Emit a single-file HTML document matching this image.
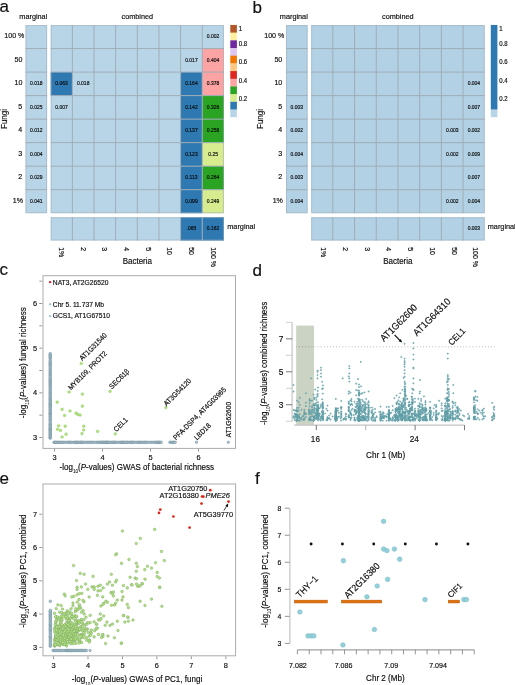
<!DOCTYPE html><html><head><meta charset="utf-8"><style>html,body{margin:0;padding:0;background:#fff;overflow:hidden}svg{display:block;will-change:transform}</style></head><body><svg width="515" height="685" viewBox="0 0 515 685" font-family='"Liberation Sans", sans-serif'>
<style>text{stroke:#000;stroke-width:0.15px;}</style>
<rect width="515" height="685" fill="#fff"/>
<text x="0.00" y="0.00" font-size="17" text-anchor="start" fill="#111" stroke-width="0.1" transform="translate(-0.60,11.90) scale(1,1.0)">a</text>
<text x="0.00" y="0.00" font-size="17" text-anchor="start" fill="#111" stroke-width="0.1" transform="translate(252.50,12.60) scale(1,1.0)">b</text>
<text x="0.00" y="0.00" font-size="17" text-anchor="start" fill="#111" stroke-width="0.1" transform="translate(-0.60,275.30) scale(1,1.0)">c</text>
<text x="0.00" y="0.00" font-size="17" text-anchor="start" fill="#111" stroke-width="0.1" transform="translate(252.50,276.00) scale(1,1.0)">d</text>
<text x="0.00" y="0.00" font-size="17" text-anchor="start" fill="#111" stroke-width="0.1" transform="translate(-0.60,484.00) scale(1,1.0)">e</text>
<text x="0.00" y="0.00" font-size="17" text-anchor="start" fill="#111" stroke-width="0.1" transform="translate(255.00,483.50) scale(1,1.0)">f</text>
<rect x="25.50" y="25.05" width="21.60" height="188.16" fill="#b8d5e8"/>
<rect x="50.70" y="25.05" width="173.20" height="188.16" fill="#b8d5e8"/>
<rect x="202.25" y="48.57" width="21.65" height="23.52" fill="#fca3a3"/>
<rect x="50.70" y="72.09" width="21.65" height="23.52" fill="#2e79b2"/>
<rect x="180.60" y="72.09" width="21.65" height="23.52" fill="#2e79b2"/>
<rect x="202.25" y="72.09" width="21.65" height="23.52" fill="#fca3a3"/>
<rect x="180.60" y="95.61" width="21.65" height="23.52" fill="#2e79b2"/>
<rect x="202.25" y="95.61" width="21.65" height="23.52" fill="#2aa422"/>
<rect x="180.60" y="119.13" width="21.65" height="23.52" fill="#2e79b2"/>
<rect x="202.25" y="119.13" width="21.65" height="23.52" fill="#2aa422"/>
<rect x="180.60" y="142.65" width="21.65" height="23.52" fill="#2e79b2"/>
<rect x="202.25" y="142.65" width="21.65" height="23.52" fill="#d6ec8f"/>
<rect x="180.60" y="166.17" width="21.65" height="23.52" fill="#2e79b2"/>
<rect x="202.25" y="166.17" width="21.65" height="23.52" fill="#2aa422"/>
<rect x="180.60" y="189.69" width="21.65" height="23.52" fill="#2e79b2"/>
<rect x="202.25" y="189.69" width="21.65" height="23.52" fill="#d6ec8f"/>
<rect x="50.70" y="217.20" width="173.20" height="23.30" fill="#b8d5e8"/>
<rect x="180.60" y="217.20" width="21.65" height="23.30" fill="#2e79b2"/>
<rect x="202.25" y="217.20" width="21.65" height="23.30" fill="#2e79b2"/>
<path d="M25.50,48.57H47.10M50.70,48.57H223.90M25.50,72.09H47.10M50.70,72.09H223.90M25.50,95.61H47.10M50.70,95.61H223.90M25.50,119.13H47.10M50.70,119.13H223.90M25.50,142.65H47.10M50.70,142.65H223.90M25.50,166.17H47.10M50.70,166.17H223.90M25.50,189.69H47.10M50.70,189.69H223.90M72.35,25.05V213.21M72.35,217.20V240.50M94.00,25.05V213.21M94.00,217.20V240.50M115.65,25.05V213.21M115.65,217.20V240.50M137.30,25.05V213.21M137.30,217.20V240.50M158.95,25.05V213.21M158.95,217.20V240.50M180.60,25.05V213.21M180.60,217.20V240.50M202.25,25.05V213.21M202.25,217.20V240.50" fill="none" stroke="#a0adb6" stroke-width="1.0"/>
<rect x="26.00" y="25.55" width="20.60" height="187.16" fill="none" stroke="#a0adb6" stroke-width="1" stroke-opacity="0.55"/>
<rect x="51.20" y="25.55" width="172.20" height="187.16" fill="none" stroke="#a0adb6" stroke-width="1" stroke-opacity="0.55"/>
<rect x="51.20" y="217.70" width="172.20" height="22.30" fill="none" stroke="#a0adb6" stroke-width="1" stroke-opacity="0.55"/>
<text x="0.00" y="0.00" font-size="5" text-anchor="middle" fill="#111" stroke-width="0.04" transform="translate(36.30,85.25) scale(1,1.08)">0.018</text>
<text x="0.00" y="0.00" font-size="5" text-anchor="middle" fill="#111" stroke-width="0.04" transform="translate(36.30,108.77) scale(1,1.08)">0.025</text>
<text x="0.00" y="0.00" font-size="5" text-anchor="middle" fill="#111" stroke-width="0.04" transform="translate(36.30,132.29) scale(1,1.08)">0.012</text>
<text x="0.00" y="0.00" font-size="5" text-anchor="middle" fill="#111" stroke-width="0.04" transform="translate(36.30,155.81) scale(1,1.08)">0.004</text>
<text x="0.00" y="0.00" font-size="5" text-anchor="middle" fill="#111" stroke-width="0.04" transform="translate(36.30,179.33) scale(1,1.08)">0.029</text>
<text x="0.00" y="0.00" font-size="5" text-anchor="middle" fill="#111" stroke-width="0.04" transform="translate(36.30,202.85) scale(1,1.08)">0.041</text>
<text x="0.00" y="0.00" font-size="5" text-anchor="middle" fill="#111" stroke-width="0.04" transform="translate(213.07,38.21) scale(1,1.08)">0.002</text>
<text x="0.00" y="0.00" font-size="5" text-anchor="middle" fill="#111" stroke-width="0.04" transform="translate(191.42,61.73) scale(1,1.08)">0.017</text>
<text x="0.00" y="0.00" font-size="5" text-anchor="middle" fill="#111" stroke-width="0.04" transform="translate(213.07,61.73) scale(1,1.08)">0.404</text>
<text x="0.00" y="0.00" font-size="5" text-anchor="middle" fill="#111" stroke-width="0.04" transform="translate(61.53,85.25) scale(1,1.08)">0.063</text>
<text x="0.00" y="0.00" font-size="5" text-anchor="middle" fill="#111" stroke-width="0.04" transform="translate(83.17,85.25) scale(1,1.08)">0.018</text>
<text x="0.00" y="0.00" font-size="5" text-anchor="middle" fill="#111" stroke-width="0.04" transform="translate(191.42,85.25) scale(1,1.08)">0.164</text>
<text x="0.00" y="0.00" font-size="5" text-anchor="middle" fill="#111" stroke-width="0.04" transform="translate(213.07,85.25) scale(1,1.08)">0.378</text>
<text x="0.00" y="0.00" font-size="5" text-anchor="middle" fill="#111" stroke-width="0.04" transform="translate(61.53,108.77) scale(1,1.08)">0.007</text>
<text x="0.00" y="0.00" font-size="5" text-anchor="middle" fill="#111" stroke-width="0.04" transform="translate(191.42,108.77) scale(1,1.08)">0.142</text>
<text x="0.00" y="0.00" font-size="5" text-anchor="middle" fill="#111" stroke-width="0.04" transform="translate(213.07,108.77) scale(1,1.08)">0.326</text>
<text x="0.00" y="0.00" font-size="5" text-anchor="middle" fill="#111" stroke-width="0.04" transform="translate(191.42,132.29) scale(1,1.08)">0.137</text>
<text x="0.00" y="0.00" font-size="5" text-anchor="middle" fill="#111" stroke-width="0.04" transform="translate(213.07,132.29) scale(1,1.08)">0.258</text>
<text x="0.00" y="0.00" font-size="5" text-anchor="middle" fill="#111" stroke-width="0.04" transform="translate(191.42,155.81) scale(1,1.08)">0.123</text>
<text x="0.00" y="0.00" font-size="5" text-anchor="middle" fill="#111" stroke-width="0.04" transform="translate(213.07,155.81) scale(1,1.08)">0.25</text>
<text x="0.00" y="0.00" font-size="5" text-anchor="middle" fill="#111" stroke-width="0.04" transform="translate(191.42,179.33) scale(1,1.08)">0.113</text>
<text x="0.00" y="0.00" font-size="5" text-anchor="middle" fill="#111" stroke-width="0.04" transform="translate(213.07,179.33) scale(1,1.08)">0.264</text>
<text x="0.00" y="0.00" font-size="5" text-anchor="middle" fill="#111" stroke-width="0.04" transform="translate(191.42,202.85) scale(1,1.08)">0.099</text>
<text x="0.00" y="0.00" font-size="5" text-anchor="middle" fill="#111" stroke-width="0.04" transform="translate(213.07,202.85) scale(1,1.08)">0.249</text>
<text x="0.00" y="0.00" font-size="5" text-anchor="middle" fill="#111" stroke-width="0.04" transform="translate(191.42,230.25) scale(1,1.08)">.065</text>
<text x="0.00" y="0.00" font-size="5" text-anchor="middle" fill="#111" stroke-width="0.04" transform="translate(213.07,230.25) scale(1,1.08)">0.162</text>
<text x="0.00" y="0.00" font-size="7.1" text-anchor="end" fill="#111" stroke-width="0.13" transform="translate(24.40,38.11) scale(1,1.08)">100 %</text>
<text x="0.00" y="0.00" font-size="7.1" text-anchor="end" fill="#111" stroke-width="0.13" transform="translate(22.40,61.63) scale(1,1.08)">50</text>
<text x="0.00" y="0.00" font-size="7.1" text-anchor="end" fill="#111" stroke-width="0.13" transform="translate(22.40,85.15) scale(1,1.08)">10</text>
<text x="0.00" y="0.00" font-size="7.1" text-anchor="end" fill="#111" stroke-width="0.13" transform="translate(22.20,108.67) scale(1,1.08)">5</text>
<text x="0.00" y="0.00" font-size="7.1" text-anchor="end" fill="#111" stroke-width="0.13" transform="translate(22.20,132.19) scale(1,1.08)">4</text>
<text x="0.00" y="0.00" font-size="7.1" text-anchor="end" fill="#111" stroke-width="0.13" transform="translate(22.20,155.71) scale(1,1.08)">3</text>
<text x="0.00" y="0.00" font-size="7.1" text-anchor="end" fill="#111" stroke-width="0.13" transform="translate(22.20,179.23) scale(1,1.08)">2</text>
<text x="0.00" y="0.00" font-size="7.1" text-anchor="end" fill="#111" stroke-width="0.13" transform="translate(23.00,202.75) scale(1,1.08)">1%</text>
<text x="0.00" y="0.00" font-size="7.0" text-anchor="start" fill="#111" stroke-width="0.13" transform="translate(59.03,247.20) rotate(90) scale(1,1.08)">1%</text>
<text x="0.00" y="0.00" font-size="7.0" text-anchor="start" fill="#111" stroke-width="0.13" transform="translate(80.67,247.20) rotate(90) scale(1,1.08)">2</text>
<text x="0.00" y="0.00" font-size="7.0" text-anchor="start" fill="#111" stroke-width="0.13" transform="translate(102.33,247.20) rotate(90) scale(1,1.08)">3</text>
<text x="0.00" y="0.00" font-size="7.0" text-anchor="start" fill="#111" stroke-width="0.13" transform="translate(123.97,247.20) rotate(90) scale(1,1.08)">4</text>
<text x="0.00" y="0.00" font-size="7.0" text-anchor="start" fill="#111" stroke-width="0.13" transform="translate(145.62,247.20) rotate(90) scale(1,1.08)">5</text>
<text x="0.00" y="0.00" font-size="7.0" text-anchor="start" fill="#111" stroke-width="0.13" transform="translate(167.27,247.20) rotate(90) scale(1,1.08)">10</text>
<text x="0.00" y="0.00" font-size="7.0" text-anchor="start" fill="#111" stroke-width="0.13" transform="translate(188.92,247.20) rotate(90) scale(1,1.08)">50</text>
<text x="0.00" y="0.00" font-size="7.0" text-anchor="start" fill="#111" stroke-width="0.13" transform="translate(210.57,247.20) rotate(90) scale(1,1.08)">100 %</text>
<text x="0.00" y="0.00" font-size="8.0" text-anchor="middle" fill="#111" stroke-width="0.2" transform="translate(137.30,264.00) scale(1,1.08)">Bacteria</text>
<text x="0.00" y="0.00" font-size="8.0" text-anchor="middle" fill="#111" stroke-width="0.2" transform="translate(7.00,119.00) rotate(-90) scale(1,1.08)">Fungi</text>
<text x="0.00" y="0.00" font-size="7.3" text-anchor="middle" fill="#111" stroke-width="0.13" transform="translate(33.30,19.40) scale(1,1.08)">marginal</text>
<text x="0.00" y="0.00" font-size="7.3" text-anchor="middle" fill="#111" stroke-width="0.13" transform="translate(137.30,19.40) scale(1,1.08)">combined</text>
<text x="0.00" y="0.00" font-size="7.3" text-anchor="start" fill="#111" stroke-width="0.13" transform="translate(227.30,228.80) scale(1,1.08)">marginal</text>
<rect x="230.30" y="24.95" width="6.6" height="7.99" fill="#b25828"/>
<rect x="230.30" y="32.64" width="6.6" height="7.99" fill="#fff0a0"/>
<rect x="230.30" y="40.33" width="6.6" height="7.99" fill="#7028a0"/>
<rect x="230.30" y="48.01" width="6.6" height="7.99" fill="#dec4f0"/>
<rect x="230.30" y="55.70" width="6.6" height="7.99" fill="#f07600"/>
<rect x="230.30" y="63.39" width="6.6" height="7.99" fill="#ffc882"/>
<rect x="230.30" y="71.08" width="6.6" height="7.99" fill="#dc261e"/>
<rect x="230.30" y="78.76" width="6.6" height="7.99" fill="#fca3a3"/>
<rect x="230.30" y="86.45" width="6.6" height="7.99" fill="#2aa422"/>
<rect x="230.30" y="94.14" width="6.6" height="7.99" fill="#d6ec8f"/>
<rect x="230.30" y="101.83" width="6.6" height="7.99" fill="#2e79b2"/>
<rect x="230.30" y="109.51" width="6.6" height="7.69" fill="#b8d5e8"/>
<text x="0.00" y="0.00" font-size="6.0" text-anchor="start" fill="#111" stroke-width="0.13" transform="translate(238.80,30.50) scale(1,1.08)">1</text>
<text x="0.00" y="0.00" font-size="6.0" text-anchor="start" fill="#111" stroke-width="0.13" transform="translate(238.80,45.90) scale(1,1.08)">0.8</text>
<text x="0.00" y="0.00" font-size="6.0" text-anchor="start" fill="#111" stroke-width="0.13" transform="translate(238.80,64.40) scale(1,1.08)">0.6</text>
<text x="0.00" y="0.00" font-size="6.0" text-anchor="start" fill="#111" stroke-width="0.13" transform="translate(238.80,82.80) scale(1,1.08)">0.4</text>
<text x="0.00" y="0.00" font-size="6.0" text-anchor="start" fill="#111" stroke-width="0.13" transform="translate(238.80,101.30) scale(1,1.08)">0.2</text>
<rect x="286.00" y="25.05" width="21.60" height="188.16" fill="#b2d1e5"/>
<rect x="311.15" y="25.05" width="173.60" height="188.16" fill="#b2d1e5"/>
<rect x="311.15" y="217.20" width="173.60" height="23.30" fill="#b2d1e5"/>
<path d="M286.00,48.57H307.60M311.15,48.57H484.75M286.00,72.09H307.60M311.15,72.09H484.75M286.00,95.61H307.60M311.15,95.61H484.75M286.00,119.13H307.60M311.15,119.13H484.75M286.00,142.65H307.60M311.15,142.65H484.75M286.00,166.17H307.60M311.15,166.17H484.75M286.00,189.69H307.60M311.15,189.69H484.75M332.85,25.05V213.21M332.85,217.20V240.50M354.55,25.05V213.21M354.55,217.20V240.50M376.25,25.05V213.21M376.25,217.20V240.50M397.95,25.05V213.21M397.95,217.20V240.50M419.65,25.05V213.21M419.65,217.20V240.50M441.35,25.05V213.21M441.35,217.20V240.50M463.05,25.05V213.21M463.05,217.20V240.50" fill="none" stroke="#a0adb6" stroke-width="1.0"/>
<rect x="286.50" y="25.55" width="20.60" height="187.16" fill="none" stroke="#a0adb6" stroke-width="1" stroke-opacity="0.55"/>
<rect x="311.65" y="25.55" width="172.60" height="187.16" fill="none" stroke="#a0adb6" stroke-width="1" stroke-opacity="0.55"/>
<rect x="311.65" y="217.70" width="172.60" height="22.30" fill="none" stroke="#a0adb6" stroke-width="1" stroke-opacity="0.55"/>
<text x="0.00" y="0.00" font-size="5" text-anchor="middle" fill="#111" stroke-width="0.04" transform="translate(296.80,108.77) scale(1,1.08)">0.003</text>
<text x="0.00" y="0.00" font-size="5" text-anchor="middle" fill="#111" stroke-width="0.04" transform="translate(296.80,132.29) scale(1,1.08)">0.002</text>
<text x="0.00" y="0.00" font-size="5" text-anchor="middle" fill="#111" stroke-width="0.04" transform="translate(296.80,155.81) scale(1,1.08)">0.004</text>
<text x="0.00" y="0.00" font-size="5" text-anchor="middle" fill="#111" stroke-width="0.04" transform="translate(296.80,179.33) scale(1,1.08)">0.003</text>
<text x="0.00" y="0.00" font-size="5" text-anchor="middle" fill="#111" stroke-width="0.04" transform="translate(296.80,202.85) scale(1,1.08)">0.004</text>
<text x="0.00" y="0.00" font-size="5" text-anchor="middle" fill="#111" stroke-width="0.04" transform="translate(473.90,85.25) scale(1,1.08)">0.004</text>
<text x="0.00" y="0.00" font-size="5" text-anchor="middle" fill="#111" stroke-width="0.04" transform="translate(473.90,108.77) scale(1,1.08)">0.007</text>
<text x="0.00" y="0.00" font-size="5" text-anchor="middle" fill="#111" stroke-width="0.04" transform="translate(452.20,132.29) scale(1,1.08)">0.003</text>
<text x="0.00" y="0.00" font-size="5" text-anchor="middle" fill="#111" stroke-width="0.04" transform="translate(473.90,132.29) scale(1,1.08)">0.002</text>
<text x="0.00" y="0.00" font-size="5" text-anchor="middle" fill="#111" stroke-width="0.04" transform="translate(452.20,155.81) scale(1,1.08)">0.002</text>
<text x="0.00" y="0.00" font-size="5" text-anchor="middle" fill="#111" stroke-width="0.04" transform="translate(473.90,155.81) scale(1,1.08)">0.009</text>
<text x="0.00" y="0.00" font-size="5" text-anchor="middle" fill="#111" stroke-width="0.04" transform="translate(473.90,179.33) scale(1,1.08)">0.007</text>
<text x="0.00" y="0.00" font-size="5" text-anchor="middle" fill="#111" stroke-width="0.04" transform="translate(452.20,202.85) scale(1,1.08)">0.002</text>
<text x="0.00" y="0.00" font-size="5" text-anchor="middle" fill="#111" stroke-width="0.04" transform="translate(473.90,202.85) scale(1,1.08)">0.004</text>
<text x="0.00" y="0.00" font-size="5" text-anchor="middle" fill="#111" stroke-width="0.04" transform="translate(473.90,230.25) scale(1,1.08)">0.003</text>
<text x="0.00" y="0.00" font-size="7.1" text-anchor="end" fill="#111" stroke-width="0.13" transform="translate(284.30,38.11) scale(1,1.08)">100 %</text>
<text x="0.00" y="0.00" font-size="7.1" text-anchor="end" fill="#111" stroke-width="0.13" transform="translate(282.30,61.63) scale(1,1.08)">50</text>
<text x="0.00" y="0.00" font-size="7.1" text-anchor="end" fill="#111" stroke-width="0.13" transform="translate(282.30,85.15) scale(1,1.08)">10</text>
<text x="0.00" y="0.00" font-size="7.1" text-anchor="end" fill="#111" stroke-width="0.13" transform="translate(282.10,108.67) scale(1,1.08)">5</text>
<text x="0.00" y="0.00" font-size="7.1" text-anchor="end" fill="#111" stroke-width="0.13" transform="translate(282.10,132.19) scale(1,1.08)">4</text>
<text x="0.00" y="0.00" font-size="7.1" text-anchor="end" fill="#111" stroke-width="0.13" transform="translate(282.10,155.71) scale(1,1.08)">3</text>
<text x="0.00" y="0.00" font-size="7.1" text-anchor="end" fill="#111" stroke-width="0.13" transform="translate(282.10,179.23) scale(1,1.08)">2</text>
<text x="0.00" y="0.00" font-size="7.1" text-anchor="end" fill="#111" stroke-width="0.13" transform="translate(282.90,202.75) scale(1,1.08)">1%</text>
<text x="0.00" y="0.00" font-size="7.0" text-anchor="start" fill="#111" stroke-width="0.13" transform="translate(321.30,247.20) rotate(90) scale(1,1.08)">1%</text>
<text x="0.00" y="0.00" font-size="7.0" text-anchor="start" fill="#111" stroke-width="0.13" transform="translate(343.00,247.20) rotate(90) scale(1,1.08)">2</text>
<text x="0.00" y="0.00" font-size="7.0" text-anchor="start" fill="#111" stroke-width="0.13" transform="translate(364.70,247.20) rotate(90) scale(1,1.08)">3</text>
<text x="0.00" y="0.00" font-size="7.0" text-anchor="start" fill="#111" stroke-width="0.13" transform="translate(386.40,247.20) rotate(90) scale(1,1.08)">4</text>
<text x="0.00" y="0.00" font-size="7.0" text-anchor="start" fill="#111" stroke-width="0.13" transform="translate(408.10,247.20) rotate(90) scale(1,1.08)">5</text>
<text x="0.00" y="0.00" font-size="7.0" text-anchor="start" fill="#111" stroke-width="0.13" transform="translate(429.80,247.20) rotate(90) scale(1,1.08)">10</text>
<text x="0.00" y="0.00" font-size="7.0" text-anchor="start" fill="#111" stroke-width="0.13" transform="translate(451.50,247.20) rotate(90) scale(1,1.08)">50</text>
<text x="0.00" y="0.00" font-size="7.0" text-anchor="start" fill="#111" stroke-width="0.13" transform="translate(473.20,247.20) rotate(90) scale(1,1.08)">100 %</text>
<text x="0.00" y="0.00" font-size="8.0" text-anchor="middle" fill="#111" stroke-width="0.2" transform="translate(397.80,264.00) scale(1,1.08)">Bacteria</text>
<text x="0.00" y="0.00" font-size="8.0" text-anchor="middle" fill="#111" stroke-width="0.2" transform="translate(263.10,119.00) rotate(-90) scale(1,1.08)">Fungi</text>
<text x="0.00" y="0.00" font-size="7.3" text-anchor="middle" fill="#111" stroke-width="0.13" transform="translate(293.80,19.40) scale(1,1.08)">marginal</text>
<text x="0.00" y="0.00" font-size="7.3" text-anchor="middle" fill="#111" stroke-width="0.13" transform="translate(397.80,19.40) scale(1,1.08)">combined</text>
<text x="0.00" y="0.00" font-size="7.3" text-anchor="start" fill="#111" stroke-width="0.13" transform="translate(487.80,228.80) scale(1,1.08)">marginal</text>
<rect x="490.80" y="24.95" width="6.6" height="84.86" fill="#2e79b2"/>
<rect x="490.80" y="109.51" width="6.6" height="7.69" fill="#b8d5e8"/>
<text x="0.00" y="0.00" font-size="6.0" text-anchor="start" fill="#111" stroke-width="0.13" transform="translate(499.30,30.50) scale(1,1.08)">1</text>
<text x="0.00" y="0.00" font-size="6.0" text-anchor="start" fill="#111" stroke-width="0.13" transform="translate(499.30,45.90) scale(1,1.08)">0.8</text>
<text x="0.00" y="0.00" font-size="6.0" text-anchor="start" fill="#111" stroke-width="0.13" transform="translate(499.30,64.40) scale(1,1.08)">0.6</text>
<text x="0.00" y="0.00" font-size="6.0" text-anchor="start" fill="#111" stroke-width="0.13" transform="translate(499.30,82.80) scale(1,1.08)">0.4</text>
<text x="0.00" y="0.00" font-size="6.0" text-anchor="start" fill="#111" stroke-width="0.13" transform="translate(499.30,101.30) scale(1,1.08)">0.2</text>
<rect x="43.0" y="275.7" width="192.50" height="172.70" fill="none" stroke="#ababab" stroke-width="1.0"/>
<line x1="39.30" y1="437.50" x2="42.30" y2="437.50" stroke="#6a6a6a" stroke-width="0.7"/>
<line x1="39.30" y1="415.17" x2="42.30" y2="415.17" stroke="#6a6a6a" stroke-width="0.7"/>
<line x1="39.30" y1="392.83" x2="42.30" y2="392.83" stroke="#6a6a6a" stroke-width="0.7"/>
<line x1="39.30" y1="370.50" x2="42.30" y2="370.50" stroke="#6a6a6a" stroke-width="0.7"/>
<line x1="39.30" y1="348.16" x2="42.30" y2="348.16" stroke="#6a6a6a" stroke-width="0.7"/>
<line x1="39.30" y1="325.82" x2="42.30" y2="325.82" stroke="#6a6a6a" stroke-width="0.7"/>
<line x1="39.30" y1="303.49" x2="42.30" y2="303.49" stroke="#6a6a6a" stroke-width="0.7"/>
<line x1="39.30" y1="281.15" x2="42.30" y2="281.15" stroke="#6a6a6a" stroke-width="0.7"/>
<text x="0.00" y="0.00" font-size="7.4" text-anchor="end" fill="#111" stroke-width="0.13" transform="translate(37.00,440.10) scale(1,1.08)">3</text>
<text x="0.00" y="0.00" font-size="7.4" text-anchor="end" fill="#111" stroke-width="0.13" transform="translate(37.00,395.43) scale(1,1.08)">4</text>
<text x="0.00" y="0.00" font-size="7.4" text-anchor="end" fill="#111" stroke-width="0.13" transform="translate(37.00,350.76) scale(1,1.08)">5</text>
<text x="0.00" y="0.00" font-size="7.4" text-anchor="end" fill="#111" stroke-width="0.13" transform="translate(37.00,306.09) scale(1,1.08)">6</text>
<line x1="54.50" y1="448.90" x2="54.50" y2="451.60" stroke="#6a6a6a" stroke-width="0.7"/>
<text x="0.00" y="0.00" font-size="7.4" text-anchor="middle" fill="#111" stroke-width="0.13" transform="translate(54.50,460.20) scale(1,1.08)">3</text>
<line x1="102.50" y1="448.90" x2="102.50" y2="451.60" stroke="#6a6a6a" stroke-width="0.7"/>
<text x="0.00" y="0.00" font-size="7.4" text-anchor="middle" fill="#111" stroke-width="0.13" transform="translate(102.50,460.20) scale(1,1.08)">4</text>
<line x1="150.50" y1="448.90" x2="150.50" y2="451.60" stroke="#6a6a6a" stroke-width="0.7"/>
<text x="0.00" y="0.00" font-size="7.4" text-anchor="middle" fill="#111" stroke-width="0.13" transform="translate(150.50,460.20) scale(1,1.08)">5</text>
<line x1="198.50" y1="448.90" x2="198.50" y2="451.60" stroke="#6a6a6a" stroke-width="0.7"/>
<text x="0.00" y="0.00" font-size="7.4" text-anchor="middle" fill="#111" stroke-width="0.13" transform="translate(198.50,460.20) scale(1,1.08)">6</text>
<text x="0.00" y="0.00" font-size="8.0" text-anchor="middle" fill="#111" stroke-width="0.2" transform="translate(136.80,469.80) scale(1,1.08)">-log<tspan font-size="4.64" dy="2.88" stroke-width="0.06">10</tspan><tspan dy="-2.88">(</tspan><tspan font-style="italic">P</tspan>-values) GWAS of bacterial richness</text>
<text x="0.00" y="0.00" font-size="8.0" text-anchor="middle" fill="#111" stroke-width="0.2" transform="translate(25.60,362.70) rotate(-90) scale(1,1.08)">-log<tspan font-size="4.64" dy="2.88" stroke-width="0.06">10</tspan><tspan dy="-2.88">(</tspan><tspan font-style="italic">P</tspan>-values) fungal richness</text>
<circle cx="50.20" cy="438.20" r="1.35" fill="#a8c5d2" stroke="#5a7686" stroke-width="0.35"/>
<circle cx="50.20" cy="437.28" r="1.35" fill="#a8c5d2" stroke="#5a7686" stroke-width="0.35"/>
<circle cx="50.20" cy="436.53" r="1.35" fill="#a8c5d2" stroke="#5a7686" stroke-width="0.35"/>
<circle cx="50.20" cy="435.27" r="1.35" fill="#a8c5d2" stroke="#5a7686" stroke-width="0.35"/>
<circle cx="50.20" cy="434.60" r="1.35" fill="#a8c5d2" stroke="#5a7686" stroke-width="0.35"/>
<circle cx="50.20" cy="433.47" r="1.35" fill="#a8c5d2" stroke="#5a7686" stroke-width="0.35"/>
<circle cx="50.20" cy="432.50" r="1.35" fill="#a8c5d2" stroke="#5a7686" stroke-width="0.35"/>
<circle cx="50.20" cy="431.84" r="1.35" fill="#a8c5d2" stroke="#5a7686" stroke-width="0.35"/>
<circle cx="50.20" cy="430.73" r="1.35" fill="#a8c5d2" stroke="#5a7686" stroke-width="0.35"/>
<circle cx="50.20" cy="430.10" r="1.35" fill="#a8c5d2" stroke="#5a7686" stroke-width="0.35"/>
<circle cx="50.20" cy="429.06" r="1.35" fill="#a8c5d2" stroke="#5a7686" stroke-width="0.35"/>
<circle cx="50.20" cy="428.39" r="1.35" fill="#a8c5d2" stroke="#5a7686" stroke-width="0.35"/>
<circle cx="50.20" cy="427.70" r="1.35" fill="#a8c5d2" stroke="#5a7686" stroke-width="0.35"/>
<circle cx="50.20" cy="426.68" r="1.35" fill="#a8c5d2" stroke="#5a7686" stroke-width="0.35"/>
<circle cx="50.20" cy="425.25" r="1.35" fill="#a8c5d2" stroke="#5a7686" stroke-width="0.35"/>
<circle cx="50.20" cy="424.53" r="1.35" fill="#a8c5d2" stroke="#5a7686" stroke-width="0.35"/>
<circle cx="50.20" cy="423.70" r="1.35" fill="#a8c5d2" stroke="#5a7686" stroke-width="0.35"/>
<circle cx="50.20" cy="422.48" r="1.35" fill="#a8c5d2" stroke="#5a7686" stroke-width="0.35"/>
<circle cx="50.20" cy="420.93" r="1.35" fill="#a8c5d2" stroke="#5a7686" stroke-width="0.35"/>
<circle cx="50.20" cy="419.75" r="1.35" fill="#a8c5d2" stroke="#5a7686" stroke-width="0.35"/>
<circle cx="50.20" cy="418.76" r="1.35" fill="#a8c5d2" stroke="#5a7686" stroke-width="0.35"/>
<circle cx="50.20" cy="417.18" r="1.35" fill="#a8c5d2" stroke="#5a7686" stroke-width="0.35"/>
<circle cx="50.20" cy="416.53" r="1.35" fill="#a8c5d2" stroke="#5a7686" stroke-width="0.35"/>
<circle cx="50.20" cy="415.07" r="1.35" fill="#a8c5d2" stroke="#5a7686" stroke-width="0.35"/>
<circle cx="50.20" cy="414.18" r="1.35" fill="#a8c5d2" stroke="#5a7686" stroke-width="0.35"/>
<circle cx="50.20" cy="413.44" r="1.35" fill="#a8c5d2" stroke="#5a7686" stroke-width="0.35"/>
<circle cx="50.20" cy="412.72" r="1.35" fill="#a8c5d2" stroke="#5a7686" stroke-width="0.35"/>
<circle cx="50.20" cy="411.81" r="1.35" fill="#a8c5d2" stroke="#5a7686" stroke-width="0.35"/>
<circle cx="50.20" cy="410.40" r="1.35" fill="#a8c5d2" stroke="#5a7686" stroke-width="0.35"/>
<circle cx="50.20" cy="409.62" r="1.35" fill="#a8c5d2" stroke="#5a7686" stroke-width="0.35"/>
<circle cx="50.20" cy="408.44" r="1.35" fill="#a8c5d2" stroke="#5a7686" stroke-width="0.35"/>
<circle cx="50.20" cy="407.20" r="1.35" fill="#a8c5d2" stroke="#5a7686" stroke-width="0.35"/>
<circle cx="50.20" cy="406.22" r="1.35" fill="#a8c5d2" stroke="#5a7686" stroke-width="0.35"/>
<circle cx="50.20" cy="405.08" r="1.35" fill="#a8c5d2" stroke="#5a7686" stroke-width="0.35"/>
<circle cx="50.20" cy="404.41" r="1.35" fill="#a8c5d2" stroke="#5a7686" stroke-width="0.35"/>
<circle cx="50.20" cy="403.75" r="1.35" fill="#a8c5d2" stroke="#5a7686" stroke-width="0.35"/>
<circle cx="50.20" cy="402.95" r="1.35" fill="#a8c5d2" stroke="#5a7686" stroke-width="0.35"/>
<circle cx="50.20" cy="401.67" r="1.35" fill="#a8c5d2" stroke="#5a7686" stroke-width="0.35"/>
<circle cx="50.20" cy="400.64" r="1.35" fill="#a8c5d2" stroke="#5a7686" stroke-width="0.35"/>
<circle cx="50.20" cy="399.73" r="1.35" fill="#a8c5d2" stroke="#5a7686" stroke-width="0.35"/>
<circle cx="50.20" cy="398.54" r="1.35" fill="#a8c5d2" stroke="#5a7686" stroke-width="0.35"/>
<circle cx="50.20" cy="397.49" r="1.35" fill="#a8c5d2" stroke="#5a7686" stroke-width="0.35"/>
<circle cx="50.20" cy="396.59" r="1.35" fill="#a8c5d2" stroke="#5a7686" stroke-width="0.35"/>
<circle cx="50.20" cy="395.19" r="1.35" fill="#a8c5d2" stroke="#5a7686" stroke-width="0.35"/>
<circle cx="50.20" cy="393.89" r="1.35" fill="#a8c5d2" stroke="#5a7686" stroke-width="0.35"/>
<circle cx="50.20" cy="393.05" r="1.35" fill="#a8c5d2" stroke="#5a7686" stroke-width="0.35"/>
<circle cx="50.20" cy="391.88" r="1.35" fill="#a8c5d2" stroke="#5a7686" stroke-width="0.35"/>
<circle cx="50.20" cy="390.75" r="1.35" fill="#a8c5d2" stroke="#5a7686" stroke-width="0.35"/>
<circle cx="50.20" cy="389.28" r="1.35" fill="#a8c5d2" stroke="#5a7686" stroke-width="0.35"/>
<circle cx="50.20" cy="387.95" r="1.35" fill="#a8c5d2" stroke="#5a7686" stroke-width="0.35"/>
<circle cx="50.20" cy="387.06" r="1.35" fill="#a8c5d2" stroke="#5a7686" stroke-width="0.35"/>
<circle cx="50.20" cy="385.48" r="1.35" fill="#a8c5d2" stroke="#5a7686" stroke-width="0.35"/>
<circle cx="50.20" cy="384.76" r="1.35" fill="#a8c5d2" stroke="#5a7686" stroke-width="0.35"/>
<circle cx="50.20" cy="383.74" r="1.35" fill="#a8c5d2" stroke="#5a7686" stroke-width="0.35"/>
<circle cx="50.20" cy="382.38" r="1.35" fill="#a8c5d2" stroke="#5a7686" stroke-width="0.35"/>
<circle cx="50.20" cy="381.63" r="1.35" fill="#a8c5d2" stroke="#5a7686" stroke-width="0.35"/>
<circle cx="50.20" cy="380.54" r="1.35" fill="#a8c5d2" stroke="#5a7686" stroke-width="0.35"/>
<circle cx="50.20" cy="379.90" r="1.35" fill="#a8c5d2" stroke="#5a7686" stroke-width="0.35"/>
<circle cx="50.20" cy="378.64" r="1.35" fill="#a8c5d2" stroke="#5a7686" stroke-width="0.35"/>
<circle cx="50.20" cy="377.27" r="1.35" fill="#a8c5d2" stroke="#5a7686" stroke-width="0.35"/>
<circle cx="50.20" cy="376.10" r="1.35" fill="#a8c5d2" stroke="#5a7686" stroke-width="0.35"/>
<circle cx="50.20" cy="374.62" r="1.35" fill="#a8c5d2" stroke="#5a7686" stroke-width="0.35"/>
<circle cx="50.20" cy="373.71" r="1.35" fill="#a8c5d2" stroke="#5a7686" stroke-width="0.35"/>
<circle cx="50.20" cy="372.41" r="1.35" fill="#a8c5d2" stroke="#5a7686" stroke-width="0.35"/>
<circle cx="50.20" cy="371.22" r="1.35" fill="#a8c5d2" stroke="#5a7686" stroke-width="0.35"/>
<circle cx="50.20" cy="370.04" r="1.35" fill="#a8c5d2" stroke="#5a7686" stroke-width="0.35"/>
<circle cx="50.20" cy="368.98" r="1.35" fill="#a8c5d2" stroke="#5a7686" stroke-width="0.35"/>
<circle cx="50.20" cy="367.54" r="1.35" fill="#a8c5d2" stroke="#5a7686" stroke-width="0.35"/>
<circle cx="50.20" cy="366.00" r="1.35" fill="#a8c5d2" stroke="#5a7686" stroke-width="0.35"/>
<circle cx="50.20" cy="364.93" r="1.35" fill="#a8c5d2" stroke="#5a7686" stroke-width="0.35"/>
<circle cx="50.20" cy="363.66" r="1.35" fill="#a8c5d2" stroke="#5a7686" stroke-width="0.35"/>
<circle cx="50.20" cy="363.00" r="1.35" fill="#a8c5d2" stroke="#5a7686" stroke-width="0.35"/>
<circle cx="50.20" cy="361.70" r="1.35" fill="#a8c5d2" stroke="#5a7686" stroke-width="0.35"/>
<circle cx="50.20" cy="360.45" r="1.35" fill="#a8c5d2" stroke="#5a7686" stroke-width="0.35"/>
<circle cx="50.20" cy="358.86" r="1.35" fill="#a8c5d2" stroke="#5a7686" stroke-width="0.35"/>
<circle cx="50.20" cy="357.44" r="1.35" fill="#a8c5d2" stroke="#5a7686" stroke-width="0.35"/>
<circle cx="50.20" cy="356.55" r="1.35" fill="#a8c5d2" stroke="#5a7686" stroke-width="0.35"/>
<circle cx="50.20" cy="355.57" r="1.35" fill="#a8c5d2" stroke="#5a7686" stroke-width="0.35"/>
<circle cx="50.20" cy="354.30" r="1.35" fill="#a8c5d2" stroke="#5a7686" stroke-width="0.35"/>
<circle cx="50.20" cy="353.68" r="1.35" fill="#a8c5d2" stroke="#5a7686" stroke-width="0.35"/>
<circle cx="54.00" cy="442.30" r="1.3" fill="#a8c5d2" stroke="#5a7686" stroke-width="0.35"/>
<circle cx="54.77" cy="442.30" r="1.3" fill="#a8c5d2" stroke="#5a7686" stroke-width="0.35"/>
<circle cx="55.49" cy="442.30" r="1.3" fill="#a8c5d2" stroke="#5a7686" stroke-width="0.35"/>
<circle cx="56.14" cy="442.30" r="1.3" fill="#a8c5d2" stroke="#5a7686" stroke-width="0.35"/>
<circle cx="57.51" cy="442.30" r="1.3" fill="#a8c5d2" stroke="#5a7686" stroke-width="0.35"/>
<circle cx="58.24" cy="442.30" r="1.3" fill="#a8c5d2" stroke="#5a7686" stroke-width="0.35"/>
<circle cx="59.09" cy="442.30" r="1.3" fill="#a8c5d2" stroke="#5a7686" stroke-width="0.35"/>
<circle cx="60.08" cy="442.30" r="1.3" fill="#a8c5d2" stroke="#5a7686" stroke-width="0.35"/>
<circle cx="61.55" cy="442.30" r="1.3" fill="#a8c5d2" stroke="#5a7686" stroke-width="0.35"/>
<circle cx="62.23" cy="442.30" r="1.3" fill="#a8c5d2" stroke="#5a7686" stroke-width="0.35"/>
<circle cx="63.28" cy="442.30" r="1.3" fill="#a8c5d2" stroke="#5a7686" stroke-width="0.35"/>
<circle cx="64.43" cy="442.30" r="1.3" fill="#a8c5d2" stroke="#5a7686" stroke-width="0.35"/>
<circle cx="65.91" cy="442.30" r="1.3" fill="#a8c5d2" stroke="#5a7686" stroke-width="0.35"/>
<circle cx="67.33" cy="442.30" r="1.3" fill="#a8c5d2" stroke="#5a7686" stroke-width="0.35"/>
<circle cx="68.80" cy="442.30" r="1.3" fill="#a8c5d2" stroke="#5a7686" stroke-width="0.35"/>
<circle cx="69.68" cy="442.30" r="1.3" fill="#a8c5d2" stroke="#5a7686" stroke-width="0.35"/>
<circle cx="70.69" cy="442.30" r="1.3" fill="#a8c5d2" stroke="#5a7686" stroke-width="0.35"/>
<circle cx="71.65" cy="442.30" r="1.3" fill="#a8c5d2" stroke="#5a7686" stroke-width="0.35"/>
<circle cx="73.13" cy="442.30" r="1.3" fill="#a8c5d2" stroke="#5a7686" stroke-width="0.35"/>
<circle cx="74.69" cy="442.30" r="1.3" fill="#a8c5d2" stroke="#5a7686" stroke-width="0.35"/>
<circle cx="75.44" cy="442.30" r="1.3" fill="#a8c5d2" stroke="#5a7686" stroke-width="0.35"/>
<circle cx="76.22" cy="442.30" r="1.3" fill="#a8c5d2" stroke="#5a7686" stroke-width="0.35"/>
<circle cx="77.05" cy="442.30" r="1.3" fill="#a8c5d2" stroke="#5a7686" stroke-width="0.35"/>
<circle cx="77.88" cy="442.30" r="1.3" fill="#a8c5d2" stroke="#5a7686" stroke-width="0.35"/>
<circle cx="78.97" cy="442.30" r="1.3" fill="#a8c5d2" stroke="#5a7686" stroke-width="0.35"/>
<circle cx="80.16" cy="442.30" r="1.3" fill="#a8c5d2" stroke="#5a7686" stroke-width="0.35"/>
<circle cx="81.02" cy="442.30" r="1.3" fill="#a8c5d2" stroke="#5a7686" stroke-width="0.35"/>
<circle cx="81.63" cy="442.30" r="1.3" fill="#a8c5d2" stroke="#5a7686" stroke-width="0.35"/>
<circle cx="82.64" cy="442.30" r="1.3" fill="#a8c5d2" stroke="#5a7686" stroke-width="0.35"/>
<circle cx="83.61" cy="442.30" r="1.3" fill="#a8c5d2" stroke="#5a7686" stroke-width="0.35"/>
<circle cx="84.78" cy="442.30" r="1.3" fill="#a8c5d2" stroke="#5a7686" stroke-width="0.35"/>
<circle cx="86.33" cy="442.30" r="1.3" fill="#a8c5d2" stroke="#5a7686" stroke-width="0.35"/>
<circle cx="87.62" cy="442.30" r="1.3" fill="#a8c5d2" stroke="#5a7686" stroke-width="0.35"/>
<circle cx="88.74" cy="442.30" r="1.3" fill="#a8c5d2" stroke="#5a7686" stroke-width="0.35"/>
<circle cx="89.96" cy="442.30" r="1.3" fill="#a8c5d2" stroke="#5a7686" stroke-width="0.35"/>
<circle cx="91.23" cy="442.30" r="1.3" fill="#a8c5d2" stroke="#5a7686" stroke-width="0.35"/>
<circle cx="91.89" cy="442.30" r="1.3" fill="#a8c5d2" stroke="#5a7686" stroke-width="0.35"/>
<circle cx="93.39" cy="442.30" r="1.3" fill="#a8c5d2" stroke="#5a7686" stroke-width="0.35"/>
<circle cx="94.77" cy="442.30" r="1.3" fill="#a8c5d2" stroke="#5a7686" stroke-width="0.35"/>
<circle cx="96.24" cy="442.30" r="1.3" fill="#a8c5d2" stroke="#5a7686" stroke-width="0.35"/>
<circle cx="97.64" cy="442.30" r="1.3" fill="#a8c5d2" stroke="#5a7686" stroke-width="0.35"/>
<circle cx="98.63" cy="442.30" r="1.3" fill="#a8c5d2" stroke="#5a7686" stroke-width="0.35"/>
<circle cx="99.63" cy="442.30" r="1.3" fill="#a8c5d2" stroke="#5a7686" stroke-width="0.35"/>
<circle cx="100.33" cy="442.30" r="1.3" fill="#a8c5d2" stroke="#5a7686" stroke-width="0.35"/>
<circle cx="101.57" cy="442.30" r="1.3" fill="#a8c5d2" stroke="#5a7686" stroke-width="0.35"/>
<circle cx="102.23" cy="442.30" r="1.3" fill="#a8c5d2" stroke="#5a7686" stroke-width="0.35"/>
<circle cx="102.90" cy="442.30" r="1.3" fill="#a8c5d2" stroke="#5a7686" stroke-width="0.35"/>
<circle cx="103.71" cy="442.30" r="1.3" fill="#a8c5d2" stroke="#5a7686" stroke-width="0.35"/>
<circle cx="104.47" cy="442.30" r="1.3" fill="#a8c5d2" stroke="#5a7686" stroke-width="0.35"/>
<circle cx="105.41" cy="442.30" r="1.3" fill="#a8c5d2" stroke="#5a7686" stroke-width="0.35"/>
<circle cx="106.06" cy="442.30" r="1.3" fill="#a8c5d2" stroke="#5a7686" stroke-width="0.35"/>
<circle cx="106.66" cy="442.30" r="1.3" fill="#a8c5d2" stroke="#5a7686" stroke-width="0.35"/>
<circle cx="107.41" cy="442.30" r="1.3" fill="#a8c5d2" stroke="#5a7686" stroke-width="0.35"/>
<circle cx="108.11" cy="442.30" r="1.3" fill="#a8c5d2" stroke="#5a7686" stroke-width="0.35"/>
<circle cx="109.08" cy="442.30" r="1.3" fill="#a8c5d2" stroke="#5a7686" stroke-width="0.35"/>
<circle cx="109.70" cy="442.30" r="1.3" fill="#a8c5d2" stroke="#5a7686" stroke-width="0.35"/>
<circle cx="111.18" cy="442.30" r="1.3" fill="#a8c5d2" stroke="#5a7686" stroke-width="0.35"/>
<circle cx="112.39" cy="442.30" r="1.3" fill="#a8c5d2" stroke="#5a7686" stroke-width="0.35"/>
<circle cx="113.14" cy="442.30" r="1.3" fill="#a8c5d2" stroke="#5a7686" stroke-width="0.35"/>
<circle cx="113.99" cy="442.30" r="1.3" fill="#a8c5d2" stroke="#5a7686" stroke-width="0.35"/>
<circle cx="114.94" cy="442.30" r="1.3" fill="#a8c5d2" stroke="#5a7686" stroke-width="0.35"/>
<circle cx="115.90" cy="442.30" r="1.3" fill="#a8c5d2" stroke="#5a7686" stroke-width="0.35"/>
<circle cx="116.63" cy="442.30" r="1.3" fill="#a8c5d2" stroke="#5a7686" stroke-width="0.35"/>
<circle cx="118.08" cy="442.30" r="1.3" fill="#a8c5d2" stroke="#5a7686" stroke-width="0.35"/>
<circle cx="119.67" cy="442.30" r="1.3" fill="#a8c5d2" stroke="#5a7686" stroke-width="0.35"/>
<circle cx="120.73" cy="442.30" r="1.3" fill="#a8c5d2" stroke="#5a7686" stroke-width="0.35"/>
<circle cx="121.82" cy="442.30" r="1.3" fill="#a8c5d2" stroke="#5a7686" stroke-width="0.35"/>
<circle cx="122.50" cy="442.30" r="1.3" fill="#a8c5d2" stroke="#5a7686" stroke-width="0.35"/>
<circle cx="123.21" cy="442.30" r="1.3" fill="#a8c5d2" stroke="#5a7686" stroke-width="0.35"/>
<circle cx="124.15" cy="442.30" r="1.3" fill="#a8c5d2" stroke="#5a7686" stroke-width="0.35"/>
<circle cx="125.01" cy="442.30" r="1.3" fill="#a8c5d2" stroke="#5a7686" stroke-width="0.35"/>
<circle cx="126.44" cy="442.30" r="1.3" fill="#a8c5d2" stroke="#5a7686" stroke-width="0.35"/>
<circle cx="127.20" cy="442.30" r="1.3" fill="#a8c5d2" stroke="#5a7686" stroke-width="0.35"/>
<circle cx="127.83" cy="442.30" r="1.3" fill="#a8c5d2" stroke="#5a7686" stroke-width="0.35"/>
<circle cx="129.38" cy="442.30" r="1.3" fill="#a8c5d2" stroke="#5a7686" stroke-width="0.35"/>
<circle cx="130.51" cy="442.30" r="1.3" fill="#a8c5d2" stroke="#5a7686" stroke-width="0.35"/>
<circle cx="131.25" cy="442.30" r="1.3" fill="#a8c5d2" stroke="#5a7686" stroke-width="0.35"/>
<circle cx="132.40" cy="442.30" r="1.3" fill="#a8c5d2" stroke="#5a7686" stroke-width="0.35"/>
<circle cx="133.02" cy="442.30" r="1.3" fill="#a8c5d2" stroke="#5a7686" stroke-width="0.35"/>
<circle cx="134.15" cy="442.30" r="1.3" fill="#a8c5d2" stroke="#5a7686" stroke-width="0.35"/>
<circle cx="135.73" cy="442.30" r="1.3" fill="#a8c5d2" stroke="#5a7686" stroke-width="0.35"/>
<circle cx="137.19" cy="442.30" r="1.3" fill="#a8c5d2" stroke="#5a7686" stroke-width="0.35"/>
<circle cx="138.49" cy="442.30" r="1.3" fill="#a8c5d2" stroke="#5a7686" stroke-width="0.35"/>
<circle cx="139.35" cy="442.30" r="1.3" fill="#a8c5d2" stroke="#5a7686" stroke-width="0.35"/>
<circle cx="140.32" cy="442.30" r="1.3" fill="#a8c5d2" stroke="#5a7686" stroke-width="0.35"/>
<circle cx="141.08" cy="442.30" r="1.3" fill="#a8c5d2" stroke="#5a7686" stroke-width="0.35"/>
<circle cx="142.46" cy="442.30" r="1.3" fill="#a8c5d2" stroke="#5a7686" stroke-width="0.35"/>
<circle cx="143.59" cy="442.30" r="1.3" fill="#a8c5d2" stroke="#5a7686" stroke-width="0.35"/>
<circle cx="144.97" cy="442.30" r="1.3" fill="#a8c5d2" stroke="#5a7686" stroke-width="0.35"/>
<circle cx="145.90" cy="442.30" r="1.3" fill="#a8c5d2" stroke="#5a7686" stroke-width="0.35"/>
<circle cx="146.72" cy="442.30" r="1.3" fill="#a8c5d2" stroke="#5a7686" stroke-width="0.35"/>
<circle cx="148.13" cy="442.30" r="1.3" fill="#a8c5d2" stroke="#5a7686" stroke-width="0.35"/>
<circle cx="149.72" cy="442.30" r="1.3" fill="#a8c5d2" stroke="#5a7686" stroke-width="0.35"/>
<circle cx="151.17" cy="442.30" r="1.3" fill="#a8c5d2" stroke="#5a7686" stroke-width="0.35"/>
<circle cx="152.58" cy="442.30" r="1.3" fill="#a8c5d2" stroke="#5a7686" stroke-width="0.35"/>
<circle cx="153.99" cy="442.30" r="1.3" fill="#a8c5d2" stroke="#5a7686" stroke-width="0.35"/>
<circle cx="155.33" cy="442.30" r="1.3" fill="#a8c5d2" stroke="#5a7686" stroke-width="0.35"/>
<circle cx="156.16" cy="442.30" r="1.3" fill="#a8c5d2" stroke="#5a7686" stroke-width="0.35"/>
<circle cx="157.28" cy="442.30" r="1.3" fill="#a8c5d2" stroke="#5a7686" stroke-width="0.35"/>
<circle cx="158.23" cy="442.30" r="1.3" fill="#a8c5d2" stroke="#5a7686" stroke-width="0.35"/>
<circle cx="158.86" cy="442.30" r="1.3" fill="#a8c5d2" stroke="#5a7686" stroke-width="0.35"/>
<circle cx="159.49" cy="442.30" r="1.3" fill="#a8c5d2" stroke="#5a7686" stroke-width="0.35"/>
<circle cx="160.37" cy="442.30" r="1.3" fill="#a8c5d2" stroke="#5a7686" stroke-width="0.35"/>
<circle cx="161.23" cy="442.30" r="1.3" fill="#a8c5d2" stroke="#5a7686" stroke-width="0.35"/>
<circle cx="169.90" cy="442.30" r="1.3" fill="#a8c5d2" stroke="#5a7686" stroke-width="0.35"/>
<circle cx="171.00" cy="442.30" r="1.3" fill="#a8c5d2" stroke="#5a7686" stroke-width="0.35"/>
<circle cx="172.10" cy="442.30" r="1.3" fill="#a8c5d2" stroke="#5a7686" stroke-width="0.35"/>
<circle cx="173.20" cy="442.30" r="1.3" fill="#a8c5d2" stroke="#5a7686" stroke-width="0.35"/>
<circle cx="174.20" cy="442.30" r="1.3" fill="#a8c5d2" stroke="#5a7686" stroke-width="0.35"/>
<circle cx="175.20" cy="442.30" r="1.3" fill="#a8c5d2" stroke="#5a7686" stroke-width="0.35"/>
<circle cx="196.50" cy="442.30" r="1.3" fill="#a8c5d2" stroke="#5a7686" stroke-width="0.35"/>
<circle cx="228.30" cy="442.30" r="1.3" fill="#a8c5d2" stroke="#5a7686" stroke-width="0.35"/>
<circle cx="50.10" cy="282.10" r="1.2" fill="#e02020"/>
<circle cx="50.10" cy="304.30" r="1.2" fill="#a9c9d6"/>
<circle cx="50.10" cy="316.10" r="1.2" fill="#a9c9d6"/>
<text x="0.00" y="0.00" font-size="6.7" text-anchor="start" fill="#111" stroke-width="0.13" transform="translate(52.80,284.50) scale(1,1.08)">NAT3, AT2G26520</text>
<text x="0.00" y="0.00" font-size="6.7" text-anchor="start" fill="#111" stroke-width="0.13" transform="translate(52.80,306.60) scale(1,1.08)">Chr 5. 11.737 Mb</text>
<text x="0.00" y="0.00" font-size="6.7" text-anchor="start" fill="#111" stroke-width="0.13" transform="translate(52.80,318.40) scale(1,1.08)">GCS1, AT1G67510</text>
<circle cx="81.30" cy="363.50" r="1.35" fill="#b2e580" stroke="#86c35c" stroke-width="0.4"/>
<circle cx="69.10" cy="392.00" r="1.35" fill="#b2e580" stroke="#86c35c" stroke-width="0.4"/>
<circle cx="110.00" cy="391.30" r="1.35" fill="#b2e580" stroke="#86c35c" stroke-width="0.4"/>
<circle cx="82.40" cy="394.10" r="1.35" fill="#b2e580" stroke="#86c35c" stroke-width="0.4"/>
<circle cx="57.20" cy="402.20" r="1.35" fill="#b2e580" stroke="#86c35c" stroke-width="0.4"/>
<circle cx="62.10" cy="409.40" r="1.35" fill="#b2e580" stroke="#86c35c" stroke-width="0.4"/>
<circle cx="70.00" cy="411.00" r="1.35" fill="#b2e580" stroke="#86c35c" stroke-width="0.4"/>
<circle cx="64.60" cy="415.50" r="1.35" fill="#b2e580" stroke="#86c35c" stroke-width="0.4"/>
<circle cx="76.10" cy="413.20" r="1.35" fill="#b2e580" stroke="#86c35c" stroke-width="0.4"/>
<circle cx="77.80" cy="414.40" r="1.35" fill="#b2e580" stroke="#86c35c" stroke-width="0.4"/>
<circle cx="80.10" cy="415.10" r="1.35" fill="#b2e580" stroke="#86c35c" stroke-width="0.4"/>
<circle cx="82.40" cy="406.20" r="1.35" fill="#b2e580" stroke="#86c35c" stroke-width="0.4"/>
<circle cx="58.60" cy="425.80" r="1.35" fill="#b2e580" stroke="#86c35c" stroke-width="0.4"/>
<circle cx="57.50" cy="429.30" r="1.35" fill="#b2e580" stroke="#86c35c" stroke-width="0.4"/>
<circle cx="60.50" cy="430.40" r="1.35" fill="#b2e580" stroke="#86c35c" stroke-width="0.4"/>
<circle cx="65.20" cy="426.20" r="1.35" fill="#b2e580" stroke="#86c35c" stroke-width="0.4"/>
<circle cx="62.10" cy="437.00" r="1.35" fill="#b2e580" stroke="#86c35c" stroke-width="0.4"/>
<circle cx="66.10" cy="434.20" r="1.35" fill="#b2e580" stroke="#86c35c" stroke-width="0.4"/>
<circle cx="83.80" cy="426.20" r="1.35" fill="#b2e580" stroke="#86c35c" stroke-width="0.4"/>
<circle cx="83.60" cy="430.00" r="1.35" fill="#b2e580" stroke="#86c35c" stroke-width="0.4"/>
<circle cx="82.00" cy="433.70" r="1.35" fill="#b2e580" stroke="#86c35c" stroke-width="0.4"/>
<circle cx="97.60" cy="431.40" r="1.35" fill="#b2e580" stroke="#86c35c" stroke-width="0.4"/>
<circle cx="115.30" cy="433.90" r="1.35" fill="#b2e580" stroke="#86c35c" stroke-width="0.4"/>
<circle cx="165.90" cy="407.60" r="1.35" fill="#b2e580" stroke="#86c35c" stroke-width="0.4"/>
<text x="0.00" y="0.00" font-size="6.7" text-anchor="start" fill="#111" stroke-width="0.13" transform="translate(82.30,361.10) rotate(-45) scale(1,1.08)">AT1G31540</text>
<text x="0.00" y="0.00" font-size="6.7" text-anchor="start" fill="#111" stroke-width="0.13" transform="translate(70.90,390.60) rotate(-45) scale(1,1.08)">MYB109, PROT2</text>
<text x="0.00" y="0.00" font-size="6.7" text-anchor="start" fill="#111" stroke-width="0.13" transform="translate(112.10,389.50) rotate(-45) scale(1,1.08)">SEC61&#946;</text>
<text x="0.00" y="0.00" font-size="6.7" text-anchor="start" fill="#111" stroke-width="0.13" transform="translate(116.50,432.20) rotate(-45) scale(1,1.08)">CEL1</text>
<text x="0.00" y="0.00" font-size="6.7" text-anchor="start" fill="#111" stroke-width="0.13" transform="translate(166.50,406.60) rotate(-45) scale(1,1.08)">AT3G54120</text>
<text x="0.00" y="0.00" font-size="6.7" text-anchor="start" fill="#111" stroke-width="0.13" transform="translate(176.10,440.60) rotate(-45) scale(1,1.08)">PFA-DSP4, AT4G03965</text>
<text x="0.00" y="0.00" font-size="6.7" text-anchor="start" fill="#111" stroke-width="0.13" transform="translate(196.90,440.60) rotate(-45) scale(1,1.08)">LBD18</text>
<text x="0.00" y="0.00" font-size="6.7" text-anchor="start" fill="#111" stroke-width="0.13" transform="translate(231.30,437.50) rotate(-90) scale(1,1.08)">AT1G62600</text>
<rect x="296.2" y="325.6" width="17.8" height="99.4" fill="#cbd3c4"/>
<line x1="296" y1="346.8" x2="495" y2="346.8" stroke="#777" stroke-width="0.7" stroke-dasharray="0.7,2.4"/>
<line x1="292.10" y1="322.30" x2="292.10" y2="421.20" stroke="#c4c4c4" stroke-width="1.2"/>
<line x1="286.00" y1="421.20" x2="292.10" y2="421.20" stroke="#c4c4c4" stroke-width="0.8"/>
<line x1="286.00" y1="404.73" x2="292.10" y2="404.73" stroke="#555" stroke-width="0.8"/>
<line x1="286.00" y1="388.26" x2="292.10" y2="388.26" stroke="#c4c4c4" stroke-width="0.8"/>
<line x1="286.00" y1="371.79" x2="292.10" y2="371.79" stroke="#555" stroke-width="0.8"/>
<line x1="286.00" y1="355.32" x2="292.10" y2="355.32" stroke="#c4c4c4" stroke-width="0.8"/>
<line x1="286.00" y1="338.85" x2="292.10" y2="338.85" stroke="#555" stroke-width="0.8"/>
<line x1="286.00" y1="322.38" x2="292.10" y2="322.38" stroke="#c4c4c4" stroke-width="0.8"/>
<text x="0.00" y="0.00" font-size="8.4" text-anchor="end" fill="#111" stroke-width="0.2" transform="translate(283.40,407.73) scale(1,1.08)">3</text>
<text x="0.00" y="0.00" font-size="8.4" text-anchor="end" fill="#111" stroke-width="0.2" transform="translate(283.40,374.79) scale(1,1.08)">5</text>
<text x="0.00" y="0.00" font-size="8.4" text-anchor="end" fill="#111" stroke-width="0.2" transform="translate(283.40,341.85) scale(1,1.08)">7</text>
<line x1="294.00" y1="425.10" x2="464.40" y2="425.10" stroke="#c4c4c4" stroke-width="1.2"/>
<line x1="316.30" y1="425.10" x2="316.30" y2="430.20" stroke="#555" stroke-width="0.8"/>
<line x1="365.70" y1="425.10" x2="365.70" y2="430.20" stroke="#a0a0a0" stroke-width="0.8"/>
<line x1="415.10" y1="425.10" x2="415.10" y2="430.20" stroke="#555" stroke-width="0.8"/>
<line x1="464.50" y1="425.10" x2="464.50" y2="430.20" stroke="#555" stroke-width="0.8"/>
<text x="0.00" y="0.00" font-size="8.2" text-anchor="middle" fill="#111" stroke-width="0.2" transform="translate(315.40,442.00) scale(1,1.08)">16</text>
<text x="0.00" y="0.00" font-size="8.2" text-anchor="middle" fill="#111" stroke-width="0.2" transform="translate(414.30,442.00) scale(1,1.08)">24</text>
<text x="0.00" y="0.00" font-size="8.2" text-anchor="middle" fill="#111" stroke-width="0.2" transform="translate(385.60,458.20) scale(1,1.08)">Chr 1 (Mb)</text>
<text x="0.00" y="0.00" font-size="7.95" text-anchor="middle" fill="#111" stroke-width="0.2" transform="translate(267.00,363.30) rotate(-90) scale(1,1.08)">-log<tspan font-size="4.61" dy="2.86" stroke-width="0.06">10</tspan><tspan dy="-2.86">(</tspan><tspan font-style="italic">P</tspan>-values) combined richness</text>
<circle cx="294.79" cy="416.30" r="0.62" fill="#9fcfd6" stroke="#4b8d97" stroke-width="0.55"/>
<circle cx="294.79" cy="410.38" r="0.62" fill="#9fcfd6" stroke="#4b8d97" stroke-width="0.55"/>
<circle cx="294.79" cy="414.13" r="0.62" fill="#9fcfd6" stroke="#4b8d97" stroke-width="0.55"/>
<circle cx="293.57" cy="416.34" r="0.62" fill="#9fcfd6" stroke="#4b8d97" stroke-width="0.55"/>
<circle cx="294.79" cy="419.90" r="0.62" fill="#9fcfd6" stroke="#4b8d97" stroke-width="0.55"/>
<circle cx="294.79" cy="418.25" r="0.62" fill="#9fcfd6" stroke="#4b8d97" stroke-width="0.55"/>
<circle cx="294.79" cy="413.37" r="0.62" fill="#9fcfd6" stroke="#4b8d97" stroke-width="0.55"/>
<circle cx="293.57" cy="410.00" r="0.62" fill="#9fcfd6" stroke="#4b8d97" stroke-width="0.55"/>
<circle cx="293.57" cy="417.58" r="0.62" fill="#9fcfd6" stroke="#4b8d97" stroke-width="0.55"/>
<circle cx="296.98" cy="420.35" r="0.62" fill="#9fcfd6" stroke="#4b8d97" stroke-width="0.55"/>
<circle cx="299.81" cy="404.87" r="0.62" fill="#9fcfd6" stroke="#4b8d97" stroke-width="0.55"/>
<circle cx="298.72" cy="420.44" r="0.62" fill="#9fcfd6" stroke="#4b8d97" stroke-width="0.55"/>
<circle cx="296.98" cy="419.99" r="0.62" fill="#9fcfd6" stroke="#4b8d97" stroke-width="0.55"/>
<circle cx="296.11" cy="414.02" r="0.62" fill="#9fcfd6" stroke="#4b8d97" stroke-width="0.55"/>
<circle cx="298.72" cy="407.75" r="0.62" fill="#9fcfd6" stroke="#4b8d97" stroke-width="0.55"/>
<circle cx="296.98" cy="411.39" r="0.62" fill="#9fcfd6" stroke="#4b8d97" stroke-width="0.55"/>
<circle cx="299.81" cy="420.71" r="0.62" fill="#9fcfd6" stroke="#4b8d97" stroke-width="0.55"/>
<circle cx="296.98" cy="420.64" r="0.62" fill="#9fcfd6" stroke="#4b8d97" stroke-width="0.55"/>
<circle cx="299.81" cy="397.85" r="0.62" fill="#9fcfd6" stroke="#4b8d97" stroke-width="0.55"/>
<circle cx="296.98" cy="416.48" r="0.62" fill="#9fcfd6" stroke="#4b8d97" stroke-width="0.55"/>
<circle cx="296.11" cy="410.90" r="0.62" fill="#9fcfd6" stroke="#4b8d97" stroke-width="0.55"/>
<circle cx="296.98" cy="410.33" r="0.62" fill="#9fcfd6" stroke="#4b8d97" stroke-width="0.55"/>
<circle cx="296.11" cy="410.18" r="0.62" fill="#9fcfd6" stroke="#4b8d97" stroke-width="0.55"/>
<circle cx="298.72" cy="402.15" r="0.62" fill="#9fcfd6" stroke="#4b8d97" stroke-width="0.55"/>
<circle cx="296.11" cy="420.78" r="0.62" fill="#9fcfd6" stroke="#4b8d97" stroke-width="0.55"/>
<circle cx="296.11" cy="417.01" r="0.62" fill="#9fcfd6" stroke="#4b8d97" stroke-width="0.55"/>
<circle cx="298.72" cy="416.17" r="0.62" fill="#9fcfd6" stroke="#4b8d97" stroke-width="0.55"/>
<circle cx="297.61" cy="411.26" r="0.62" fill="#9fcfd6" stroke="#4b8d97" stroke-width="0.55"/>
<circle cx="296.98" cy="420.37" r="0.62" fill="#9fcfd6" stroke="#4b8d97" stroke-width="0.55"/>
<circle cx="298.72" cy="416.47" r="0.62" fill="#9fcfd6" stroke="#4b8d97" stroke-width="0.55"/>
<circle cx="296.11" cy="415.79" r="0.62" fill="#9fcfd6" stroke="#4b8d97" stroke-width="0.55"/>
<circle cx="296.98" cy="418.11" r="0.62" fill="#9fcfd6" stroke="#4b8d97" stroke-width="0.55"/>
<circle cx="299.81" cy="418.53" r="0.62" fill="#9fcfd6" stroke="#4b8d97" stroke-width="0.55"/>
<circle cx="299.81" cy="414.15" r="0.62" fill="#9fcfd6" stroke="#4b8d97" stroke-width="0.55"/>
<circle cx="296.98" cy="407.95" r="0.62" fill="#9fcfd6" stroke="#4b8d97" stroke-width="0.55"/>
<circle cx="298.72" cy="410.76" r="0.62" fill="#9fcfd6" stroke="#4b8d97" stroke-width="0.55"/>
<circle cx="296.11" cy="415.09" r="0.62" fill="#9fcfd6" stroke="#4b8d97" stroke-width="0.55"/>
<circle cx="296.98" cy="420.48" r="0.62" fill="#9fcfd6" stroke="#4b8d97" stroke-width="0.55"/>
<circle cx="298.72" cy="417.54" r="0.62" fill="#9fcfd6" stroke="#4b8d97" stroke-width="0.55"/>
<circle cx="296.11" cy="414.71" r="0.62" fill="#9fcfd6" stroke="#4b8d97" stroke-width="0.55"/>
<circle cx="296.11" cy="415.46" r="0.62" fill="#9fcfd6" stroke="#4b8d97" stroke-width="0.55"/>
<circle cx="298.72" cy="417.77" r="0.62" fill="#9fcfd6" stroke="#4b8d97" stroke-width="0.55"/>
<circle cx="296.98" cy="400.64" r="0.62" fill="#9fcfd6" stroke="#4b8d97" stroke-width="0.55"/>
<circle cx="297.61" cy="414.75" r="0.62" fill="#9fcfd6" stroke="#4b8d97" stroke-width="0.55"/>
<circle cx="297.61" cy="417.32" r="0.62" fill="#9fcfd6" stroke="#4b8d97" stroke-width="0.55"/>
<circle cx="296.11" cy="416.92" r="0.62" fill="#9fcfd6" stroke="#4b8d97" stroke-width="0.55"/>
<circle cx="299.81" cy="418.25" r="0.62" fill="#9fcfd6" stroke="#4b8d97" stroke-width="0.55"/>
<circle cx="296.98" cy="415.10" r="0.62" fill="#9fcfd6" stroke="#4b8d97" stroke-width="0.55"/>
<circle cx="298.72" cy="415.72" r="0.62" fill="#9fcfd6" stroke="#4b8d97" stroke-width="0.55"/>
<circle cx="301.57" cy="419.14" r="0.62" fill="#9fcfd6" stroke="#4b8d97" stroke-width="0.55"/>
<circle cx="303.14" cy="420.06" r="0.62" fill="#9fcfd6" stroke="#4b8d97" stroke-width="0.55"/>
<circle cx="301.57" cy="409.71" r="0.62" fill="#9fcfd6" stroke="#4b8d97" stroke-width="0.55"/>
<circle cx="303.14" cy="415.96" r="0.62" fill="#9fcfd6" stroke="#4b8d97" stroke-width="0.55"/>
<circle cx="301.57" cy="417.47" r="0.62" fill="#9fcfd6" stroke="#4b8d97" stroke-width="0.55"/>
<circle cx="303.14" cy="416.19" r="0.62" fill="#9fcfd6" stroke="#4b8d97" stroke-width="0.55"/>
<circle cx="304.34" cy="418.35" r="0.62" fill="#9fcfd6" stroke="#4b8d97" stroke-width="0.55"/>
<circle cx="304.34" cy="419.78" r="0.62" fill="#9fcfd6" stroke="#4b8d97" stroke-width="0.55"/>
<circle cx="304.34" cy="411.86" r="0.62" fill="#9fcfd6" stroke="#4b8d97" stroke-width="0.55"/>
<circle cx="304.34" cy="413.48" r="0.62" fill="#9fcfd6" stroke="#4b8d97" stroke-width="0.55"/>
<circle cx="304.34" cy="412.87" r="0.62" fill="#9fcfd6" stroke="#4b8d97" stroke-width="0.55"/>
<circle cx="305.87" cy="402.71" r="0.62" fill="#9fcfd6" stroke="#4b8d97" stroke-width="0.55"/>
<circle cx="305.87" cy="406.03" r="0.62" fill="#9fcfd6" stroke="#4b8d97" stroke-width="0.55"/>
<circle cx="305.87" cy="416.91" r="0.62" fill="#9fcfd6" stroke="#4b8d97" stroke-width="0.55"/>
<circle cx="304.34" cy="418.54" r="0.62" fill="#9fcfd6" stroke="#4b8d97" stroke-width="0.55"/>
<circle cx="304.34" cy="409.90" r="0.62" fill="#9fcfd6" stroke="#4b8d97" stroke-width="0.55"/>
<circle cx="305.87" cy="413.93" r="0.62" fill="#9fcfd6" stroke="#4b8d97" stroke-width="0.55"/>
<circle cx="304.34" cy="414.58" r="0.62" fill="#9fcfd6" stroke="#4b8d97" stroke-width="0.55"/>
<circle cx="305.87" cy="413.63" r="0.62" fill="#9fcfd6" stroke="#4b8d97" stroke-width="0.55"/>
<circle cx="308.89" cy="419.97" r="0.62" fill="#9fcfd6" stroke="#4b8d97" stroke-width="0.55"/>
<circle cx="308.89" cy="409.73" r="0.62" fill="#9fcfd6" stroke="#4b8d97" stroke-width="0.55"/>
<circle cx="308.89" cy="414.37" r="0.62" fill="#9fcfd6" stroke="#4b8d97" stroke-width="0.55"/>
<circle cx="308.89" cy="412.13" r="0.62" fill="#9fcfd6" stroke="#4b8d97" stroke-width="0.55"/>
<circle cx="309.52" cy="399.09" r="0.62" fill="#9fcfd6" stroke="#4b8d97" stroke-width="0.55"/>
<circle cx="313.60" cy="394.74" r="0.62" fill="#9fcfd6" stroke="#4b8d97" stroke-width="0.55"/>
<circle cx="312.05" cy="407.49" r="0.62" fill="#9fcfd6" stroke="#4b8d97" stroke-width="0.55"/>
<circle cx="312.05" cy="409.57" r="0.62" fill="#9fcfd6" stroke="#4b8d97" stroke-width="0.55"/>
<circle cx="310.58" cy="418.50" r="0.62" fill="#9fcfd6" stroke="#4b8d97" stroke-width="0.55"/>
<circle cx="313.60" cy="417.05" r="0.62" fill="#9fcfd6" stroke="#4b8d97" stroke-width="0.55"/>
<circle cx="309.52" cy="410.97" r="0.62" fill="#9fcfd6" stroke="#4b8d97" stroke-width="0.55"/>
<circle cx="309.52" cy="413.56" r="0.62" fill="#9fcfd6" stroke="#4b8d97" stroke-width="0.55"/>
<circle cx="312.05" cy="406.03" r="0.62" fill="#9fcfd6" stroke="#4b8d97" stroke-width="0.55"/>
<circle cx="313.60" cy="420.61" r="0.62" fill="#9fcfd6" stroke="#4b8d97" stroke-width="0.55"/>
<circle cx="309.52" cy="411.80" r="0.62" fill="#9fcfd6" stroke="#4b8d97" stroke-width="0.55"/>
<circle cx="312.05" cy="420.22" r="0.62" fill="#9fcfd6" stroke="#4b8d97" stroke-width="0.55"/>
<circle cx="309.52" cy="409.57" r="0.62" fill="#9fcfd6" stroke="#4b8d97" stroke-width="0.55"/>
<circle cx="312.05" cy="400.43" r="0.62" fill="#9fcfd6" stroke="#4b8d97" stroke-width="0.55"/>
<circle cx="310.58" cy="413.44" r="0.62" fill="#9fcfd6" stroke="#4b8d97" stroke-width="0.55"/>
<circle cx="312.05" cy="414.86" r="0.62" fill="#9fcfd6" stroke="#4b8d97" stroke-width="0.55"/>
<circle cx="309.52" cy="403.21" r="0.62" fill="#9fcfd6" stroke="#4b8d97" stroke-width="0.55"/>
<circle cx="313.60" cy="412.68" r="0.62" fill="#9fcfd6" stroke="#4b8d97" stroke-width="0.55"/>
<circle cx="313.60" cy="410.24" r="0.62" fill="#9fcfd6" stroke="#4b8d97" stroke-width="0.55"/>
<circle cx="310.58" cy="411.43" r="0.62" fill="#9fcfd6" stroke="#4b8d97" stroke-width="0.55"/>
<circle cx="309.52" cy="400.40" r="0.62" fill="#9fcfd6" stroke="#4b8d97" stroke-width="0.55"/>
<circle cx="313.60" cy="420.42" r="0.62" fill="#9fcfd6" stroke="#4b8d97" stroke-width="0.55"/>
<circle cx="312.05" cy="412.64" r="0.62" fill="#9fcfd6" stroke="#4b8d97" stroke-width="0.55"/>
<circle cx="309.52" cy="418.20" r="0.62" fill="#9fcfd6" stroke="#4b8d97" stroke-width="0.55"/>
<circle cx="310.58" cy="419.70" r="0.62" fill="#9fcfd6" stroke="#4b8d97" stroke-width="0.55"/>
<circle cx="310.58" cy="413.50" r="0.62" fill="#9fcfd6" stroke="#4b8d97" stroke-width="0.55"/>
<circle cx="312.05" cy="411.52" r="0.62" fill="#9fcfd6" stroke="#4b8d97" stroke-width="0.55"/>
<circle cx="313.60" cy="420.51" r="0.62" fill="#9fcfd6" stroke="#4b8d97" stroke-width="0.55"/>
<circle cx="313.60" cy="416.82" r="0.62" fill="#9fcfd6" stroke="#4b8d97" stroke-width="0.55"/>
<circle cx="309.52" cy="419.63" r="0.62" fill="#9fcfd6" stroke="#4b8d97" stroke-width="0.55"/>
<circle cx="313.60" cy="404.56" r="0.62" fill="#9fcfd6" stroke="#4b8d97" stroke-width="0.55"/>
<circle cx="312.05" cy="416.52" r="0.62" fill="#9fcfd6" stroke="#4b8d97" stroke-width="0.55"/>
<circle cx="310.58" cy="420.33" r="0.62" fill="#9fcfd6" stroke="#4b8d97" stroke-width="0.55"/>
<circle cx="309.52" cy="418.83" r="0.62" fill="#9fcfd6" stroke="#4b8d97" stroke-width="0.55"/>
<circle cx="310.58" cy="400.89" r="0.62" fill="#9fcfd6" stroke="#4b8d97" stroke-width="0.55"/>
<circle cx="309.52" cy="417.74" r="0.62" fill="#9fcfd6" stroke="#4b8d97" stroke-width="0.55"/>
<circle cx="309.52" cy="406.39" r="0.62" fill="#9fcfd6" stroke="#4b8d97" stroke-width="0.55"/>
<circle cx="310.58" cy="416.47" r="0.62" fill="#9fcfd6" stroke="#4b8d97" stroke-width="0.55"/>
<circle cx="312.05" cy="409.91" r="0.62" fill="#9fcfd6" stroke="#4b8d97" stroke-width="0.55"/>
<circle cx="313.60" cy="404.74" r="0.62" fill="#9fcfd6" stroke="#4b8d97" stroke-width="0.55"/>
<circle cx="316.35" cy="402.76" r="0.62" fill="#9fcfd6" stroke="#4b8d97" stroke-width="0.55"/>
<circle cx="315.23" cy="405.01" r="0.62" fill="#9fcfd6" stroke="#4b8d97" stroke-width="0.55"/>
<circle cx="317.76" cy="415.78" r="0.62" fill="#9fcfd6" stroke="#4b8d97" stroke-width="0.55"/>
<circle cx="317.76" cy="417.47" r="0.62" fill="#9fcfd6" stroke="#4b8d97" stroke-width="0.55"/>
<circle cx="317.15" cy="410.08" r="0.62" fill="#9fcfd6" stroke="#4b8d97" stroke-width="0.55"/>
<circle cx="317.15" cy="409.39" r="0.62" fill="#9fcfd6" stroke="#4b8d97" stroke-width="0.55"/>
<circle cx="317.76" cy="407.58" r="0.62" fill="#9fcfd6" stroke="#4b8d97" stroke-width="0.55"/>
<circle cx="317.76" cy="407.88" r="0.62" fill="#9fcfd6" stroke="#4b8d97" stroke-width="0.55"/>
<circle cx="317.76" cy="405.85" r="0.62" fill="#9fcfd6" stroke="#4b8d97" stroke-width="0.55"/>
<circle cx="317.15" cy="415.38" r="0.62" fill="#9fcfd6" stroke="#4b8d97" stroke-width="0.55"/>
<circle cx="314.41" cy="416.23" r="0.62" fill="#9fcfd6" stroke="#4b8d97" stroke-width="0.55"/>
<circle cx="317.15" cy="394.82" r="0.62" fill="#9fcfd6" stroke="#4b8d97" stroke-width="0.55"/>
<circle cx="317.15" cy="413.84" r="0.62" fill="#9fcfd6" stroke="#4b8d97" stroke-width="0.55"/>
<circle cx="317.76" cy="390.94" r="0.62" fill="#9fcfd6" stroke="#4b8d97" stroke-width="0.55"/>
<circle cx="317.76" cy="396.21" r="0.62" fill="#9fcfd6" stroke="#4b8d97" stroke-width="0.55"/>
<circle cx="315.23" cy="415.04" r="0.62" fill="#9fcfd6" stroke="#4b8d97" stroke-width="0.55"/>
<circle cx="317.76" cy="412.69" r="0.62" fill="#9fcfd6" stroke="#4b8d97" stroke-width="0.55"/>
<circle cx="314.41" cy="410.43" r="0.62" fill="#9fcfd6" stroke="#4b8d97" stroke-width="0.55"/>
<circle cx="316.35" cy="397.58" r="0.62" fill="#9fcfd6" stroke="#4b8d97" stroke-width="0.55"/>
<circle cx="316.35" cy="413.25" r="0.62" fill="#9fcfd6" stroke="#4b8d97" stroke-width="0.55"/>
<circle cx="314.41" cy="418.98" r="0.62" fill="#9fcfd6" stroke="#4b8d97" stroke-width="0.55"/>
<circle cx="317.76" cy="416.01" r="0.62" fill="#9fcfd6" stroke="#4b8d97" stroke-width="0.55"/>
<circle cx="314.41" cy="408.02" r="0.62" fill="#9fcfd6" stroke="#4b8d97" stroke-width="0.55"/>
<circle cx="314.41" cy="399.15" r="0.62" fill="#9fcfd6" stroke="#4b8d97" stroke-width="0.55"/>
<circle cx="314.41" cy="398.02" r="0.62" fill="#9fcfd6" stroke="#4b8d97" stroke-width="0.55"/>
<circle cx="317.76" cy="418.49" r="0.62" fill="#9fcfd6" stroke="#4b8d97" stroke-width="0.55"/>
<circle cx="317.15" cy="405.14" r="0.62" fill="#9fcfd6" stroke="#4b8d97" stroke-width="0.55"/>
<circle cx="317.76" cy="415.29" r="0.62" fill="#9fcfd6" stroke="#4b8d97" stroke-width="0.55"/>
<circle cx="314.41" cy="417.74" r="0.62" fill="#9fcfd6" stroke="#4b8d97" stroke-width="0.55"/>
<circle cx="315.23" cy="403.63" r="0.62" fill="#9fcfd6" stroke="#4b8d97" stroke-width="0.55"/>
<circle cx="317.15" cy="409.67" r="0.62" fill="#9fcfd6" stroke="#4b8d97" stroke-width="0.55"/>
<circle cx="317.76" cy="407.52" r="0.62" fill="#9fcfd6" stroke="#4b8d97" stroke-width="0.55"/>
<circle cx="316.35" cy="415.56" r="0.62" fill="#9fcfd6" stroke="#4b8d97" stroke-width="0.55"/>
<circle cx="317.76" cy="407.87" r="0.62" fill="#9fcfd6" stroke="#4b8d97" stroke-width="0.55"/>
<circle cx="317.76" cy="413.62" r="0.62" fill="#9fcfd6" stroke="#4b8d97" stroke-width="0.55"/>
<circle cx="317.76" cy="393.88" r="0.62" fill="#9fcfd6" stroke="#4b8d97" stroke-width="0.55"/>
<circle cx="316.35" cy="412.26" r="0.62" fill="#9fcfd6" stroke="#4b8d97" stroke-width="0.55"/>
<circle cx="316.35" cy="416.62" r="0.62" fill="#9fcfd6" stroke="#4b8d97" stroke-width="0.55"/>
<circle cx="316.35" cy="418.19" r="0.62" fill="#9fcfd6" stroke="#4b8d97" stroke-width="0.55"/>
<circle cx="317.76" cy="418.78" r="0.62" fill="#9fcfd6" stroke="#4b8d97" stroke-width="0.55"/>
<circle cx="316.35" cy="399.98" r="0.62" fill="#9fcfd6" stroke="#4b8d97" stroke-width="0.55"/>
<circle cx="316.35" cy="405.81" r="0.62" fill="#9fcfd6" stroke="#4b8d97" stroke-width="0.55"/>
<circle cx="316.35" cy="418.95" r="0.62" fill="#9fcfd6" stroke="#4b8d97" stroke-width="0.55"/>
<circle cx="316.35" cy="415.94" r="0.62" fill="#9fcfd6" stroke="#4b8d97" stroke-width="0.55"/>
<circle cx="315.23" cy="389.57" r="0.62" fill="#9fcfd6" stroke="#4b8d97" stroke-width="0.55"/>
<circle cx="314.41" cy="412.17" r="0.62" fill="#9fcfd6" stroke="#4b8d97" stroke-width="0.55"/>
<circle cx="316.35" cy="410.20" r="0.62" fill="#9fcfd6" stroke="#4b8d97" stroke-width="0.55"/>
<circle cx="317.76" cy="409.93" r="0.62" fill="#9fcfd6" stroke="#4b8d97" stroke-width="0.55"/>
<circle cx="317.76" cy="408.49" r="0.62" fill="#9fcfd6" stroke="#4b8d97" stroke-width="0.55"/>
<circle cx="314.41" cy="419.03" r="0.62" fill="#9fcfd6" stroke="#4b8d97" stroke-width="0.55"/>
<circle cx="317.15" cy="414.14" r="0.62" fill="#9fcfd6" stroke="#4b8d97" stroke-width="0.55"/>
<circle cx="317.76" cy="417.46" r="0.62" fill="#9fcfd6" stroke="#4b8d97" stroke-width="0.55"/>
<circle cx="314.41" cy="417.33" r="0.62" fill="#9fcfd6" stroke="#4b8d97" stroke-width="0.55"/>
<circle cx="317.15" cy="411.21" r="0.62" fill="#9fcfd6" stroke="#4b8d97" stroke-width="0.55"/>
<circle cx="315.23" cy="408.62" r="0.62" fill="#9fcfd6" stroke="#4b8d97" stroke-width="0.55"/>
<circle cx="314.41" cy="405.15" r="0.62" fill="#9fcfd6" stroke="#4b8d97" stroke-width="0.55"/>
<circle cx="317.15" cy="408.59" r="0.62" fill="#9fcfd6" stroke="#4b8d97" stroke-width="0.55"/>
<circle cx="314.41" cy="408.93" r="0.62" fill="#9fcfd6" stroke="#4b8d97" stroke-width="0.55"/>
<circle cx="314.41" cy="405.80" r="0.62" fill="#9fcfd6" stroke="#4b8d97" stroke-width="0.55"/>
<circle cx="315.23" cy="417.96" r="0.62" fill="#9fcfd6" stroke="#4b8d97" stroke-width="0.55"/>
<circle cx="315.23" cy="412.56" r="0.62" fill="#9fcfd6" stroke="#4b8d97" stroke-width="0.55"/>
<circle cx="314.41" cy="419.32" r="0.62" fill="#9fcfd6" stroke="#4b8d97" stroke-width="0.55"/>
<circle cx="317.15" cy="409.52" r="0.62" fill="#9fcfd6" stroke="#4b8d97" stroke-width="0.55"/>
<circle cx="317.76" cy="407.42" r="0.62" fill="#9fcfd6" stroke="#4b8d97" stroke-width="0.55"/>
<circle cx="317.15" cy="414.39" r="0.62" fill="#9fcfd6" stroke="#4b8d97" stroke-width="0.55"/>
<circle cx="317.76" cy="412.70" r="0.62" fill="#9fcfd6" stroke="#4b8d97" stroke-width="0.55"/>
<circle cx="317.76" cy="410.65" r="0.62" fill="#9fcfd6" stroke="#4b8d97" stroke-width="0.55"/>
<circle cx="315.23" cy="413.70" r="0.62" fill="#9fcfd6" stroke="#4b8d97" stroke-width="0.55"/>
<circle cx="317.76" cy="410.67" r="0.62" fill="#9fcfd6" stroke="#4b8d97" stroke-width="0.55"/>
<circle cx="317.76" cy="370.59" r="0.62" fill="#9fcfd6" stroke="#4b8d97" stroke-width="0.55"/>
<circle cx="314.41" cy="419.33" r="0.62" fill="#9fcfd6" stroke="#4b8d97" stroke-width="0.55"/>
<circle cx="314.41" cy="397.85" r="0.62" fill="#9fcfd6" stroke="#4b8d97" stroke-width="0.55"/>
<circle cx="322.84" cy="410.26" r="0.62" fill="#9fcfd6" stroke="#4b8d97" stroke-width="0.55"/>
<circle cx="322.84" cy="411.47" r="0.62" fill="#9fcfd6" stroke="#4b8d97" stroke-width="0.55"/>
<circle cx="322.11" cy="417.83" r="0.62" fill="#9fcfd6" stroke="#4b8d97" stroke-width="0.55"/>
<circle cx="318.06" cy="413.76" r="0.62" fill="#9fcfd6" stroke="#4b8d97" stroke-width="0.55"/>
<circle cx="318.06" cy="406.16" r="0.62" fill="#9fcfd6" stroke="#4b8d97" stroke-width="0.55"/>
<circle cx="322.11" cy="417.35" r="0.62" fill="#9fcfd6" stroke="#4b8d97" stroke-width="0.55"/>
<circle cx="322.11" cy="416.25" r="0.62" fill="#9fcfd6" stroke="#4b8d97" stroke-width="0.55"/>
<circle cx="319.57" cy="414.80" r="0.62" fill="#9fcfd6" stroke="#4b8d97" stroke-width="0.55"/>
<circle cx="322.84" cy="393.61" r="0.62" fill="#9fcfd6" stroke="#4b8d97" stroke-width="0.55"/>
<circle cx="318.06" cy="419.21" r="0.62" fill="#9fcfd6" stroke="#4b8d97" stroke-width="0.55"/>
<circle cx="318.06" cy="408.19" r="0.62" fill="#9fcfd6" stroke="#4b8d97" stroke-width="0.55"/>
<circle cx="322.84" cy="416.88" r="0.62" fill="#9fcfd6" stroke="#4b8d97" stroke-width="0.55"/>
<circle cx="320.64" cy="406.81" r="0.62" fill="#9fcfd6" stroke="#4b8d97" stroke-width="0.55"/>
<circle cx="322.11" cy="417.91" r="0.62" fill="#9fcfd6" stroke="#4b8d97" stroke-width="0.55"/>
<circle cx="322.84" cy="402.38" r="0.62" fill="#9fcfd6" stroke="#4b8d97" stroke-width="0.55"/>
<circle cx="322.84" cy="419.33" r="0.62" fill="#9fcfd6" stroke="#4b8d97" stroke-width="0.55"/>
<circle cx="318.06" cy="402.10" r="0.62" fill="#9fcfd6" stroke="#4b8d97" stroke-width="0.55"/>
<circle cx="322.11" cy="415.28" r="0.62" fill="#9fcfd6" stroke="#4b8d97" stroke-width="0.55"/>
<circle cx="319.57" cy="413.59" r="0.62" fill="#9fcfd6" stroke="#4b8d97" stroke-width="0.55"/>
<circle cx="318.06" cy="408.55" r="0.62" fill="#9fcfd6" stroke="#4b8d97" stroke-width="0.55"/>
<circle cx="322.84" cy="414.92" r="0.62" fill="#9fcfd6" stroke="#4b8d97" stroke-width="0.55"/>
<circle cx="322.84" cy="403.20" r="0.62" fill="#9fcfd6" stroke="#4b8d97" stroke-width="0.55"/>
<circle cx="322.84" cy="407.54" r="0.62" fill="#9fcfd6" stroke="#4b8d97" stroke-width="0.55"/>
<circle cx="322.11" cy="411.75" r="0.62" fill="#9fcfd6" stroke="#4b8d97" stroke-width="0.55"/>
<circle cx="322.84" cy="417.75" r="0.62" fill="#9fcfd6" stroke="#4b8d97" stroke-width="0.55"/>
<circle cx="322.84" cy="412.18" r="0.62" fill="#9fcfd6" stroke="#4b8d97" stroke-width="0.55"/>
<circle cx="322.84" cy="417.04" r="0.62" fill="#9fcfd6" stroke="#4b8d97" stroke-width="0.55"/>
<circle cx="322.11" cy="399.29" r="0.62" fill="#9fcfd6" stroke="#4b8d97" stroke-width="0.55"/>
<circle cx="322.84" cy="407.47" r="0.62" fill="#9fcfd6" stroke="#4b8d97" stroke-width="0.55"/>
<circle cx="322.84" cy="408.26" r="0.62" fill="#9fcfd6" stroke="#4b8d97" stroke-width="0.55"/>
<circle cx="322.84" cy="405.00" r="0.62" fill="#9fcfd6" stroke="#4b8d97" stroke-width="0.55"/>
<circle cx="318.06" cy="410.20" r="0.62" fill="#9fcfd6" stroke="#4b8d97" stroke-width="0.55"/>
<circle cx="320.64" cy="419.16" r="0.62" fill="#9fcfd6" stroke="#4b8d97" stroke-width="0.55"/>
<circle cx="320.64" cy="420.53" r="0.62" fill="#9fcfd6" stroke="#4b8d97" stroke-width="0.55"/>
<circle cx="322.84" cy="414.70" r="0.62" fill="#9fcfd6" stroke="#4b8d97" stroke-width="0.55"/>
<circle cx="322.84" cy="414.77" r="0.62" fill="#9fcfd6" stroke="#4b8d97" stroke-width="0.55"/>
<circle cx="322.84" cy="411.68" r="0.62" fill="#9fcfd6" stroke="#4b8d97" stroke-width="0.55"/>
<circle cx="322.11" cy="405.94" r="0.62" fill="#9fcfd6" stroke="#4b8d97" stroke-width="0.55"/>
<circle cx="322.11" cy="381.73" r="0.62" fill="#9fcfd6" stroke="#4b8d97" stroke-width="0.55"/>
<circle cx="322.84" cy="388.32" r="0.62" fill="#9fcfd6" stroke="#4b8d97" stroke-width="0.55"/>
<circle cx="322.84" cy="418.41" r="0.62" fill="#9fcfd6" stroke="#4b8d97" stroke-width="0.55"/>
<circle cx="318.06" cy="387.54" r="0.62" fill="#9fcfd6" stroke="#4b8d97" stroke-width="0.55"/>
<circle cx="322.84" cy="420.22" r="0.62" fill="#9fcfd6" stroke="#4b8d97" stroke-width="0.55"/>
<circle cx="322.11" cy="411.70" r="0.62" fill="#9fcfd6" stroke="#4b8d97" stroke-width="0.55"/>
<circle cx="318.06" cy="416.98" r="0.62" fill="#9fcfd6" stroke="#4b8d97" stroke-width="0.55"/>
<circle cx="318.06" cy="409.95" r="0.62" fill="#9fcfd6" stroke="#4b8d97" stroke-width="0.55"/>
<circle cx="319.57" cy="408.35" r="0.62" fill="#9fcfd6" stroke="#4b8d97" stroke-width="0.55"/>
<circle cx="322.11" cy="412.44" r="0.62" fill="#9fcfd6" stroke="#4b8d97" stroke-width="0.55"/>
<circle cx="322.84" cy="385.42" r="0.62" fill="#9fcfd6" stroke="#4b8d97" stroke-width="0.55"/>
<circle cx="322.84" cy="404.74" r="0.62" fill="#9fcfd6" stroke="#4b8d97" stroke-width="0.55"/>
<circle cx="322.84" cy="406.57" r="0.62" fill="#9fcfd6" stroke="#4b8d97" stroke-width="0.55"/>
<circle cx="322.84" cy="413.45" r="0.62" fill="#9fcfd6" stroke="#4b8d97" stroke-width="0.55"/>
<circle cx="318.06" cy="414.49" r="0.62" fill="#9fcfd6" stroke="#4b8d97" stroke-width="0.55"/>
<circle cx="322.11" cy="417.88" r="0.62" fill="#9fcfd6" stroke="#4b8d97" stroke-width="0.55"/>
<circle cx="318.06" cy="404.46" r="0.62" fill="#9fcfd6" stroke="#4b8d97" stroke-width="0.55"/>
<circle cx="318.06" cy="420.41" r="0.62" fill="#9fcfd6" stroke="#4b8d97" stroke-width="0.55"/>
<circle cx="322.84" cy="408.04" r="0.62" fill="#9fcfd6" stroke="#4b8d97" stroke-width="0.55"/>
<circle cx="322.84" cy="413.89" r="0.62" fill="#9fcfd6" stroke="#4b8d97" stroke-width="0.55"/>
<circle cx="320.64" cy="416.99" r="0.62" fill="#9fcfd6" stroke="#4b8d97" stroke-width="0.55"/>
<circle cx="322.11" cy="403.89" r="0.62" fill="#9fcfd6" stroke="#4b8d97" stroke-width="0.55"/>
<circle cx="319.57" cy="418.79" r="0.62" fill="#9fcfd6" stroke="#4b8d97" stroke-width="0.55"/>
<circle cx="318.06" cy="411.08" r="0.62" fill="#9fcfd6" stroke="#4b8d97" stroke-width="0.55"/>
<circle cx="319.57" cy="414.15" r="0.62" fill="#9fcfd6" stroke="#4b8d97" stroke-width="0.55"/>
<circle cx="322.84" cy="419.02" r="0.62" fill="#9fcfd6" stroke="#4b8d97" stroke-width="0.55"/>
<circle cx="320.64" cy="405.01" r="0.62" fill="#9fcfd6" stroke="#4b8d97" stroke-width="0.55"/>
<circle cx="318.06" cy="408.96" r="0.62" fill="#9fcfd6" stroke="#4b8d97" stroke-width="0.55"/>
<circle cx="322.84" cy="416.49" r="0.62" fill="#9fcfd6" stroke="#4b8d97" stroke-width="0.55"/>
<circle cx="322.84" cy="419.28" r="0.62" fill="#9fcfd6" stroke="#4b8d97" stroke-width="0.55"/>
<circle cx="322.11" cy="389.07" r="0.62" fill="#9fcfd6" stroke="#4b8d97" stroke-width="0.55"/>
<circle cx="319.57" cy="416.37" r="0.62" fill="#9fcfd6" stroke="#4b8d97" stroke-width="0.55"/>
<circle cx="335.83" cy="420.35" r="0.62" fill="#9fcfd6" stroke="#4b8d97" stroke-width="0.55"/>
<circle cx="329.13" cy="415.61" r="0.62" fill="#9fcfd6" stroke="#4b8d97" stroke-width="0.55"/>
<circle cx="335.83" cy="418.72" r="0.62" fill="#9fcfd6" stroke="#4b8d97" stroke-width="0.55"/>
<circle cx="335.83" cy="411.07" r="0.62" fill="#9fcfd6" stroke="#4b8d97" stroke-width="0.55"/>
<circle cx="335.83" cy="417.20" r="0.62" fill="#9fcfd6" stroke="#4b8d97" stroke-width="0.55"/>
<circle cx="335.83" cy="412.39" r="0.62" fill="#9fcfd6" stroke="#4b8d97" stroke-width="0.55"/>
<circle cx="335.83" cy="420.77" r="0.62" fill="#9fcfd6" stroke="#4b8d97" stroke-width="0.55"/>
<circle cx="335.01" cy="416.22" r="0.62" fill="#9fcfd6" stroke="#4b8d97" stroke-width="0.55"/>
<circle cx="335.83" cy="408.17" r="0.62" fill="#9fcfd6" stroke="#4b8d97" stroke-width="0.55"/>
<circle cx="324.95" cy="413.44" r="0.62" fill="#9fcfd6" stroke="#4b8d97" stroke-width="0.55"/>
<circle cx="326.34" cy="419.88" r="0.62" fill="#9fcfd6" stroke="#4b8d97" stroke-width="0.55"/>
<circle cx="335.83" cy="413.40" r="0.62" fill="#9fcfd6" stroke="#4b8d97" stroke-width="0.55"/>
<circle cx="329.13" cy="418.19" r="0.62" fill="#9fcfd6" stroke="#4b8d97" stroke-width="0.55"/>
<circle cx="327.46" cy="420.15" r="0.62" fill="#9fcfd6" stroke="#4b8d97" stroke-width="0.55"/>
<circle cx="335.83" cy="411.26" r="0.62" fill="#9fcfd6" stroke="#4b8d97" stroke-width="0.55"/>
<circle cx="335.83" cy="417.71" r="0.62" fill="#9fcfd6" stroke="#4b8d97" stroke-width="0.55"/>
<circle cx="335.83" cy="419.26" r="0.62" fill="#9fcfd6" stroke="#4b8d97" stroke-width="0.55"/>
<circle cx="335.83" cy="414.50" r="0.62" fill="#9fcfd6" stroke="#4b8d97" stroke-width="0.55"/>
<circle cx="335.83" cy="417.64" r="0.62" fill="#9fcfd6" stroke="#4b8d97" stroke-width="0.55"/>
<circle cx="335.83" cy="419.24" r="0.62" fill="#9fcfd6" stroke="#4b8d97" stroke-width="0.55"/>
<circle cx="335.83" cy="420.29" r="0.62" fill="#9fcfd6" stroke="#4b8d97" stroke-width="0.55"/>
<circle cx="335.83" cy="415.94" r="0.62" fill="#9fcfd6" stroke="#4b8d97" stroke-width="0.55"/>
<circle cx="335.01" cy="418.34" r="0.62" fill="#9fcfd6" stroke="#4b8d97" stroke-width="0.55"/>
<circle cx="335.83" cy="414.48" r="0.62" fill="#9fcfd6" stroke="#4b8d97" stroke-width="0.55"/>
<circle cx="335.83" cy="416.75" r="0.62" fill="#9fcfd6" stroke="#4b8d97" stroke-width="0.55"/>
<circle cx="335.83" cy="412.83" r="0.62" fill="#9fcfd6" stroke="#4b8d97" stroke-width="0.55"/>
<circle cx="335.83" cy="414.69" r="0.62" fill="#9fcfd6" stroke="#4b8d97" stroke-width="0.55"/>
<circle cx="327.46" cy="417.85" r="0.62" fill="#9fcfd6" stroke="#4b8d97" stroke-width="0.55"/>
<circle cx="335.83" cy="418.24" r="0.62" fill="#9fcfd6" stroke="#4b8d97" stroke-width="0.55"/>
<circle cx="335.83" cy="419.46" r="0.62" fill="#9fcfd6" stroke="#4b8d97" stroke-width="0.55"/>
<circle cx="335.83" cy="418.48" r="0.62" fill="#9fcfd6" stroke="#4b8d97" stroke-width="0.55"/>
<circle cx="335.83" cy="415.32" r="0.62" fill="#9fcfd6" stroke="#4b8d97" stroke-width="0.55"/>
<circle cx="327.46" cy="418.46" r="0.62" fill="#9fcfd6" stroke="#4b8d97" stroke-width="0.55"/>
<circle cx="327.46" cy="410.60" r="0.62" fill="#9fcfd6" stroke="#4b8d97" stroke-width="0.55"/>
<circle cx="335.83" cy="419.15" r="0.62" fill="#9fcfd6" stroke="#4b8d97" stroke-width="0.55"/>
<circle cx="335.83" cy="409.98" r="0.62" fill="#9fcfd6" stroke="#4b8d97" stroke-width="0.55"/>
<circle cx="330.63" cy="413.65" r="0.62" fill="#9fcfd6" stroke="#4b8d97" stroke-width="0.55"/>
<circle cx="335.83" cy="411.89" r="0.62" fill="#9fcfd6" stroke="#4b8d97" stroke-width="0.55"/>
<circle cx="329.13" cy="418.52" r="0.62" fill="#9fcfd6" stroke="#4b8d97" stroke-width="0.55"/>
<circle cx="335.83" cy="411.87" r="0.62" fill="#9fcfd6" stroke="#4b8d97" stroke-width="0.55"/>
<circle cx="335.83" cy="414.29" r="0.62" fill="#9fcfd6" stroke="#4b8d97" stroke-width="0.55"/>
<circle cx="335.83" cy="416.89" r="0.62" fill="#9fcfd6" stroke="#4b8d97" stroke-width="0.55"/>
<circle cx="335.83" cy="417.89" r="0.62" fill="#9fcfd6" stroke="#4b8d97" stroke-width="0.55"/>
<circle cx="335.83" cy="414.28" r="0.62" fill="#9fcfd6" stroke="#4b8d97" stroke-width="0.55"/>
<circle cx="335.83" cy="420.80" r="0.62" fill="#9fcfd6" stroke="#4b8d97" stroke-width="0.55"/>
<circle cx="335.83" cy="414.08" r="0.62" fill="#9fcfd6" stroke="#4b8d97" stroke-width="0.55"/>
<circle cx="335.83" cy="415.25" r="0.62" fill="#9fcfd6" stroke="#4b8d97" stroke-width="0.55"/>
<circle cx="332.62" cy="416.54" r="0.62" fill="#9fcfd6" stroke="#4b8d97" stroke-width="0.55"/>
<circle cx="335.83" cy="418.27" r="0.62" fill="#9fcfd6" stroke="#4b8d97" stroke-width="0.55"/>
<circle cx="335.83" cy="412.32" r="0.62" fill="#9fcfd6" stroke="#4b8d97" stroke-width="0.55"/>
<circle cx="335.83" cy="415.49" r="0.62" fill="#9fcfd6" stroke="#4b8d97" stroke-width="0.55"/>
<circle cx="335.83" cy="410.05" r="0.62" fill="#9fcfd6" stroke="#4b8d97" stroke-width="0.55"/>
<circle cx="335.83" cy="412.33" r="0.62" fill="#9fcfd6" stroke="#4b8d97" stroke-width="0.55"/>
<circle cx="335.83" cy="419.67" r="0.62" fill="#9fcfd6" stroke="#4b8d97" stroke-width="0.55"/>
<circle cx="335.83" cy="410.70" r="0.62" fill="#9fcfd6" stroke="#4b8d97" stroke-width="0.55"/>
<circle cx="335.83" cy="418.69" r="0.62" fill="#9fcfd6" stroke="#4b8d97" stroke-width="0.55"/>
<circle cx="326.34" cy="408.79" r="0.62" fill="#9fcfd6" stroke="#4b8d97" stroke-width="0.55"/>
<circle cx="327.46" cy="417.21" r="0.62" fill="#9fcfd6" stroke="#4b8d97" stroke-width="0.55"/>
<circle cx="327.46" cy="419.62" r="0.62" fill="#9fcfd6" stroke="#4b8d97" stroke-width="0.55"/>
<circle cx="327.46" cy="405.58" r="0.62" fill="#9fcfd6" stroke="#4b8d97" stroke-width="0.55"/>
<circle cx="335.83" cy="413.54" r="0.62" fill="#9fcfd6" stroke="#4b8d97" stroke-width="0.55"/>
<circle cx="335.83" cy="411.55" r="0.62" fill="#9fcfd6" stroke="#4b8d97" stroke-width="0.55"/>
<circle cx="335.01" cy="418.62" r="0.62" fill="#9fcfd6" stroke="#4b8d97" stroke-width="0.55"/>
<circle cx="335.83" cy="408.88" r="0.62" fill="#9fcfd6" stroke="#4b8d97" stroke-width="0.55"/>
<circle cx="335.83" cy="415.75" r="0.62" fill="#9fcfd6" stroke="#4b8d97" stroke-width="0.55"/>
<circle cx="335.83" cy="416.86" r="0.62" fill="#9fcfd6" stroke="#4b8d97" stroke-width="0.55"/>
<circle cx="335.83" cy="411.98" r="0.62" fill="#9fcfd6" stroke="#4b8d97" stroke-width="0.55"/>
<circle cx="335.83" cy="420.52" r="0.62" fill="#9fcfd6" stroke="#4b8d97" stroke-width="0.55"/>
<circle cx="335.83" cy="414.53" r="0.62" fill="#9fcfd6" stroke="#4b8d97" stroke-width="0.55"/>
<circle cx="335.83" cy="417.12" r="0.62" fill="#9fcfd6" stroke="#4b8d97" stroke-width="0.55"/>
<circle cx="335.83" cy="413.02" r="0.62" fill="#9fcfd6" stroke="#4b8d97" stroke-width="0.55"/>
<circle cx="335.83" cy="410.55" r="0.62" fill="#9fcfd6" stroke="#4b8d97" stroke-width="0.55"/>
<circle cx="335.83" cy="410.98" r="0.62" fill="#9fcfd6" stroke="#4b8d97" stroke-width="0.55"/>
<circle cx="335.83" cy="418.19" r="0.62" fill="#9fcfd6" stroke="#4b8d97" stroke-width="0.55"/>
<circle cx="335.83" cy="418.45" r="0.62" fill="#9fcfd6" stroke="#4b8d97" stroke-width="0.55"/>
<circle cx="335.83" cy="413.77" r="0.62" fill="#9fcfd6" stroke="#4b8d97" stroke-width="0.55"/>
<circle cx="330.63" cy="419.66" r="0.62" fill="#9fcfd6" stroke="#4b8d97" stroke-width="0.55"/>
<circle cx="335.83" cy="398.91" r="0.62" fill="#9fcfd6" stroke="#4b8d97" stroke-width="0.55"/>
<circle cx="336.10" cy="411.70" r="0.62" fill="#9fcfd6" stroke="#4b8d97" stroke-width="0.55"/>
<circle cx="340.58" cy="418.44" r="0.62" fill="#9fcfd6" stroke="#4b8d97" stroke-width="0.55"/>
<circle cx="336.10" cy="417.32" r="0.62" fill="#9fcfd6" stroke="#4b8d97" stroke-width="0.55"/>
<circle cx="336.93" cy="417.98" r="0.62" fill="#9fcfd6" stroke="#4b8d97" stroke-width="0.55"/>
<circle cx="336.93" cy="418.90" r="0.62" fill="#9fcfd6" stroke="#4b8d97" stroke-width="0.55"/>
<circle cx="336.93" cy="411.44" r="0.62" fill="#9fcfd6" stroke="#4b8d97" stroke-width="0.55"/>
<circle cx="336.93" cy="420.02" r="0.62" fill="#9fcfd6" stroke="#4b8d97" stroke-width="0.55"/>
<circle cx="338.91" cy="416.55" r="0.62" fill="#9fcfd6" stroke="#4b8d97" stroke-width="0.55"/>
<circle cx="337.99" cy="408.27" r="0.62" fill="#9fcfd6" stroke="#4b8d97" stroke-width="0.55"/>
<circle cx="337.99" cy="416.93" r="0.62" fill="#9fcfd6" stroke="#4b8d97" stroke-width="0.55"/>
<circle cx="336.93" cy="408.80" r="0.62" fill="#9fcfd6" stroke="#4b8d97" stroke-width="0.55"/>
<circle cx="337.99" cy="410.55" r="0.62" fill="#9fcfd6" stroke="#4b8d97" stroke-width="0.55"/>
<circle cx="338.91" cy="412.94" r="0.62" fill="#9fcfd6" stroke="#4b8d97" stroke-width="0.55"/>
<circle cx="336.93" cy="418.68" r="0.62" fill="#9fcfd6" stroke="#4b8d97" stroke-width="0.55"/>
<circle cx="336.10" cy="408.68" r="0.62" fill="#9fcfd6" stroke="#4b8d97" stroke-width="0.55"/>
<circle cx="341.23" cy="414.61" r="0.62" fill="#9fcfd6" stroke="#4b8d97" stroke-width="0.55"/>
<circle cx="341.23" cy="407.60" r="0.62" fill="#9fcfd6" stroke="#4b8d97" stroke-width="0.55"/>
<circle cx="341.23" cy="407.01" r="0.62" fill="#9fcfd6" stroke="#4b8d97" stroke-width="0.55"/>
<circle cx="341.23" cy="417.42" r="0.62" fill="#9fcfd6" stroke="#4b8d97" stroke-width="0.55"/>
<circle cx="341.23" cy="415.63" r="0.62" fill="#9fcfd6" stroke="#4b8d97" stroke-width="0.55"/>
<circle cx="341.23" cy="412.05" r="0.62" fill="#9fcfd6" stroke="#4b8d97" stroke-width="0.55"/>
<circle cx="341.23" cy="411.39" r="0.62" fill="#9fcfd6" stroke="#4b8d97" stroke-width="0.55"/>
<circle cx="343.58" cy="419.49" r="0.62" fill="#9fcfd6" stroke="#4b8d97" stroke-width="0.55"/>
<circle cx="341.23" cy="407.65" r="0.62" fill="#9fcfd6" stroke="#4b8d97" stroke-width="0.55"/>
<circle cx="341.23" cy="400.92" r="0.62" fill="#9fcfd6" stroke="#4b8d97" stroke-width="0.55"/>
<circle cx="341.23" cy="420.70" r="0.62" fill="#9fcfd6" stroke="#4b8d97" stroke-width="0.55"/>
<circle cx="341.23" cy="413.46" r="0.62" fill="#9fcfd6" stroke="#4b8d97" stroke-width="0.55"/>
<circle cx="341.23" cy="416.65" r="0.62" fill="#9fcfd6" stroke="#4b8d97" stroke-width="0.55"/>
<circle cx="341.23" cy="408.88" r="0.62" fill="#9fcfd6" stroke="#4b8d97" stroke-width="0.55"/>
<circle cx="343.58" cy="419.36" r="0.62" fill="#9fcfd6" stroke="#4b8d97" stroke-width="0.55"/>
<circle cx="345.90" cy="418.94" r="0.62" fill="#9fcfd6" stroke="#4b8d97" stroke-width="0.55"/>
<circle cx="345.90" cy="413.65" r="0.62" fill="#9fcfd6" stroke="#4b8d97" stroke-width="0.55"/>
<circle cx="344.35" cy="418.33" r="0.62" fill="#9fcfd6" stroke="#4b8d97" stroke-width="0.55"/>
<circle cx="345.90" cy="416.38" r="0.62" fill="#9fcfd6" stroke="#4b8d97" stroke-width="0.55"/>
<circle cx="344.35" cy="418.57" r="0.62" fill="#9fcfd6" stroke="#4b8d97" stroke-width="0.55"/>
<circle cx="345.90" cy="414.58" r="0.62" fill="#9fcfd6" stroke="#4b8d97" stroke-width="0.55"/>
<circle cx="345.90" cy="419.78" r="0.62" fill="#9fcfd6" stroke="#4b8d97" stroke-width="0.55"/>
<circle cx="345.90" cy="418.27" r="0.62" fill="#9fcfd6" stroke="#4b8d97" stroke-width="0.55"/>
<circle cx="348.78" cy="417.37" r="0.62" fill="#9fcfd6" stroke="#4b8d97" stroke-width="0.55"/>
<circle cx="348.78" cy="407.24" r="0.62" fill="#9fcfd6" stroke="#4b8d97" stroke-width="0.55"/>
<circle cx="348.78" cy="376.37" r="0.62" fill="#9fcfd6" stroke="#4b8d97" stroke-width="0.55"/>
<circle cx="348.78" cy="416.99" r="0.62" fill="#9fcfd6" stroke="#4b8d97" stroke-width="0.55"/>
<circle cx="348.78" cy="416.21" r="0.62" fill="#9fcfd6" stroke="#4b8d97" stroke-width="0.55"/>
<circle cx="348.78" cy="402.91" r="0.62" fill="#9fcfd6" stroke="#4b8d97" stroke-width="0.55"/>
<circle cx="348.78" cy="410.92" r="0.62" fill="#9fcfd6" stroke="#4b8d97" stroke-width="0.55"/>
<circle cx="350.44" cy="404.61" r="0.62" fill="#9fcfd6" stroke="#4b8d97" stroke-width="0.55"/>
<circle cx="348.78" cy="411.29" r="0.62" fill="#9fcfd6" stroke="#4b8d97" stroke-width="0.55"/>
<circle cx="348.78" cy="391.41" r="0.62" fill="#9fcfd6" stroke="#4b8d97" stroke-width="0.55"/>
<circle cx="350.44" cy="392.58" r="0.62" fill="#9fcfd6" stroke="#4b8d97" stroke-width="0.55"/>
<circle cx="348.78" cy="409.09" r="0.62" fill="#9fcfd6" stroke="#4b8d97" stroke-width="0.55"/>
<circle cx="350.44" cy="412.06" r="0.62" fill="#9fcfd6" stroke="#4b8d97" stroke-width="0.55"/>
<circle cx="348.78" cy="415.10" r="0.62" fill="#9fcfd6" stroke="#4b8d97" stroke-width="0.55"/>
<circle cx="350.44" cy="417.75" r="0.62" fill="#9fcfd6" stroke="#4b8d97" stroke-width="0.55"/>
<circle cx="348.78" cy="409.25" r="0.62" fill="#9fcfd6" stroke="#4b8d97" stroke-width="0.55"/>
<circle cx="350.44" cy="413.94" r="0.62" fill="#9fcfd6" stroke="#4b8d97" stroke-width="0.55"/>
<circle cx="348.78" cy="416.30" r="0.62" fill="#9fcfd6" stroke="#4b8d97" stroke-width="0.55"/>
<circle cx="348.78" cy="406.99" r="0.62" fill="#9fcfd6" stroke="#4b8d97" stroke-width="0.55"/>
<circle cx="348.78" cy="407.14" r="0.62" fill="#9fcfd6" stroke="#4b8d97" stroke-width="0.55"/>
<circle cx="350.44" cy="400.36" r="0.62" fill="#9fcfd6" stroke="#4b8d97" stroke-width="0.55"/>
<circle cx="348.78" cy="410.75" r="0.62" fill="#9fcfd6" stroke="#4b8d97" stroke-width="0.55"/>
<circle cx="350.44" cy="412.72" r="0.62" fill="#9fcfd6" stroke="#4b8d97" stroke-width="0.55"/>
<circle cx="348.78" cy="403.85" r="0.62" fill="#9fcfd6" stroke="#4b8d97" stroke-width="0.55"/>
<circle cx="348.78" cy="401.63" r="0.62" fill="#9fcfd6" stroke="#4b8d97" stroke-width="0.55"/>
<circle cx="350.44" cy="419.00" r="0.62" fill="#9fcfd6" stroke="#4b8d97" stroke-width="0.55"/>
<circle cx="350.44" cy="413.95" r="0.62" fill="#9fcfd6" stroke="#4b8d97" stroke-width="0.55"/>
<circle cx="348.78" cy="393.67" r="0.62" fill="#9fcfd6" stroke="#4b8d97" stroke-width="0.55"/>
<circle cx="353.77" cy="414.96" r="0.62" fill="#9fcfd6" stroke="#4b8d97" stroke-width="0.55"/>
<circle cx="350.51" cy="413.00" r="0.62" fill="#9fcfd6" stroke="#4b8d97" stroke-width="0.55"/>
<circle cx="354.48" cy="410.84" r="0.62" fill="#9fcfd6" stroke="#4b8d97" stroke-width="0.55"/>
<circle cx="354.48" cy="420.03" r="0.62" fill="#9fcfd6" stroke="#4b8d97" stroke-width="0.55"/>
<circle cx="355.50" cy="414.32" r="0.62" fill="#9fcfd6" stroke="#4b8d97" stroke-width="0.55"/>
<circle cx="354.48" cy="401.84" r="0.62" fill="#9fcfd6" stroke="#4b8d97" stroke-width="0.55"/>
<circle cx="351.48" cy="415.45" r="0.62" fill="#9fcfd6" stroke="#4b8d97" stroke-width="0.55"/>
<circle cx="354.48" cy="417.74" r="0.62" fill="#9fcfd6" stroke="#4b8d97" stroke-width="0.55"/>
<circle cx="354.48" cy="411.69" r="0.62" fill="#9fcfd6" stroke="#4b8d97" stroke-width="0.55"/>
<circle cx="351.48" cy="403.97" r="0.62" fill="#9fcfd6" stroke="#4b8d97" stroke-width="0.55"/>
<circle cx="352.45" cy="404.84" r="0.62" fill="#9fcfd6" stroke="#4b8d97" stroke-width="0.55"/>
<circle cx="350.51" cy="405.04" r="0.62" fill="#9fcfd6" stroke="#4b8d97" stroke-width="0.55"/>
<circle cx="355.50" cy="410.55" r="0.62" fill="#9fcfd6" stroke="#4b8d97" stroke-width="0.55"/>
<circle cx="354.48" cy="417.98" r="0.62" fill="#9fcfd6" stroke="#4b8d97" stroke-width="0.55"/>
<circle cx="351.48" cy="398.96" r="0.62" fill="#9fcfd6" stroke="#4b8d97" stroke-width="0.55"/>
<circle cx="355.50" cy="406.84" r="0.62" fill="#9fcfd6" stroke="#4b8d97" stroke-width="0.55"/>
<circle cx="354.48" cy="409.68" r="0.62" fill="#9fcfd6" stroke="#4b8d97" stroke-width="0.55"/>
<circle cx="351.48" cy="410.01" r="0.62" fill="#9fcfd6" stroke="#4b8d97" stroke-width="0.55"/>
<circle cx="355.50" cy="420.24" r="0.62" fill="#9fcfd6" stroke="#4b8d97" stroke-width="0.55"/>
<circle cx="355.50" cy="409.98" r="0.62" fill="#9fcfd6" stroke="#4b8d97" stroke-width="0.55"/>
<circle cx="351.48" cy="417.69" r="0.62" fill="#9fcfd6" stroke="#4b8d97" stroke-width="0.55"/>
<circle cx="350.51" cy="419.88" r="0.62" fill="#9fcfd6" stroke="#4b8d97" stroke-width="0.55"/>
<circle cx="351.48" cy="401.14" r="0.62" fill="#9fcfd6" stroke="#4b8d97" stroke-width="0.55"/>
<circle cx="354.48" cy="419.26" r="0.62" fill="#9fcfd6" stroke="#4b8d97" stroke-width="0.55"/>
<circle cx="351.48" cy="414.38" r="0.62" fill="#9fcfd6" stroke="#4b8d97" stroke-width="0.55"/>
<circle cx="352.45" cy="408.84" r="0.62" fill="#9fcfd6" stroke="#4b8d97" stroke-width="0.55"/>
<circle cx="354.48" cy="420.37" r="0.62" fill="#9fcfd6" stroke="#4b8d97" stroke-width="0.55"/>
<circle cx="363.10" cy="418.42" r="0.62" fill="#9fcfd6" stroke="#4b8d97" stroke-width="0.55"/>
<circle cx="359.02" cy="393.54" r="0.62" fill="#9fcfd6" stroke="#4b8d97" stroke-width="0.55"/>
<circle cx="364.32" cy="419.95" r="0.62" fill="#9fcfd6" stroke="#4b8d97" stroke-width="0.55"/>
<circle cx="359.02" cy="403.93" r="0.62" fill="#9fcfd6" stroke="#4b8d97" stroke-width="0.55"/>
<circle cx="365.29" cy="413.41" r="0.62" fill="#9fcfd6" stroke="#4b8d97" stroke-width="0.55"/>
<circle cx="360.24" cy="405.81" r="0.62" fill="#9fcfd6" stroke="#4b8d97" stroke-width="0.55"/>
<circle cx="365.29" cy="418.49" r="0.62" fill="#9fcfd6" stroke="#4b8d97" stroke-width="0.55"/>
<circle cx="359.02" cy="399.17" r="0.62" fill="#9fcfd6" stroke="#4b8d97" stroke-width="0.55"/>
<circle cx="365.29" cy="413.11" r="0.62" fill="#9fcfd6" stroke="#4b8d97" stroke-width="0.55"/>
<circle cx="363.10" cy="401.30" r="0.62" fill="#9fcfd6" stroke="#4b8d97" stroke-width="0.55"/>
<circle cx="359.02" cy="407.11" r="0.62" fill="#9fcfd6" stroke="#4b8d97" stroke-width="0.55"/>
<circle cx="361.03" cy="414.18" r="0.62" fill="#9fcfd6" stroke="#4b8d97" stroke-width="0.55"/>
<circle cx="359.02" cy="417.73" r="0.62" fill="#9fcfd6" stroke="#4b8d97" stroke-width="0.55"/>
<circle cx="359.02" cy="417.14" r="0.62" fill="#9fcfd6" stroke="#4b8d97" stroke-width="0.55"/>
<circle cx="362.21" cy="418.04" r="0.62" fill="#9fcfd6" stroke="#4b8d97" stroke-width="0.55"/>
<circle cx="360.24" cy="420.04" r="0.62" fill="#9fcfd6" stroke="#4b8d97" stroke-width="0.55"/>
<circle cx="359.02" cy="408.64" r="0.62" fill="#9fcfd6" stroke="#4b8d97" stroke-width="0.55"/>
<circle cx="359.02" cy="392.20" r="0.62" fill="#9fcfd6" stroke="#4b8d97" stroke-width="0.55"/>
<circle cx="365.29" cy="407.72" r="0.62" fill="#9fcfd6" stroke="#4b8d97" stroke-width="0.55"/>
<circle cx="362.21" cy="410.85" r="0.62" fill="#9fcfd6" stroke="#4b8d97" stroke-width="0.55"/>
<circle cx="364.32" cy="409.72" r="0.62" fill="#9fcfd6" stroke="#4b8d97" stroke-width="0.55"/>
<circle cx="359.02" cy="420.48" r="0.62" fill="#9fcfd6" stroke="#4b8d97" stroke-width="0.55"/>
<circle cx="365.29" cy="402.34" r="0.62" fill="#9fcfd6" stroke="#4b8d97" stroke-width="0.55"/>
<circle cx="357.23" cy="418.93" r="0.62" fill="#9fcfd6" stroke="#4b8d97" stroke-width="0.55"/>
<circle cx="360.24" cy="413.76" r="0.62" fill="#9fcfd6" stroke="#4b8d97" stroke-width="0.55"/>
<circle cx="365.29" cy="410.16" r="0.62" fill="#9fcfd6" stroke="#4b8d97" stroke-width="0.55"/>
<circle cx="359.02" cy="420.83" r="0.62" fill="#9fcfd6" stroke="#4b8d97" stroke-width="0.55"/>
<circle cx="359.02" cy="392.77" r="0.62" fill="#9fcfd6" stroke="#4b8d97" stroke-width="0.55"/>
<circle cx="364.32" cy="409.20" r="0.62" fill="#9fcfd6" stroke="#4b8d97" stroke-width="0.55"/>
<circle cx="359.02" cy="409.07" r="0.62" fill="#9fcfd6" stroke="#4b8d97" stroke-width="0.55"/>
<circle cx="357.23" cy="405.95" r="0.62" fill="#9fcfd6" stroke="#4b8d97" stroke-width="0.55"/>
<circle cx="356.12" cy="410.99" r="0.62" fill="#9fcfd6" stroke="#4b8d97" stroke-width="0.55"/>
<circle cx="359.02" cy="413.55" r="0.62" fill="#9fcfd6" stroke="#4b8d97" stroke-width="0.55"/>
<circle cx="365.29" cy="404.83" r="0.62" fill="#9fcfd6" stroke="#4b8d97" stroke-width="0.55"/>
<circle cx="359.02" cy="418.56" r="0.62" fill="#9fcfd6" stroke="#4b8d97" stroke-width="0.55"/>
<circle cx="359.02" cy="393.87" r="0.62" fill="#9fcfd6" stroke="#4b8d97" stroke-width="0.55"/>
<circle cx="359.02" cy="406.61" r="0.62" fill="#9fcfd6" stroke="#4b8d97" stroke-width="0.55"/>
<circle cx="364.32" cy="411.01" r="0.62" fill="#9fcfd6" stroke="#4b8d97" stroke-width="0.55"/>
<circle cx="357.99" cy="408.01" r="0.62" fill="#9fcfd6" stroke="#4b8d97" stroke-width="0.55"/>
<circle cx="364.32" cy="411.25" r="0.62" fill="#9fcfd6" stroke="#4b8d97" stroke-width="0.55"/>
<circle cx="361.03" cy="420.59" r="0.62" fill="#9fcfd6" stroke="#4b8d97" stroke-width="0.55"/>
<circle cx="359.02" cy="417.52" r="0.62" fill="#9fcfd6" stroke="#4b8d97" stroke-width="0.55"/>
<circle cx="357.23" cy="417.73" r="0.62" fill="#9fcfd6" stroke="#4b8d97" stroke-width="0.55"/>
<circle cx="363.10" cy="409.01" r="0.62" fill="#9fcfd6" stroke="#4b8d97" stroke-width="0.55"/>
<circle cx="364.32" cy="392.48" r="0.62" fill="#9fcfd6" stroke="#4b8d97" stroke-width="0.55"/>
<circle cx="362.21" cy="406.24" r="0.62" fill="#9fcfd6" stroke="#4b8d97" stroke-width="0.55"/>
<circle cx="365.29" cy="404.30" r="0.62" fill="#9fcfd6" stroke="#4b8d97" stroke-width="0.55"/>
<circle cx="359.02" cy="411.91" r="0.62" fill="#9fcfd6" stroke="#4b8d97" stroke-width="0.55"/>
<circle cx="359.02" cy="416.02" r="0.62" fill="#9fcfd6" stroke="#4b8d97" stroke-width="0.55"/>
<circle cx="362.21" cy="417.88" r="0.62" fill="#9fcfd6" stroke="#4b8d97" stroke-width="0.55"/>
<circle cx="359.02" cy="412.32" r="0.62" fill="#9fcfd6" stroke="#4b8d97" stroke-width="0.55"/>
<circle cx="362.21" cy="417.39" r="0.62" fill="#9fcfd6" stroke="#4b8d97" stroke-width="0.55"/>
<circle cx="362.21" cy="407.48" r="0.62" fill="#9fcfd6" stroke="#4b8d97" stroke-width="0.55"/>
<circle cx="364.32" cy="412.14" r="0.62" fill="#9fcfd6" stroke="#4b8d97" stroke-width="0.55"/>
<circle cx="359.02" cy="415.34" r="0.62" fill="#9fcfd6" stroke="#4b8d97" stroke-width="0.55"/>
<circle cx="365.29" cy="415.13" r="0.62" fill="#9fcfd6" stroke="#4b8d97" stroke-width="0.55"/>
<circle cx="361.03" cy="410.87" r="0.62" fill="#9fcfd6" stroke="#4b8d97" stroke-width="0.55"/>
<circle cx="357.23" cy="405.52" r="0.62" fill="#9fcfd6" stroke="#4b8d97" stroke-width="0.55"/>
<circle cx="360.24" cy="419.23" r="0.62" fill="#9fcfd6" stroke="#4b8d97" stroke-width="0.55"/>
<circle cx="360.24" cy="402.26" r="0.62" fill="#9fcfd6" stroke="#4b8d97" stroke-width="0.55"/>
<circle cx="359.02" cy="415.42" r="0.62" fill="#9fcfd6" stroke="#4b8d97" stroke-width="0.55"/>
<circle cx="359.02" cy="418.86" r="0.62" fill="#9fcfd6" stroke="#4b8d97" stroke-width="0.55"/>
<circle cx="359.02" cy="415.09" r="0.62" fill="#9fcfd6" stroke="#4b8d97" stroke-width="0.55"/>
<circle cx="363.10" cy="420.57" r="0.62" fill="#9fcfd6" stroke="#4b8d97" stroke-width="0.55"/>
<circle cx="360.24" cy="409.28" r="0.62" fill="#9fcfd6" stroke="#4b8d97" stroke-width="0.55"/>
<circle cx="359.02" cy="386.95" r="0.62" fill="#9fcfd6" stroke="#4b8d97" stroke-width="0.55"/>
<circle cx="356.12" cy="395.25" r="0.62" fill="#9fcfd6" stroke="#4b8d97" stroke-width="0.55"/>
<circle cx="359.02" cy="420.82" r="0.62" fill="#9fcfd6" stroke="#4b8d97" stroke-width="0.55"/>
<circle cx="365.29" cy="406.75" r="0.62" fill="#9fcfd6" stroke="#4b8d97" stroke-width="0.55"/>
<circle cx="359.02" cy="413.09" r="0.62" fill="#9fcfd6" stroke="#4b8d97" stroke-width="0.55"/>
<circle cx="361.03" cy="404.35" r="0.62" fill="#9fcfd6" stroke="#4b8d97" stroke-width="0.55"/>
<circle cx="359.02" cy="407.22" r="0.62" fill="#9fcfd6" stroke="#4b8d97" stroke-width="0.55"/>
<circle cx="360.24" cy="399.87" r="0.62" fill="#9fcfd6" stroke="#4b8d97" stroke-width="0.55"/>
<circle cx="359.02" cy="408.60" r="0.62" fill="#9fcfd6" stroke="#4b8d97" stroke-width="0.55"/>
<circle cx="360.24" cy="402.91" r="0.62" fill="#9fcfd6" stroke="#4b8d97" stroke-width="0.55"/>
<circle cx="365.29" cy="409.41" r="0.62" fill="#9fcfd6" stroke="#4b8d97" stroke-width="0.55"/>
<circle cx="357.99" cy="398.74" r="0.62" fill="#9fcfd6" stroke="#4b8d97" stroke-width="0.55"/>
<circle cx="361.03" cy="419.45" r="0.62" fill="#9fcfd6" stroke="#4b8d97" stroke-width="0.55"/>
<circle cx="363.10" cy="405.50" r="0.62" fill="#9fcfd6" stroke="#4b8d97" stroke-width="0.55"/>
<circle cx="363.10" cy="418.18" r="0.62" fill="#9fcfd6" stroke="#4b8d97" stroke-width="0.55"/>
<circle cx="359.02" cy="410.71" r="0.62" fill="#9fcfd6" stroke="#4b8d97" stroke-width="0.55"/>
<circle cx="359.02" cy="406.11" r="0.62" fill="#9fcfd6" stroke="#4b8d97" stroke-width="0.55"/>
<circle cx="356.12" cy="412.75" r="0.62" fill="#9fcfd6" stroke="#4b8d97" stroke-width="0.55"/>
<circle cx="361.03" cy="416.76" r="0.62" fill="#9fcfd6" stroke="#4b8d97" stroke-width="0.55"/>
<circle cx="364.32" cy="402.64" r="0.62" fill="#9fcfd6" stroke="#4b8d97" stroke-width="0.55"/>
<circle cx="357.99" cy="419.30" r="0.62" fill="#9fcfd6" stroke="#4b8d97" stroke-width="0.55"/>
<circle cx="359.02" cy="418.66" r="0.62" fill="#9fcfd6" stroke="#4b8d97" stroke-width="0.55"/>
<circle cx="359.02" cy="410.42" r="0.62" fill="#9fcfd6" stroke="#4b8d97" stroke-width="0.55"/>
<circle cx="363.10" cy="416.86" r="0.62" fill="#9fcfd6" stroke="#4b8d97" stroke-width="0.55"/>
<circle cx="357.23" cy="405.35" r="0.62" fill="#9fcfd6" stroke="#4b8d97" stroke-width="0.55"/>
<circle cx="360.24" cy="410.65" r="0.62" fill="#9fcfd6" stroke="#4b8d97" stroke-width="0.55"/>
<circle cx="363.10" cy="420.26" r="0.62" fill="#9fcfd6" stroke="#4b8d97" stroke-width="0.55"/>
<circle cx="359.02" cy="412.84" r="0.62" fill="#9fcfd6" stroke="#4b8d97" stroke-width="0.55"/>
<circle cx="356.12" cy="413.02" r="0.62" fill="#9fcfd6" stroke="#4b8d97" stroke-width="0.55"/>
<circle cx="360.24" cy="402.52" r="0.62" fill="#9fcfd6" stroke="#4b8d97" stroke-width="0.55"/>
<circle cx="359.02" cy="415.64" r="0.62" fill="#9fcfd6" stroke="#4b8d97" stroke-width="0.55"/>
<circle cx="364.32" cy="417.61" r="0.62" fill="#9fcfd6" stroke="#4b8d97" stroke-width="0.55"/>
<circle cx="357.99" cy="420.61" r="0.62" fill="#9fcfd6" stroke="#4b8d97" stroke-width="0.55"/>
<circle cx="362.21" cy="412.42" r="0.62" fill="#9fcfd6" stroke="#4b8d97" stroke-width="0.55"/>
<circle cx="364.32" cy="419.71" r="0.62" fill="#9fcfd6" stroke="#4b8d97" stroke-width="0.55"/>
<circle cx="359.02" cy="415.92" r="0.62" fill="#9fcfd6" stroke="#4b8d97" stroke-width="0.55"/>
<circle cx="359.02" cy="412.89" r="0.62" fill="#9fcfd6" stroke="#4b8d97" stroke-width="0.55"/>
<circle cx="356.12" cy="383.67" r="0.62" fill="#9fcfd6" stroke="#4b8d97" stroke-width="0.55"/>
<circle cx="359.02" cy="417.91" r="0.62" fill="#9fcfd6" stroke="#4b8d97" stroke-width="0.55"/>
<circle cx="357.99" cy="379.04" r="0.62" fill="#9fcfd6" stroke="#4b8d97" stroke-width="0.55"/>
<circle cx="359.02" cy="420.74" r="0.62" fill="#9fcfd6" stroke="#4b8d97" stroke-width="0.55"/>
<circle cx="359.02" cy="416.82" r="0.62" fill="#9fcfd6" stroke="#4b8d97" stroke-width="0.55"/>
<circle cx="364.32" cy="411.85" r="0.62" fill="#9fcfd6" stroke="#4b8d97" stroke-width="0.55"/>
<circle cx="359.02" cy="409.75" r="0.62" fill="#9fcfd6" stroke="#4b8d97" stroke-width="0.55"/>
<circle cx="359.02" cy="417.52" r="0.62" fill="#9fcfd6" stroke="#4b8d97" stroke-width="0.55"/>
<circle cx="365.29" cy="419.12" r="0.62" fill="#9fcfd6" stroke="#4b8d97" stroke-width="0.55"/>
<circle cx="363.10" cy="419.84" r="0.62" fill="#9fcfd6" stroke="#4b8d97" stroke-width="0.55"/>
<circle cx="359.02" cy="410.57" r="0.62" fill="#9fcfd6" stroke="#4b8d97" stroke-width="0.55"/>
<circle cx="360.24" cy="420.04" r="0.62" fill="#9fcfd6" stroke="#4b8d97" stroke-width="0.55"/>
<circle cx="365.29" cy="404.95" r="0.62" fill="#9fcfd6" stroke="#4b8d97" stroke-width="0.55"/>
<circle cx="359.02" cy="399.86" r="0.62" fill="#9fcfd6" stroke="#4b8d97" stroke-width="0.55"/>
<circle cx="361.03" cy="386.36" r="0.62" fill="#9fcfd6" stroke="#4b8d97" stroke-width="0.55"/>
<circle cx="356.12" cy="403.85" r="0.62" fill="#9fcfd6" stroke="#4b8d97" stroke-width="0.55"/>
<circle cx="357.23" cy="408.99" r="0.62" fill="#9fcfd6" stroke="#4b8d97" stroke-width="0.55"/>
<circle cx="359.02" cy="411.11" r="0.62" fill="#9fcfd6" stroke="#4b8d97" stroke-width="0.55"/>
<circle cx="361.03" cy="393.94" r="0.62" fill="#9fcfd6" stroke="#4b8d97" stroke-width="0.55"/>
<circle cx="364.32" cy="406.95" r="0.62" fill="#9fcfd6" stroke="#4b8d97" stroke-width="0.55"/>
<circle cx="364.32" cy="417.54" r="0.62" fill="#9fcfd6" stroke="#4b8d97" stroke-width="0.55"/>
<circle cx="359.02" cy="418.92" r="0.62" fill="#9fcfd6" stroke="#4b8d97" stroke-width="0.55"/>
<circle cx="359.02" cy="411.08" r="0.62" fill="#9fcfd6" stroke="#4b8d97" stroke-width="0.55"/>
<circle cx="359.02" cy="412.71" r="0.62" fill="#9fcfd6" stroke="#4b8d97" stroke-width="0.55"/>
<circle cx="359.02" cy="418.24" r="0.62" fill="#9fcfd6" stroke="#4b8d97" stroke-width="0.55"/>
<circle cx="359.02" cy="408.81" r="0.62" fill="#9fcfd6" stroke="#4b8d97" stroke-width="0.55"/>
<circle cx="359.02" cy="418.39" r="0.62" fill="#9fcfd6" stroke="#4b8d97" stroke-width="0.55"/>
<circle cx="365.29" cy="408.58" r="0.62" fill="#9fcfd6" stroke="#4b8d97" stroke-width="0.55"/>
<circle cx="359.02" cy="395.09" r="0.62" fill="#9fcfd6" stroke="#4b8d97" stroke-width="0.55"/>
<circle cx="359.02" cy="401.16" r="0.62" fill="#9fcfd6" stroke="#4b8d97" stroke-width="0.55"/>
<circle cx="359.02" cy="411.17" r="0.62" fill="#9fcfd6" stroke="#4b8d97" stroke-width="0.55"/>
<circle cx="359.02" cy="411.85" r="0.62" fill="#9fcfd6" stroke="#4b8d97" stroke-width="0.55"/>
<circle cx="359.02" cy="419.81" r="0.62" fill="#9fcfd6" stroke="#4b8d97" stroke-width="0.55"/>
<circle cx="359.02" cy="400.73" r="0.62" fill="#9fcfd6" stroke="#4b8d97" stroke-width="0.55"/>
<circle cx="359.02" cy="410.38" r="0.62" fill="#9fcfd6" stroke="#4b8d97" stroke-width="0.55"/>
<circle cx="359.02" cy="401.69" r="0.62" fill="#9fcfd6" stroke="#4b8d97" stroke-width="0.55"/>
<circle cx="359.02" cy="393.21" r="0.62" fill="#9fcfd6" stroke="#4b8d97" stroke-width="0.55"/>
<circle cx="363.10" cy="415.68" r="0.62" fill="#9fcfd6" stroke="#4b8d97" stroke-width="0.55"/>
<circle cx="356.12" cy="390.07" r="0.62" fill="#9fcfd6" stroke="#4b8d97" stroke-width="0.55"/>
<circle cx="359.02" cy="416.41" r="0.62" fill="#9fcfd6" stroke="#4b8d97" stroke-width="0.55"/>
<circle cx="364.32" cy="416.91" r="0.62" fill="#9fcfd6" stroke="#4b8d97" stroke-width="0.55"/>
<circle cx="359.02" cy="418.62" r="0.62" fill="#9fcfd6" stroke="#4b8d97" stroke-width="0.55"/>
<circle cx="357.23" cy="403.67" r="0.62" fill="#9fcfd6" stroke="#4b8d97" stroke-width="0.55"/>
<circle cx="359.02" cy="420.57" r="0.62" fill="#9fcfd6" stroke="#4b8d97" stroke-width="0.55"/>
<circle cx="357.99" cy="416.74" r="0.62" fill="#9fcfd6" stroke="#4b8d97" stroke-width="0.55"/>
<circle cx="361.03" cy="408.72" r="0.62" fill="#9fcfd6" stroke="#4b8d97" stroke-width="0.55"/>
<circle cx="359.02" cy="418.41" r="0.62" fill="#9fcfd6" stroke="#4b8d97" stroke-width="0.55"/>
<circle cx="360.24" cy="406.14" r="0.62" fill="#9fcfd6" stroke="#4b8d97" stroke-width="0.55"/>
<circle cx="359.02" cy="403.94" r="0.62" fill="#9fcfd6" stroke="#4b8d97" stroke-width="0.55"/>
<circle cx="363.10" cy="416.81" r="0.62" fill="#9fcfd6" stroke="#4b8d97" stroke-width="0.55"/>
<circle cx="359.02" cy="413.88" r="0.62" fill="#9fcfd6" stroke="#4b8d97" stroke-width="0.55"/>
<circle cx="359.02" cy="417.48" r="0.62" fill="#9fcfd6" stroke="#4b8d97" stroke-width="0.55"/>
<circle cx="359.02" cy="406.66" r="0.62" fill="#9fcfd6" stroke="#4b8d97" stroke-width="0.55"/>
<circle cx="364.32" cy="419.08" r="0.62" fill="#9fcfd6" stroke="#4b8d97" stroke-width="0.55"/>
<circle cx="359.02" cy="409.10" r="0.62" fill="#9fcfd6" stroke="#4b8d97" stroke-width="0.55"/>
<circle cx="359.02" cy="417.78" r="0.62" fill="#9fcfd6" stroke="#4b8d97" stroke-width="0.55"/>
<circle cx="361.03" cy="420.06" r="0.62" fill="#9fcfd6" stroke="#4b8d97" stroke-width="0.55"/>
<circle cx="360.24" cy="406.78" r="0.62" fill="#9fcfd6" stroke="#4b8d97" stroke-width="0.55"/>
<circle cx="359.02" cy="384.45" r="0.62" fill="#9fcfd6" stroke="#4b8d97" stroke-width="0.55"/>
<circle cx="362.21" cy="412.13" r="0.62" fill="#9fcfd6" stroke="#4b8d97" stroke-width="0.55"/>
<circle cx="362.21" cy="416.00" r="0.62" fill="#9fcfd6" stroke="#4b8d97" stroke-width="0.55"/>
<circle cx="362.21" cy="393.15" r="0.62" fill="#9fcfd6" stroke="#4b8d97" stroke-width="0.55"/>
<circle cx="359.02" cy="412.84" r="0.62" fill="#9fcfd6" stroke="#4b8d97" stroke-width="0.55"/>
<circle cx="361.03" cy="408.08" r="0.62" fill="#9fcfd6" stroke="#4b8d97" stroke-width="0.55"/>
<circle cx="359.02" cy="412.77" r="0.62" fill="#9fcfd6" stroke="#4b8d97" stroke-width="0.55"/>
<circle cx="357.23" cy="411.37" r="0.62" fill="#9fcfd6" stroke="#4b8d97" stroke-width="0.55"/>
<circle cx="359.02" cy="412.32" r="0.62" fill="#9fcfd6" stroke="#4b8d97" stroke-width="0.55"/>
<circle cx="359.02" cy="412.97" r="0.62" fill="#9fcfd6" stroke="#4b8d97" stroke-width="0.55"/>
<circle cx="359.02" cy="408.66" r="0.62" fill="#9fcfd6" stroke="#4b8d97" stroke-width="0.55"/>
<circle cx="357.99" cy="415.48" r="0.62" fill="#9fcfd6" stroke="#4b8d97" stroke-width="0.55"/>
<circle cx="357.23" cy="411.73" r="0.62" fill="#9fcfd6" stroke="#4b8d97" stroke-width="0.55"/>
<circle cx="359.02" cy="413.63" r="0.62" fill="#9fcfd6" stroke="#4b8d97" stroke-width="0.55"/>
<circle cx="360.24" cy="417.03" r="0.62" fill="#9fcfd6" stroke="#4b8d97" stroke-width="0.55"/>
<circle cx="362.21" cy="399.86" r="0.62" fill="#9fcfd6" stroke="#4b8d97" stroke-width="0.55"/>
<circle cx="356.12" cy="413.58" r="0.62" fill="#9fcfd6" stroke="#4b8d97" stroke-width="0.55"/>
<circle cx="359.02" cy="417.47" r="0.62" fill="#9fcfd6" stroke="#4b8d97" stroke-width="0.55"/>
<circle cx="359.02" cy="416.98" r="0.62" fill="#9fcfd6" stroke="#4b8d97" stroke-width="0.55"/>
<circle cx="357.23" cy="401.85" r="0.62" fill="#9fcfd6" stroke="#4b8d97" stroke-width="0.55"/>
<circle cx="359.02" cy="420.34" r="0.62" fill="#9fcfd6" stroke="#4b8d97" stroke-width="0.55"/>
<circle cx="359.02" cy="420.80" r="0.62" fill="#9fcfd6" stroke="#4b8d97" stroke-width="0.55"/>
<circle cx="359.02" cy="417.74" r="0.62" fill="#9fcfd6" stroke="#4b8d97" stroke-width="0.55"/>
<circle cx="364.32" cy="410.64" r="0.62" fill="#9fcfd6" stroke="#4b8d97" stroke-width="0.55"/>
<circle cx="362.21" cy="416.39" r="0.62" fill="#9fcfd6" stroke="#4b8d97" stroke-width="0.55"/>
<circle cx="359.02" cy="401.43" r="0.62" fill="#9fcfd6" stroke="#4b8d97" stroke-width="0.55"/>
<circle cx="365.29" cy="417.07" r="0.62" fill="#9fcfd6" stroke="#4b8d97" stroke-width="0.55"/>
<circle cx="359.02" cy="390.48" r="0.62" fill="#9fcfd6" stroke="#4b8d97" stroke-width="0.55"/>
<circle cx="363.10" cy="405.11" r="0.62" fill="#9fcfd6" stroke="#4b8d97" stroke-width="0.55"/>
<circle cx="361.03" cy="410.18" r="0.62" fill="#9fcfd6" stroke="#4b8d97" stroke-width="0.55"/>
<circle cx="359.02" cy="410.72" r="0.62" fill="#9fcfd6" stroke="#4b8d97" stroke-width="0.55"/>
<circle cx="359.02" cy="406.73" r="0.62" fill="#9fcfd6" stroke="#4b8d97" stroke-width="0.55"/>
<circle cx="359.02" cy="394.99" r="0.62" fill="#9fcfd6" stroke="#4b8d97" stroke-width="0.55"/>
<circle cx="365.29" cy="413.35" r="0.62" fill="#9fcfd6" stroke="#4b8d97" stroke-width="0.55"/>
<circle cx="359.02" cy="419.03" r="0.62" fill="#9fcfd6" stroke="#4b8d97" stroke-width="0.55"/>
<circle cx="359.02" cy="395.71" r="0.62" fill="#9fcfd6" stroke="#4b8d97" stroke-width="0.55"/>
<circle cx="357.99" cy="390.61" r="0.62" fill="#9fcfd6" stroke="#4b8d97" stroke-width="0.55"/>
<circle cx="359.02" cy="417.96" r="0.62" fill="#9fcfd6" stroke="#4b8d97" stroke-width="0.55"/>
<circle cx="359.02" cy="399.43" r="0.62" fill="#9fcfd6" stroke="#4b8d97" stroke-width="0.55"/>
<circle cx="356.12" cy="407.07" r="0.62" fill="#9fcfd6" stroke="#4b8d97" stroke-width="0.55"/>
<circle cx="368.60" cy="417.95" r="0.62" fill="#9fcfd6" stroke="#4b8d97" stroke-width="0.55"/>
<circle cx="368.60" cy="414.26" r="0.62" fill="#9fcfd6" stroke="#4b8d97" stroke-width="0.55"/>
<circle cx="368.60" cy="405.15" r="0.62" fill="#9fcfd6" stroke="#4b8d97" stroke-width="0.55"/>
<circle cx="368.60" cy="401.34" r="0.62" fill="#9fcfd6" stroke="#4b8d97" stroke-width="0.55"/>
<circle cx="367.29" cy="416.36" r="0.62" fill="#9fcfd6" stroke="#4b8d97" stroke-width="0.55"/>
<circle cx="368.60" cy="407.05" r="0.62" fill="#9fcfd6" stroke="#4b8d97" stroke-width="0.55"/>
<circle cx="368.60" cy="420.06" r="0.62" fill="#9fcfd6" stroke="#4b8d97" stroke-width="0.55"/>
<circle cx="367.29" cy="420.78" r="0.62" fill="#9fcfd6" stroke="#4b8d97" stroke-width="0.55"/>
<circle cx="367.29" cy="407.59" r="0.62" fill="#9fcfd6" stroke="#4b8d97" stroke-width="0.55"/>
<circle cx="367.29" cy="417.82" r="0.62" fill="#9fcfd6" stroke="#4b8d97" stroke-width="0.55"/>
<circle cx="368.60" cy="414.88" r="0.62" fill="#9fcfd6" stroke="#4b8d97" stroke-width="0.55"/>
<circle cx="367.29" cy="417.13" r="0.62" fill="#9fcfd6" stroke="#4b8d97" stroke-width="0.55"/>
<circle cx="366.14" cy="419.30" r="0.62" fill="#9fcfd6" stroke="#4b8d97" stroke-width="0.55"/>
<circle cx="368.60" cy="411.93" r="0.62" fill="#9fcfd6" stroke="#4b8d97" stroke-width="0.55"/>
<circle cx="368.60" cy="413.21" r="0.62" fill="#9fcfd6" stroke="#4b8d97" stroke-width="0.55"/>
<circle cx="368.60" cy="409.61" r="0.62" fill="#9fcfd6" stroke="#4b8d97" stroke-width="0.55"/>
<circle cx="368.60" cy="402.48" r="0.62" fill="#9fcfd6" stroke="#4b8d97" stroke-width="0.55"/>
<circle cx="366.14" cy="420.56" r="0.62" fill="#9fcfd6" stroke="#4b8d97" stroke-width="0.55"/>
<circle cx="368.60" cy="408.08" r="0.62" fill="#9fcfd6" stroke="#4b8d97" stroke-width="0.55"/>
<circle cx="368.60" cy="419.13" r="0.62" fill="#9fcfd6" stroke="#4b8d97" stroke-width="0.55"/>
<circle cx="368.60" cy="412.87" r="0.62" fill="#9fcfd6" stroke="#4b8d97" stroke-width="0.55"/>
<circle cx="368.60" cy="411.75" r="0.62" fill="#9fcfd6" stroke="#4b8d97" stroke-width="0.55"/>
<circle cx="368.60" cy="405.19" r="0.62" fill="#9fcfd6" stroke="#4b8d97" stroke-width="0.55"/>
<circle cx="368.60" cy="410.64" r="0.62" fill="#9fcfd6" stroke="#4b8d97" stroke-width="0.55"/>
<circle cx="368.60" cy="416.25" r="0.62" fill="#9fcfd6" stroke="#4b8d97" stroke-width="0.55"/>
<circle cx="368.60" cy="411.46" r="0.62" fill="#9fcfd6" stroke="#4b8d97" stroke-width="0.55"/>
<circle cx="367.29" cy="404.00" r="0.62" fill="#9fcfd6" stroke="#4b8d97" stroke-width="0.55"/>
<circle cx="368.60" cy="417.09" r="0.62" fill="#9fcfd6" stroke="#4b8d97" stroke-width="0.55"/>
<circle cx="367.29" cy="414.06" r="0.62" fill="#9fcfd6" stroke="#4b8d97" stroke-width="0.55"/>
<circle cx="366.14" cy="398.91" r="0.62" fill="#9fcfd6" stroke="#4b8d97" stroke-width="0.55"/>
<circle cx="369.80" cy="407.78" r="0.62" fill="#9fcfd6" stroke="#4b8d97" stroke-width="0.55"/>
<circle cx="367.29" cy="416.59" r="0.62" fill="#9fcfd6" stroke="#4b8d97" stroke-width="0.55"/>
<circle cx="368.60" cy="410.52" r="0.62" fill="#9fcfd6" stroke="#4b8d97" stroke-width="0.55"/>
<circle cx="368.60" cy="391.44" r="0.62" fill="#9fcfd6" stroke="#4b8d97" stroke-width="0.55"/>
<circle cx="366.14" cy="407.78" r="0.62" fill="#9fcfd6" stroke="#4b8d97" stroke-width="0.55"/>
<circle cx="372.80" cy="416.20" r="0.62" fill="#9fcfd6" stroke="#4b8d97" stroke-width="0.55"/>
<circle cx="375.12" cy="408.89" r="0.62" fill="#9fcfd6" stroke="#4b8d97" stroke-width="0.55"/>
<circle cx="372.16" cy="413.15" r="0.62" fill="#9fcfd6" stroke="#4b8d97" stroke-width="0.55"/>
<circle cx="373.72" cy="414.62" r="0.62" fill="#9fcfd6" stroke="#4b8d97" stroke-width="0.55"/>
<circle cx="375.12" cy="412.40" r="0.62" fill="#9fcfd6" stroke="#4b8d97" stroke-width="0.55"/>
<circle cx="373.72" cy="413.81" r="0.62" fill="#9fcfd6" stroke="#4b8d97" stroke-width="0.55"/>
<circle cx="375.12" cy="418.19" r="0.62" fill="#9fcfd6" stroke="#4b8d97" stroke-width="0.55"/>
<circle cx="371.43" cy="417.33" r="0.62" fill="#9fcfd6" stroke="#4b8d97" stroke-width="0.55"/>
<circle cx="375.12" cy="420.80" r="0.62" fill="#9fcfd6" stroke="#4b8d97" stroke-width="0.55"/>
<circle cx="371.43" cy="412.58" r="0.62" fill="#9fcfd6" stroke="#4b8d97" stroke-width="0.55"/>
<circle cx="372.16" cy="411.68" r="0.62" fill="#9fcfd6" stroke="#4b8d97" stroke-width="0.55"/>
<circle cx="371.43" cy="419.75" r="0.62" fill="#9fcfd6" stroke="#4b8d97" stroke-width="0.55"/>
<circle cx="373.72" cy="420.10" r="0.62" fill="#9fcfd6" stroke="#4b8d97" stroke-width="0.55"/>
<circle cx="372.80" cy="415.78" r="0.62" fill="#9fcfd6" stroke="#4b8d97" stroke-width="0.55"/>
<circle cx="372.80" cy="420.73" r="0.62" fill="#9fcfd6" stroke="#4b8d97" stroke-width="0.55"/>
<circle cx="371.43" cy="418.55" r="0.62" fill="#9fcfd6" stroke="#4b8d97" stroke-width="0.55"/>
<circle cx="375.12" cy="419.82" r="0.62" fill="#9fcfd6" stroke="#4b8d97" stroke-width="0.55"/>
<circle cx="372.16" cy="418.17" r="0.62" fill="#9fcfd6" stroke="#4b8d97" stroke-width="0.55"/>
<circle cx="372.80" cy="416.06" r="0.62" fill="#9fcfd6" stroke="#4b8d97" stroke-width="0.55"/>
<circle cx="375.12" cy="420.78" r="0.62" fill="#9fcfd6" stroke="#4b8d97" stroke-width="0.55"/>
<circle cx="372.80" cy="409.70" r="0.62" fill="#9fcfd6" stroke="#4b8d97" stroke-width="0.55"/>
<circle cx="372.80" cy="414.23" r="0.62" fill="#9fcfd6" stroke="#4b8d97" stroke-width="0.55"/>
<circle cx="371.43" cy="410.92" r="0.62" fill="#9fcfd6" stroke="#4b8d97" stroke-width="0.55"/>
<circle cx="373.72" cy="417.60" r="0.62" fill="#9fcfd6" stroke="#4b8d97" stroke-width="0.55"/>
<circle cx="372.16" cy="407.59" r="0.62" fill="#9fcfd6" stroke="#4b8d97" stroke-width="0.55"/>
<circle cx="384.22" cy="416.40" r="0.62" fill="#9fcfd6" stroke="#4b8d97" stroke-width="0.55"/>
<circle cx="384.22" cy="418.13" r="0.62" fill="#9fcfd6" stroke="#4b8d97" stroke-width="0.55"/>
<circle cx="386.64" cy="420.63" r="0.62" fill="#9fcfd6" stroke="#4b8d97" stroke-width="0.55"/>
<circle cx="380.60" cy="419.61" r="0.62" fill="#9fcfd6" stroke="#4b8d97" stroke-width="0.55"/>
<circle cx="386.64" cy="416.51" r="0.62" fill="#9fcfd6" stroke="#4b8d97" stroke-width="0.55"/>
<circle cx="376.60" cy="417.07" r="0.62" fill="#9fcfd6" stroke="#4b8d97" stroke-width="0.55"/>
<circle cx="380.60" cy="418.88" r="0.62" fill="#9fcfd6" stroke="#4b8d97" stroke-width="0.55"/>
<circle cx="380.60" cy="414.86" r="0.62" fill="#9fcfd6" stroke="#4b8d97" stroke-width="0.55"/>
<circle cx="380.60" cy="411.79" r="0.62" fill="#9fcfd6" stroke="#4b8d97" stroke-width="0.55"/>
<circle cx="382.81" cy="417.93" r="0.62" fill="#9fcfd6" stroke="#4b8d97" stroke-width="0.55"/>
<circle cx="386.64" cy="417.04" r="0.62" fill="#9fcfd6" stroke="#4b8d97" stroke-width="0.55"/>
<circle cx="380.60" cy="416.40" r="0.62" fill="#9fcfd6" stroke="#4b8d97" stroke-width="0.55"/>
<circle cx="383.54" cy="417.86" r="0.62" fill="#9fcfd6" stroke="#4b8d97" stroke-width="0.55"/>
<circle cx="380.60" cy="420.55" r="0.62" fill="#9fcfd6" stroke="#4b8d97" stroke-width="0.55"/>
<circle cx="383.54" cy="413.37" r="0.62" fill="#9fcfd6" stroke="#4b8d97" stroke-width="0.55"/>
<circle cx="380.60" cy="418.26" r="0.62" fill="#9fcfd6" stroke="#4b8d97" stroke-width="0.55"/>
<circle cx="380.60" cy="418.82" r="0.62" fill="#9fcfd6" stroke="#4b8d97" stroke-width="0.55"/>
<circle cx="380.60" cy="413.83" r="0.62" fill="#9fcfd6" stroke="#4b8d97" stroke-width="0.55"/>
<circle cx="380.60" cy="420.45" r="0.62" fill="#9fcfd6" stroke="#4b8d97" stroke-width="0.55"/>
<circle cx="380.60" cy="406.54" r="0.62" fill="#9fcfd6" stroke="#4b8d97" stroke-width="0.55"/>
<circle cx="380.60" cy="417.46" r="0.62" fill="#9fcfd6" stroke="#4b8d97" stroke-width="0.55"/>
<circle cx="385.21" cy="416.56" r="0.62" fill="#9fcfd6" stroke="#4b8d97" stroke-width="0.55"/>
<circle cx="379.20" cy="411.85" r="0.62" fill="#9fcfd6" stroke="#4b8d97" stroke-width="0.55"/>
<circle cx="386.64" cy="407.01" r="0.62" fill="#9fcfd6" stroke="#4b8d97" stroke-width="0.55"/>
<circle cx="380.60" cy="414.36" r="0.62" fill="#9fcfd6" stroke="#4b8d97" stroke-width="0.55"/>
<circle cx="380.60" cy="419.85" r="0.62" fill="#9fcfd6" stroke="#4b8d97" stroke-width="0.55"/>
<circle cx="380.60" cy="417.28" r="0.62" fill="#9fcfd6" stroke="#4b8d97" stroke-width="0.55"/>
<circle cx="383.54" cy="415.89" r="0.62" fill="#9fcfd6" stroke="#4b8d97" stroke-width="0.55"/>
<circle cx="380.60" cy="419.17" r="0.62" fill="#9fcfd6" stroke="#4b8d97" stroke-width="0.55"/>
<circle cx="380.60" cy="417.50" r="0.62" fill="#9fcfd6" stroke="#4b8d97" stroke-width="0.55"/>
<circle cx="382.81" cy="420.65" r="0.62" fill="#9fcfd6" stroke="#4b8d97" stroke-width="0.55"/>
<circle cx="380.60" cy="418.32" r="0.62" fill="#9fcfd6" stroke="#4b8d97" stroke-width="0.55"/>
<circle cx="382.81" cy="417.63" r="0.62" fill="#9fcfd6" stroke="#4b8d97" stroke-width="0.55"/>
<circle cx="385.21" cy="415.66" r="0.62" fill="#9fcfd6" stroke="#4b8d97" stroke-width="0.55"/>
<circle cx="382.02" cy="414.27" r="0.62" fill="#9fcfd6" stroke="#4b8d97" stroke-width="0.55"/>
<circle cx="382.81" cy="412.29" r="0.62" fill="#9fcfd6" stroke="#4b8d97" stroke-width="0.55"/>
<circle cx="383.54" cy="413.39" r="0.62" fill="#9fcfd6" stroke="#4b8d97" stroke-width="0.55"/>
<circle cx="381.39" cy="417.72" r="0.62" fill="#9fcfd6" stroke="#4b8d97" stroke-width="0.55"/>
<circle cx="380.60" cy="415.50" r="0.62" fill="#9fcfd6" stroke="#4b8d97" stroke-width="0.55"/>
<circle cx="380.60" cy="414.59" r="0.62" fill="#9fcfd6" stroke="#4b8d97" stroke-width="0.55"/>
<circle cx="382.02" cy="416.27" r="0.62" fill="#9fcfd6" stroke="#4b8d97" stroke-width="0.55"/>
<circle cx="376.60" cy="416.34" r="0.62" fill="#9fcfd6" stroke="#4b8d97" stroke-width="0.55"/>
<circle cx="382.81" cy="416.21" r="0.62" fill="#9fcfd6" stroke="#4b8d97" stroke-width="0.55"/>
<circle cx="382.81" cy="417.75" r="0.62" fill="#9fcfd6" stroke="#4b8d97" stroke-width="0.55"/>
<circle cx="395.47" cy="419.16" r="0.62" fill="#9fcfd6" stroke="#4b8d97" stroke-width="0.55"/>
<circle cx="394.43" cy="398.13" r="0.62" fill="#9fcfd6" stroke="#4b8d97" stroke-width="0.55"/>
<circle cx="388.97" cy="419.21" r="0.62" fill="#9fcfd6" stroke="#4b8d97" stroke-width="0.55"/>
<circle cx="395.47" cy="419.57" r="0.62" fill="#9fcfd6" stroke="#4b8d97" stroke-width="0.55"/>
<circle cx="394.43" cy="415.58" r="0.62" fill="#9fcfd6" stroke="#4b8d97" stroke-width="0.55"/>
<circle cx="388.97" cy="406.89" r="0.62" fill="#9fcfd6" stroke="#4b8d97" stroke-width="0.55"/>
<circle cx="388.97" cy="417.62" r="0.62" fill="#9fcfd6" stroke="#4b8d97" stroke-width="0.55"/>
<circle cx="388.97" cy="419.14" r="0.62" fill="#9fcfd6" stroke="#4b8d97" stroke-width="0.55"/>
<circle cx="388.97" cy="418.67" r="0.62" fill="#9fcfd6" stroke="#4b8d97" stroke-width="0.55"/>
<circle cx="394.43" cy="415.55" r="0.62" fill="#9fcfd6" stroke="#4b8d97" stroke-width="0.55"/>
<circle cx="394.43" cy="420.56" r="0.62" fill="#9fcfd6" stroke="#4b8d97" stroke-width="0.55"/>
<circle cx="395.47" cy="419.69" r="0.62" fill="#9fcfd6" stroke="#4b8d97" stroke-width="0.55"/>
<circle cx="395.47" cy="411.90" r="0.62" fill="#9fcfd6" stroke="#4b8d97" stroke-width="0.55"/>
<circle cx="394.43" cy="416.91" r="0.62" fill="#9fcfd6" stroke="#4b8d97" stroke-width="0.55"/>
<circle cx="388.97" cy="415.29" r="0.62" fill="#9fcfd6" stroke="#4b8d97" stroke-width="0.55"/>
<circle cx="388.97" cy="412.76" r="0.62" fill="#9fcfd6" stroke="#4b8d97" stroke-width="0.55"/>
<circle cx="395.47" cy="409.06" r="0.62" fill="#9fcfd6" stroke="#4b8d97" stroke-width="0.55"/>
<circle cx="388.97" cy="417.91" r="0.62" fill="#9fcfd6" stroke="#4b8d97" stroke-width="0.55"/>
<circle cx="395.47" cy="414.41" r="0.62" fill="#9fcfd6" stroke="#4b8d97" stroke-width="0.55"/>
<circle cx="390.39" cy="418.61" r="0.62" fill="#9fcfd6" stroke="#4b8d97" stroke-width="0.55"/>
<circle cx="395.47" cy="419.27" r="0.62" fill="#9fcfd6" stroke="#4b8d97" stroke-width="0.55"/>
<circle cx="388.97" cy="410.79" r="0.62" fill="#9fcfd6" stroke="#4b8d97" stroke-width="0.55"/>
<circle cx="392.74" cy="410.24" r="0.62" fill="#9fcfd6" stroke="#4b8d97" stroke-width="0.55"/>
<circle cx="388.97" cy="417.14" r="0.62" fill="#9fcfd6" stroke="#4b8d97" stroke-width="0.55"/>
<circle cx="387.28" cy="414.24" r="0.62" fill="#9fcfd6" stroke="#4b8d97" stroke-width="0.55"/>
<circle cx="388.97" cy="416.84" r="0.62" fill="#9fcfd6" stroke="#4b8d97" stroke-width="0.55"/>
<circle cx="388.97" cy="411.61" r="0.62" fill="#9fcfd6" stroke="#4b8d97" stroke-width="0.55"/>
<circle cx="390.39" cy="419.33" r="0.62" fill="#9fcfd6" stroke="#4b8d97" stroke-width="0.55"/>
<circle cx="388.97" cy="416.62" r="0.62" fill="#9fcfd6" stroke="#4b8d97" stroke-width="0.55"/>
<circle cx="392.74" cy="417.19" r="0.62" fill="#9fcfd6" stroke="#4b8d97" stroke-width="0.55"/>
<circle cx="388.97" cy="420.08" r="0.62" fill="#9fcfd6" stroke="#4b8d97" stroke-width="0.55"/>
<circle cx="395.47" cy="415.68" r="0.62" fill="#9fcfd6" stroke="#4b8d97" stroke-width="0.55"/>
<circle cx="388.97" cy="416.57" r="0.62" fill="#9fcfd6" stroke="#4b8d97" stroke-width="0.55"/>
<circle cx="395.47" cy="416.68" r="0.62" fill="#9fcfd6" stroke="#4b8d97" stroke-width="0.55"/>
<circle cx="388.97" cy="409.95" r="0.62" fill="#9fcfd6" stroke="#4b8d97" stroke-width="0.55"/>
<circle cx="388.97" cy="417.49" r="0.62" fill="#9fcfd6" stroke="#4b8d97" stroke-width="0.55"/>
<circle cx="390.39" cy="418.67" r="0.62" fill="#9fcfd6" stroke="#4b8d97" stroke-width="0.55"/>
<circle cx="388.97" cy="417.74" r="0.62" fill="#9fcfd6" stroke="#4b8d97" stroke-width="0.55"/>
<circle cx="388.97" cy="414.22" r="0.62" fill="#9fcfd6" stroke="#4b8d97" stroke-width="0.55"/>
<circle cx="388.97" cy="414.70" r="0.62" fill="#9fcfd6" stroke="#4b8d97" stroke-width="0.55"/>
<circle cx="392.74" cy="418.50" r="0.62" fill="#9fcfd6" stroke="#4b8d97" stroke-width="0.55"/>
<circle cx="388.97" cy="415.72" r="0.62" fill="#9fcfd6" stroke="#4b8d97" stroke-width="0.55"/>
<circle cx="395.47" cy="418.07" r="0.62" fill="#9fcfd6" stroke="#4b8d97" stroke-width="0.55"/>
<circle cx="388.97" cy="414.30" r="0.62" fill="#9fcfd6" stroke="#4b8d97" stroke-width="0.55"/>
<circle cx="388.97" cy="412.34" r="0.62" fill="#9fcfd6" stroke="#4b8d97" stroke-width="0.55"/>
<circle cx="395.47" cy="411.88" r="0.62" fill="#9fcfd6" stroke="#4b8d97" stroke-width="0.55"/>
<circle cx="390.39" cy="413.20" r="0.62" fill="#9fcfd6" stroke="#4b8d97" stroke-width="0.55"/>
<circle cx="388.97" cy="414.00" r="0.62" fill="#9fcfd6" stroke="#4b8d97" stroke-width="0.55"/>
<circle cx="388.97" cy="417.94" r="0.62" fill="#9fcfd6" stroke="#4b8d97" stroke-width="0.55"/>
<circle cx="388.97" cy="415.15" r="0.62" fill="#9fcfd6" stroke="#4b8d97" stroke-width="0.55"/>
<circle cx="392.74" cy="419.19" r="0.62" fill="#9fcfd6" stroke="#4b8d97" stroke-width="0.55"/>
<circle cx="392.74" cy="420.63" r="0.62" fill="#9fcfd6" stroke="#4b8d97" stroke-width="0.55"/>
<circle cx="388.97" cy="413.50" r="0.62" fill="#9fcfd6" stroke="#4b8d97" stroke-width="0.55"/>
<circle cx="395.47" cy="420.79" r="0.62" fill="#9fcfd6" stroke="#4b8d97" stroke-width="0.55"/>
<circle cx="388.97" cy="413.39" r="0.62" fill="#9fcfd6" stroke="#4b8d97" stroke-width="0.55"/>
<circle cx="394.43" cy="415.23" r="0.62" fill="#9fcfd6" stroke="#4b8d97" stroke-width="0.55"/>
<circle cx="388.97" cy="413.13" r="0.62" fill="#9fcfd6" stroke="#4b8d97" stroke-width="0.55"/>
<circle cx="388.97" cy="418.42" r="0.62" fill="#9fcfd6" stroke="#4b8d97" stroke-width="0.55"/>
<circle cx="388.97" cy="419.00" r="0.62" fill="#9fcfd6" stroke="#4b8d97" stroke-width="0.55"/>
<circle cx="388.97" cy="419.08" r="0.62" fill="#9fcfd6" stroke="#4b8d97" stroke-width="0.55"/>
<circle cx="388.97" cy="410.37" r="0.62" fill="#9fcfd6" stroke="#4b8d97" stroke-width="0.55"/>
<circle cx="395.47" cy="419.39" r="0.62" fill="#9fcfd6" stroke="#4b8d97" stroke-width="0.55"/>
<circle cx="391.33" cy="420.39" r="0.62" fill="#9fcfd6" stroke="#4b8d97" stroke-width="0.55"/>
<circle cx="388.97" cy="415.70" r="0.62" fill="#9fcfd6" stroke="#4b8d97" stroke-width="0.55"/>
<circle cx="388.97" cy="414.75" r="0.62" fill="#9fcfd6" stroke="#4b8d97" stroke-width="0.55"/>
<circle cx="392.74" cy="405.89" r="0.62" fill="#9fcfd6" stroke="#4b8d97" stroke-width="0.55"/>
<circle cx="395.47" cy="409.17" r="0.62" fill="#9fcfd6" stroke="#4b8d97" stroke-width="0.55"/>
<circle cx="395.47" cy="410.23" r="0.62" fill="#9fcfd6" stroke="#4b8d97" stroke-width="0.55"/>
<circle cx="391.33" cy="412.63" r="0.62" fill="#9fcfd6" stroke="#4b8d97" stroke-width="0.55"/>
<circle cx="392.74" cy="418.21" r="0.62" fill="#9fcfd6" stroke="#4b8d97" stroke-width="0.55"/>
<circle cx="388.97" cy="420.83" r="0.62" fill="#9fcfd6" stroke="#4b8d97" stroke-width="0.55"/>
<circle cx="388.97" cy="418.07" r="0.62" fill="#9fcfd6" stroke="#4b8d97" stroke-width="0.55"/>
<circle cx="396.59" cy="413.91" r="0.62" fill="#9fcfd6" stroke="#4b8d97" stroke-width="0.55"/>
<circle cx="399.19" cy="397.32" r="0.62" fill="#9fcfd6" stroke="#4b8d97" stroke-width="0.55"/>
<circle cx="402.33" cy="418.53" r="0.62" fill="#9fcfd6" stroke="#4b8d97" stroke-width="0.55"/>
<circle cx="402.33" cy="409.89" r="0.62" fill="#9fcfd6" stroke="#4b8d97" stroke-width="0.55"/>
<circle cx="400.22" cy="419.19" r="0.62" fill="#9fcfd6" stroke="#4b8d97" stroke-width="0.55"/>
<circle cx="400.22" cy="404.74" r="0.62" fill="#9fcfd6" stroke="#4b8d97" stroke-width="0.55"/>
<circle cx="398.43" cy="407.31" r="0.62" fill="#9fcfd6" stroke="#4b8d97" stroke-width="0.55"/>
<circle cx="400.22" cy="409.90" r="0.62" fill="#9fcfd6" stroke="#4b8d97" stroke-width="0.55"/>
<circle cx="397.42" cy="409.96" r="0.62" fill="#9fcfd6" stroke="#4b8d97" stroke-width="0.55"/>
<circle cx="396.59" cy="410.94" r="0.62" fill="#9fcfd6" stroke="#4b8d97" stroke-width="0.55"/>
<circle cx="401.64" cy="420.11" r="0.62" fill="#9fcfd6" stroke="#4b8d97" stroke-width="0.55"/>
<circle cx="397.42" cy="417.45" r="0.62" fill="#9fcfd6" stroke="#4b8d97" stroke-width="0.55"/>
<circle cx="397.42" cy="418.82" r="0.62" fill="#9fcfd6" stroke="#4b8d97" stroke-width="0.55"/>
<circle cx="399.19" cy="408.50" r="0.62" fill="#9fcfd6" stroke="#4b8d97" stroke-width="0.55"/>
<circle cx="402.33" cy="416.14" r="0.62" fill="#9fcfd6" stroke="#4b8d97" stroke-width="0.55"/>
<circle cx="396.59" cy="416.80" r="0.62" fill="#9fcfd6" stroke="#4b8d97" stroke-width="0.55"/>
<circle cx="402.33" cy="415.27" r="0.62" fill="#9fcfd6" stroke="#4b8d97" stroke-width="0.55"/>
<circle cx="400.22" cy="407.19" r="0.62" fill="#9fcfd6" stroke="#4b8d97" stroke-width="0.55"/>
<circle cx="402.33" cy="411.76" r="0.62" fill="#9fcfd6" stroke="#4b8d97" stroke-width="0.55"/>
<circle cx="402.33" cy="419.37" r="0.62" fill="#9fcfd6" stroke="#4b8d97" stroke-width="0.55"/>
<circle cx="397.42" cy="419.96" r="0.62" fill="#9fcfd6" stroke="#4b8d97" stroke-width="0.55"/>
<circle cx="401.64" cy="419.03" r="0.62" fill="#9fcfd6" stroke="#4b8d97" stroke-width="0.55"/>
<circle cx="397.42" cy="402.10" r="0.62" fill="#9fcfd6" stroke="#4b8d97" stroke-width="0.55"/>
<circle cx="400.22" cy="415.19" r="0.62" fill="#9fcfd6" stroke="#4b8d97" stroke-width="0.55"/>
<circle cx="398.43" cy="419.84" r="0.62" fill="#9fcfd6" stroke="#4b8d97" stroke-width="0.55"/>
<circle cx="402.33" cy="406.45" r="0.62" fill="#9fcfd6" stroke="#4b8d97" stroke-width="0.55"/>
<circle cx="396.59" cy="402.74" r="0.62" fill="#9fcfd6" stroke="#4b8d97" stroke-width="0.55"/>
<circle cx="399.19" cy="412.69" r="0.62" fill="#9fcfd6" stroke="#4b8d97" stroke-width="0.55"/>
<circle cx="396.59" cy="416.48" r="0.62" fill="#9fcfd6" stroke="#4b8d97" stroke-width="0.55"/>
<circle cx="402.33" cy="414.30" r="0.62" fill="#9fcfd6" stroke="#4b8d97" stroke-width="0.55"/>
<circle cx="400.22" cy="408.70" r="0.62" fill="#9fcfd6" stroke="#4b8d97" stroke-width="0.55"/>
<circle cx="402.33" cy="406.27" r="0.62" fill="#9fcfd6" stroke="#4b8d97" stroke-width="0.55"/>
<circle cx="400.22" cy="415.76" r="0.62" fill="#9fcfd6" stroke="#4b8d97" stroke-width="0.55"/>
<circle cx="402.33" cy="412.93" r="0.62" fill="#9fcfd6" stroke="#4b8d97" stroke-width="0.55"/>
<circle cx="401.64" cy="414.67" r="0.62" fill="#9fcfd6" stroke="#4b8d97" stroke-width="0.55"/>
<circle cx="398.43" cy="412.34" r="0.62" fill="#9fcfd6" stroke="#4b8d97" stroke-width="0.55"/>
<circle cx="399.19" cy="411.54" r="0.62" fill="#9fcfd6" stroke="#4b8d97" stroke-width="0.55"/>
<circle cx="398.43" cy="409.02" r="0.62" fill="#9fcfd6" stroke="#4b8d97" stroke-width="0.55"/>
<circle cx="396.59" cy="415.34" r="0.62" fill="#9fcfd6" stroke="#4b8d97" stroke-width="0.55"/>
<circle cx="402.33" cy="407.33" r="0.62" fill="#9fcfd6" stroke="#4b8d97" stroke-width="0.55"/>
<circle cx="400.22" cy="415.34" r="0.62" fill="#9fcfd6" stroke="#4b8d97" stroke-width="0.55"/>
<circle cx="398.43" cy="419.94" r="0.62" fill="#9fcfd6" stroke="#4b8d97" stroke-width="0.55"/>
<circle cx="398.43" cy="415.49" r="0.62" fill="#9fcfd6" stroke="#4b8d97" stroke-width="0.55"/>
<circle cx="398.43" cy="412.27" r="0.62" fill="#9fcfd6" stroke="#4b8d97" stroke-width="0.55"/>
<circle cx="401.64" cy="420.00" r="0.62" fill="#9fcfd6" stroke="#4b8d97" stroke-width="0.55"/>
<circle cx="399.19" cy="408.69" r="0.62" fill="#9fcfd6" stroke="#4b8d97" stroke-width="0.55"/>
<circle cx="402.33" cy="420.18" r="0.62" fill="#9fcfd6" stroke="#4b8d97" stroke-width="0.55"/>
<circle cx="396.59" cy="395.56" r="0.62" fill="#9fcfd6" stroke="#4b8d97" stroke-width="0.55"/>
<circle cx="398.43" cy="404.05" r="0.62" fill="#9fcfd6" stroke="#4b8d97" stroke-width="0.55"/>
<circle cx="400.22" cy="414.00" r="0.62" fill="#9fcfd6" stroke="#4b8d97" stroke-width="0.55"/>
<circle cx="400.22" cy="413.45" r="0.62" fill="#9fcfd6" stroke="#4b8d97" stroke-width="0.55"/>
<circle cx="400.22" cy="415.30" r="0.62" fill="#9fcfd6" stroke="#4b8d97" stroke-width="0.55"/>
<circle cx="400.22" cy="408.02" r="0.62" fill="#9fcfd6" stroke="#4b8d97" stroke-width="0.55"/>
<circle cx="401.64" cy="415.89" r="0.62" fill="#9fcfd6" stroke="#4b8d97" stroke-width="0.55"/>
<circle cx="398.43" cy="419.15" r="0.62" fill="#9fcfd6" stroke="#4b8d97" stroke-width="0.55"/>
<circle cx="398.43" cy="417.31" r="0.62" fill="#9fcfd6" stroke="#4b8d97" stroke-width="0.55"/>
<circle cx="402.33" cy="408.81" r="0.62" fill="#9fcfd6" stroke="#4b8d97" stroke-width="0.55"/>
<circle cx="398.43" cy="416.85" r="0.62" fill="#9fcfd6" stroke="#4b8d97" stroke-width="0.55"/>
<circle cx="396.59" cy="403.30" r="0.62" fill="#9fcfd6" stroke="#4b8d97" stroke-width="0.55"/>
<circle cx="402.33" cy="415.65" r="0.62" fill="#9fcfd6" stroke="#4b8d97" stroke-width="0.55"/>
<circle cx="398.43" cy="411.59" r="0.62" fill="#9fcfd6" stroke="#4b8d97" stroke-width="0.55"/>
<circle cx="401.64" cy="416.79" r="0.62" fill="#9fcfd6" stroke="#4b8d97" stroke-width="0.55"/>
<circle cx="396.59" cy="404.24" r="0.62" fill="#9fcfd6" stroke="#4b8d97" stroke-width="0.55"/>
<circle cx="401.64" cy="404.91" r="0.62" fill="#9fcfd6" stroke="#4b8d97" stroke-width="0.55"/>
<circle cx="400.22" cy="415.91" r="0.62" fill="#9fcfd6" stroke="#4b8d97" stroke-width="0.55"/>
<circle cx="402.33" cy="419.24" r="0.62" fill="#9fcfd6" stroke="#4b8d97" stroke-width="0.55"/>
<circle cx="402.33" cy="418.93" r="0.62" fill="#9fcfd6" stroke="#4b8d97" stroke-width="0.55"/>
<circle cx="401.64" cy="419.76" r="0.62" fill="#9fcfd6" stroke="#4b8d97" stroke-width="0.55"/>
<circle cx="401.64" cy="420.26" r="0.62" fill="#9fcfd6" stroke="#4b8d97" stroke-width="0.55"/>
<circle cx="399.19" cy="406.21" r="0.62" fill="#9fcfd6" stroke="#4b8d97" stroke-width="0.55"/>
<circle cx="402.33" cy="389.90" r="0.62" fill="#9fcfd6" stroke="#4b8d97" stroke-width="0.55"/>
<circle cx="396.59" cy="418.35" r="0.62" fill="#9fcfd6" stroke="#4b8d97" stroke-width="0.55"/>
<circle cx="401.64" cy="408.25" r="0.62" fill="#9fcfd6" stroke="#4b8d97" stroke-width="0.55"/>
<circle cx="398.43" cy="408.76" r="0.62" fill="#9fcfd6" stroke="#4b8d97" stroke-width="0.55"/>
<circle cx="396.59" cy="416.74" r="0.62" fill="#9fcfd6" stroke="#4b8d97" stroke-width="0.55"/>
<circle cx="398.43" cy="420.43" r="0.62" fill="#9fcfd6" stroke="#4b8d97" stroke-width="0.55"/>
<circle cx="396.59" cy="416.29" r="0.62" fill="#9fcfd6" stroke="#4b8d97" stroke-width="0.55"/>
<circle cx="402.33" cy="413.31" r="0.62" fill="#9fcfd6" stroke="#4b8d97" stroke-width="0.55"/>
<circle cx="396.59" cy="407.86" r="0.62" fill="#9fcfd6" stroke="#4b8d97" stroke-width="0.55"/>
<circle cx="396.59" cy="409.96" r="0.62" fill="#9fcfd6" stroke="#4b8d97" stroke-width="0.55"/>
<circle cx="400.22" cy="393.34" r="0.62" fill="#9fcfd6" stroke="#4b8d97" stroke-width="0.55"/>
<circle cx="402.33" cy="417.88" r="0.62" fill="#9fcfd6" stroke="#4b8d97" stroke-width="0.55"/>
<circle cx="400.22" cy="408.88" r="0.62" fill="#9fcfd6" stroke="#4b8d97" stroke-width="0.55"/>
<circle cx="402.33" cy="403.52" r="0.62" fill="#9fcfd6" stroke="#4b8d97" stroke-width="0.55"/>
<circle cx="399.19" cy="403.87" r="0.62" fill="#9fcfd6" stroke="#4b8d97" stroke-width="0.55"/>
<circle cx="396.59" cy="410.29" r="0.62" fill="#9fcfd6" stroke="#4b8d97" stroke-width="0.55"/>
<circle cx="400.22" cy="416.05" r="0.62" fill="#9fcfd6" stroke="#4b8d97" stroke-width="0.55"/>
<circle cx="402.33" cy="402.62" r="0.62" fill="#9fcfd6" stroke="#4b8d97" stroke-width="0.55"/>
<circle cx="398.43" cy="420.14" r="0.62" fill="#9fcfd6" stroke="#4b8d97" stroke-width="0.55"/>
<circle cx="401.64" cy="405.35" r="0.62" fill="#9fcfd6" stroke="#4b8d97" stroke-width="0.55"/>
<circle cx="397.42" cy="408.80" r="0.62" fill="#9fcfd6" stroke="#4b8d97" stroke-width="0.55"/>
<circle cx="400.22" cy="417.61" r="0.62" fill="#9fcfd6" stroke="#4b8d97" stroke-width="0.55"/>
<circle cx="397.42" cy="410.36" r="0.62" fill="#9fcfd6" stroke="#4b8d97" stroke-width="0.55"/>
<circle cx="398.43" cy="408.72" r="0.62" fill="#9fcfd6" stroke="#4b8d97" stroke-width="0.55"/>
<circle cx="398.43" cy="413.01" r="0.62" fill="#9fcfd6" stroke="#4b8d97" stroke-width="0.55"/>
<circle cx="400.22" cy="414.71" r="0.62" fill="#9fcfd6" stroke="#4b8d97" stroke-width="0.55"/>
<circle cx="400.22" cy="411.46" r="0.62" fill="#9fcfd6" stroke="#4b8d97" stroke-width="0.55"/>
<circle cx="399.19" cy="410.30" r="0.62" fill="#9fcfd6" stroke="#4b8d97" stroke-width="0.55"/>
<circle cx="401.64" cy="419.58" r="0.62" fill="#9fcfd6" stroke="#4b8d97" stroke-width="0.55"/>
<circle cx="397.42" cy="419.50" r="0.62" fill="#9fcfd6" stroke="#4b8d97" stroke-width="0.55"/>
<circle cx="400.22" cy="401.58" r="0.62" fill="#9fcfd6" stroke="#4b8d97" stroke-width="0.55"/>
<circle cx="398.43" cy="400.37" r="0.62" fill="#9fcfd6" stroke="#4b8d97" stroke-width="0.55"/>
<circle cx="398.43" cy="412.12" r="0.62" fill="#9fcfd6" stroke="#4b8d97" stroke-width="0.55"/>
<circle cx="401.64" cy="405.77" r="0.62" fill="#9fcfd6" stroke="#4b8d97" stroke-width="0.55"/>
<circle cx="400.22" cy="414.08" r="0.62" fill="#9fcfd6" stroke="#4b8d97" stroke-width="0.55"/>
<circle cx="402.33" cy="409.77" r="0.62" fill="#9fcfd6" stroke="#4b8d97" stroke-width="0.55"/>
<circle cx="399.19" cy="413.79" r="0.62" fill="#9fcfd6" stroke="#4b8d97" stroke-width="0.55"/>
<circle cx="397.42" cy="420.76" r="0.62" fill="#9fcfd6" stroke="#4b8d97" stroke-width="0.55"/>
<circle cx="398.43" cy="415.32" r="0.62" fill="#9fcfd6" stroke="#4b8d97" stroke-width="0.55"/>
<circle cx="402.33" cy="402.83" r="0.62" fill="#9fcfd6" stroke="#4b8d97" stroke-width="0.55"/>
<circle cx="400.22" cy="416.83" r="0.62" fill="#9fcfd6" stroke="#4b8d97" stroke-width="0.55"/>
<circle cx="400.22" cy="417.46" r="0.62" fill="#9fcfd6" stroke="#4b8d97" stroke-width="0.55"/>
<circle cx="403.57" cy="412.56" r="0.62" fill="#9fcfd6" stroke="#4b8d97" stroke-width="0.55"/>
<circle cx="403.57" cy="398.49" r="0.62" fill="#9fcfd6" stroke="#4b8d97" stroke-width="0.55"/>
<circle cx="403.57" cy="415.87" r="0.62" fill="#9fcfd6" stroke="#4b8d97" stroke-width="0.55"/>
<circle cx="405.01" cy="389.74" r="0.62" fill="#9fcfd6" stroke="#4b8d97" stroke-width="0.55"/>
<circle cx="405.01" cy="403.13" r="0.62" fill="#9fcfd6" stroke="#4b8d97" stroke-width="0.55"/>
<circle cx="405.01" cy="393.91" r="0.62" fill="#9fcfd6" stroke="#4b8d97" stroke-width="0.55"/>
<circle cx="405.01" cy="389.90" r="0.62" fill="#9fcfd6" stroke="#4b8d97" stroke-width="0.55"/>
<circle cx="405.01" cy="404.02" r="0.62" fill="#9fcfd6" stroke="#4b8d97" stroke-width="0.55"/>
<circle cx="403.57" cy="399.86" r="0.62" fill="#9fcfd6" stroke="#4b8d97" stroke-width="0.55"/>
<circle cx="403.57" cy="400.29" r="0.62" fill="#9fcfd6" stroke="#4b8d97" stroke-width="0.55"/>
<circle cx="403.57" cy="418.23" r="0.62" fill="#9fcfd6" stroke="#4b8d97" stroke-width="0.55"/>
<circle cx="405.01" cy="420.71" r="0.62" fill="#9fcfd6" stroke="#4b8d97" stroke-width="0.55"/>
<circle cx="405.01" cy="411.99" r="0.62" fill="#9fcfd6" stroke="#4b8d97" stroke-width="0.55"/>
<circle cx="403.57" cy="417.93" r="0.62" fill="#9fcfd6" stroke="#4b8d97" stroke-width="0.55"/>
<circle cx="405.01" cy="407.72" r="0.62" fill="#9fcfd6" stroke="#4b8d97" stroke-width="0.55"/>
<circle cx="405.01" cy="403.14" r="0.62" fill="#9fcfd6" stroke="#4b8d97" stroke-width="0.55"/>
<circle cx="405.01" cy="392.89" r="0.62" fill="#9fcfd6" stroke="#4b8d97" stroke-width="0.55"/>
<circle cx="405.01" cy="394.69" r="0.62" fill="#9fcfd6" stroke="#4b8d97" stroke-width="0.55"/>
<circle cx="405.01" cy="413.48" r="0.62" fill="#9fcfd6" stroke="#4b8d97" stroke-width="0.55"/>
<circle cx="405.01" cy="395.62" r="0.62" fill="#9fcfd6" stroke="#4b8d97" stroke-width="0.55"/>
<circle cx="403.57" cy="406.84" r="0.62" fill="#9fcfd6" stroke="#4b8d97" stroke-width="0.55"/>
<circle cx="403.57" cy="406.24" r="0.62" fill="#9fcfd6" stroke="#4b8d97" stroke-width="0.55"/>
<circle cx="405.01" cy="414.72" r="0.62" fill="#9fcfd6" stroke="#4b8d97" stroke-width="0.55"/>
<circle cx="403.57" cy="405.49" r="0.62" fill="#9fcfd6" stroke="#4b8d97" stroke-width="0.55"/>
<circle cx="405.01" cy="416.17" r="0.62" fill="#9fcfd6" stroke="#4b8d97" stroke-width="0.55"/>
<circle cx="405.01" cy="399.28" r="0.62" fill="#9fcfd6" stroke="#4b8d97" stroke-width="0.55"/>
<circle cx="405.01" cy="420.10" r="0.62" fill="#9fcfd6" stroke="#4b8d97" stroke-width="0.55"/>
<circle cx="403.57" cy="413.19" r="0.62" fill="#9fcfd6" stroke="#4b8d97" stroke-width="0.55"/>
<circle cx="405.01" cy="418.37" r="0.62" fill="#9fcfd6" stroke="#4b8d97" stroke-width="0.55"/>
<circle cx="405.01" cy="388.46" r="0.62" fill="#9fcfd6" stroke="#4b8d97" stroke-width="0.55"/>
<circle cx="403.57" cy="405.17" r="0.62" fill="#9fcfd6" stroke="#4b8d97" stroke-width="0.55"/>
<circle cx="405.01" cy="384.28" r="0.62" fill="#9fcfd6" stroke="#4b8d97" stroke-width="0.55"/>
<circle cx="405.01" cy="386.63" r="0.62" fill="#9fcfd6" stroke="#4b8d97" stroke-width="0.55"/>
<circle cx="405.01" cy="397.92" r="0.62" fill="#9fcfd6" stroke="#4b8d97" stroke-width="0.55"/>
<circle cx="403.57" cy="411.55" r="0.62" fill="#9fcfd6" stroke="#4b8d97" stroke-width="0.55"/>
<circle cx="403.57" cy="377.87" r="0.62" fill="#9fcfd6" stroke="#4b8d97" stroke-width="0.55"/>
<circle cx="405.01" cy="400.33" r="0.62" fill="#9fcfd6" stroke="#4b8d97" stroke-width="0.55"/>
<circle cx="405.01" cy="416.47" r="0.62" fill="#9fcfd6" stroke="#4b8d97" stroke-width="0.55"/>
<circle cx="403.57" cy="401.07" r="0.62" fill="#9fcfd6" stroke="#4b8d97" stroke-width="0.55"/>
<circle cx="405.01" cy="412.70" r="0.62" fill="#9fcfd6" stroke="#4b8d97" stroke-width="0.55"/>
<circle cx="405.01" cy="402.13" r="0.62" fill="#9fcfd6" stroke="#4b8d97" stroke-width="0.55"/>
<circle cx="405.01" cy="412.41" r="0.62" fill="#9fcfd6" stroke="#4b8d97" stroke-width="0.55"/>
<circle cx="405.01" cy="396.15" r="0.62" fill="#9fcfd6" stroke="#4b8d97" stroke-width="0.55"/>
<circle cx="405.01" cy="403.87" r="0.62" fill="#9fcfd6" stroke="#4b8d97" stroke-width="0.55"/>
<circle cx="405.01" cy="411.71" r="0.62" fill="#9fcfd6" stroke="#4b8d97" stroke-width="0.55"/>
<circle cx="405.01" cy="412.53" r="0.62" fill="#9fcfd6" stroke="#4b8d97" stroke-width="0.55"/>
<circle cx="405.01" cy="417.48" r="0.62" fill="#9fcfd6" stroke="#4b8d97" stroke-width="0.55"/>
<circle cx="405.01" cy="409.15" r="0.62" fill="#9fcfd6" stroke="#4b8d97" stroke-width="0.55"/>
<circle cx="405.01" cy="383.12" r="0.62" fill="#9fcfd6" stroke="#4b8d97" stroke-width="0.55"/>
<circle cx="405.01" cy="391.37" r="0.62" fill="#9fcfd6" stroke="#4b8d97" stroke-width="0.55"/>
<circle cx="405.01" cy="405.92" r="0.62" fill="#9fcfd6" stroke="#4b8d97" stroke-width="0.55"/>
<circle cx="403.57" cy="398.57" r="0.62" fill="#9fcfd6" stroke="#4b8d97" stroke-width="0.55"/>
<circle cx="405.01" cy="419.42" r="0.62" fill="#9fcfd6" stroke="#4b8d97" stroke-width="0.55"/>
<circle cx="405.01" cy="391.40" r="0.62" fill="#9fcfd6" stroke="#4b8d97" stroke-width="0.55"/>
<circle cx="410.24" cy="404.56" r="0.62" fill="#9fcfd6" stroke="#4b8d97" stroke-width="0.55"/>
<circle cx="410.24" cy="416.84" r="0.62" fill="#9fcfd6" stroke="#4b8d97" stroke-width="0.55"/>
<circle cx="410.24" cy="420.85" r="0.62" fill="#9fcfd6" stroke="#4b8d97" stroke-width="0.55"/>
<circle cx="411.79" cy="415.37" r="0.62" fill="#9fcfd6" stroke="#4b8d97" stroke-width="0.55"/>
<circle cx="408.88" cy="411.35" r="0.62" fill="#9fcfd6" stroke="#4b8d97" stroke-width="0.55"/>
<circle cx="408.88" cy="402.52" r="0.62" fill="#9fcfd6" stroke="#4b8d97" stroke-width="0.55"/>
<circle cx="408.88" cy="419.14" r="0.62" fill="#9fcfd6" stroke="#4b8d97" stroke-width="0.55"/>
<circle cx="409.51" cy="411.29" r="0.62" fill="#9fcfd6" stroke="#4b8d97" stroke-width="0.55"/>
<circle cx="409.51" cy="419.28" r="0.62" fill="#9fcfd6" stroke="#4b8d97" stroke-width="0.55"/>
<circle cx="408.88" cy="418.70" r="0.62" fill="#9fcfd6" stroke="#4b8d97" stroke-width="0.55"/>
<circle cx="407.22" cy="398.77" r="0.62" fill="#9fcfd6" stroke="#4b8d97" stroke-width="0.55"/>
<circle cx="407.22" cy="420.61" r="0.62" fill="#9fcfd6" stroke="#4b8d97" stroke-width="0.55"/>
<circle cx="410.24" cy="408.60" r="0.62" fill="#9fcfd6" stroke="#4b8d97" stroke-width="0.55"/>
<circle cx="408.88" cy="419.72" r="0.62" fill="#9fcfd6" stroke="#4b8d97" stroke-width="0.55"/>
<circle cx="408.88" cy="405.25" r="0.62" fill="#9fcfd6" stroke="#4b8d97" stroke-width="0.55"/>
<circle cx="409.51" cy="420.19" r="0.62" fill="#9fcfd6" stroke="#4b8d97" stroke-width="0.55"/>
<circle cx="407.22" cy="398.88" r="0.62" fill="#9fcfd6" stroke="#4b8d97" stroke-width="0.55"/>
<circle cx="408.88" cy="417.82" r="0.62" fill="#9fcfd6" stroke="#4b8d97" stroke-width="0.55"/>
<circle cx="410.24" cy="411.76" r="0.62" fill="#9fcfd6" stroke="#4b8d97" stroke-width="0.55"/>
<circle cx="409.51" cy="417.51" r="0.62" fill="#9fcfd6" stroke="#4b8d97" stroke-width="0.55"/>
<circle cx="406.05" cy="407.90" r="0.62" fill="#9fcfd6" stroke="#4b8d97" stroke-width="0.55"/>
<circle cx="410.24" cy="420.61" r="0.62" fill="#9fcfd6" stroke="#4b8d97" stroke-width="0.55"/>
<circle cx="408.88" cy="413.34" r="0.62" fill="#9fcfd6" stroke="#4b8d97" stroke-width="0.55"/>
<circle cx="411.79" cy="413.93" r="0.62" fill="#9fcfd6" stroke="#4b8d97" stroke-width="0.55"/>
<circle cx="411.79" cy="413.55" r="0.62" fill="#9fcfd6" stroke="#4b8d97" stroke-width="0.55"/>
<circle cx="411.79" cy="416.47" r="0.62" fill="#9fcfd6" stroke="#4b8d97" stroke-width="0.55"/>
<circle cx="410.24" cy="417.09" r="0.62" fill="#9fcfd6" stroke="#4b8d97" stroke-width="0.55"/>
<circle cx="410.24" cy="410.88" r="0.62" fill="#9fcfd6" stroke="#4b8d97" stroke-width="0.55"/>
<circle cx="408.88" cy="404.71" r="0.62" fill="#9fcfd6" stroke="#4b8d97" stroke-width="0.55"/>
<circle cx="408.88" cy="406.14" r="0.62" fill="#9fcfd6" stroke="#4b8d97" stroke-width="0.55"/>
<circle cx="408.88" cy="411.09" r="0.62" fill="#9fcfd6" stroke="#4b8d97" stroke-width="0.55"/>
<circle cx="410.24" cy="408.28" r="0.62" fill="#9fcfd6" stroke="#4b8d97" stroke-width="0.55"/>
<circle cx="408.88" cy="419.77" r="0.62" fill="#9fcfd6" stroke="#4b8d97" stroke-width="0.55"/>
<circle cx="406.05" cy="415.73" r="0.62" fill="#9fcfd6" stroke="#4b8d97" stroke-width="0.55"/>
<circle cx="408.88" cy="417.81" r="0.62" fill="#9fcfd6" stroke="#4b8d97" stroke-width="0.55"/>
<circle cx="411.79" cy="396.75" r="0.62" fill="#9fcfd6" stroke="#4b8d97" stroke-width="0.55"/>
<circle cx="408.88" cy="414.76" r="0.62" fill="#9fcfd6" stroke="#4b8d97" stroke-width="0.55"/>
<circle cx="411.79" cy="410.17" r="0.62" fill="#9fcfd6" stroke="#4b8d97" stroke-width="0.55"/>
<circle cx="411.79" cy="407.64" r="0.62" fill="#9fcfd6" stroke="#4b8d97" stroke-width="0.55"/>
<circle cx="407.22" cy="410.22" r="0.62" fill="#9fcfd6" stroke="#4b8d97" stroke-width="0.55"/>
<circle cx="411.79" cy="408.68" r="0.62" fill="#9fcfd6" stroke="#4b8d97" stroke-width="0.55"/>
<circle cx="410.24" cy="409.65" r="0.62" fill="#9fcfd6" stroke="#4b8d97" stroke-width="0.55"/>
<circle cx="408.88" cy="417.17" r="0.62" fill="#9fcfd6" stroke="#4b8d97" stroke-width="0.55"/>
<circle cx="407.22" cy="417.21" r="0.62" fill="#9fcfd6" stroke="#4b8d97" stroke-width="0.55"/>
<circle cx="406.05" cy="395.73" r="0.62" fill="#9fcfd6" stroke="#4b8d97" stroke-width="0.55"/>
<circle cx="407.22" cy="418.91" r="0.62" fill="#9fcfd6" stroke="#4b8d97" stroke-width="0.55"/>
<circle cx="408.88" cy="418.08" r="0.62" fill="#9fcfd6" stroke="#4b8d97" stroke-width="0.55"/>
<circle cx="407.22" cy="411.44" r="0.62" fill="#9fcfd6" stroke="#4b8d97" stroke-width="0.55"/>
<circle cx="409.51" cy="411.70" r="0.62" fill="#9fcfd6" stroke="#4b8d97" stroke-width="0.55"/>
<circle cx="409.51" cy="419.86" r="0.62" fill="#9fcfd6" stroke="#4b8d97" stroke-width="0.55"/>
<circle cx="411.79" cy="407.76" r="0.62" fill="#9fcfd6" stroke="#4b8d97" stroke-width="0.55"/>
<circle cx="406.05" cy="420.14" r="0.62" fill="#9fcfd6" stroke="#4b8d97" stroke-width="0.55"/>
<circle cx="408.88" cy="416.64" r="0.62" fill="#9fcfd6" stroke="#4b8d97" stroke-width="0.55"/>
<circle cx="410.24" cy="409.56" r="0.62" fill="#9fcfd6" stroke="#4b8d97" stroke-width="0.55"/>
<circle cx="407.22" cy="415.04" r="0.62" fill="#9fcfd6" stroke="#4b8d97" stroke-width="0.55"/>
<circle cx="408.88" cy="412.71" r="0.62" fill="#9fcfd6" stroke="#4b8d97" stroke-width="0.55"/>
<circle cx="410.24" cy="417.13" r="0.62" fill="#9fcfd6" stroke="#4b8d97" stroke-width="0.55"/>
<circle cx="411.79" cy="406.73" r="0.62" fill="#9fcfd6" stroke="#4b8d97" stroke-width="0.55"/>
<circle cx="411.79" cy="417.22" r="0.62" fill="#9fcfd6" stroke="#4b8d97" stroke-width="0.55"/>
<circle cx="408.88" cy="411.49" r="0.62" fill="#9fcfd6" stroke="#4b8d97" stroke-width="0.55"/>
<circle cx="411.79" cy="396.83" r="0.62" fill="#9fcfd6" stroke="#4b8d97" stroke-width="0.55"/>
<circle cx="406.05" cy="420.00" r="0.62" fill="#9fcfd6" stroke="#4b8d97" stroke-width="0.55"/>
<circle cx="406.05" cy="410.03" r="0.62" fill="#9fcfd6" stroke="#4b8d97" stroke-width="0.55"/>
<circle cx="407.22" cy="412.71" r="0.62" fill="#9fcfd6" stroke="#4b8d97" stroke-width="0.55"/>
<circle cx="408.88" cy="405.33" r="0.62" fill="#9fcfd6" stroke="#4b8d97" stroke-width="0.55"/>
<circle cx="406.05" cy="417.23" r="0.62" fill="#9fcfd6" stroke="#4b8d97" stroke-width="0.55"/>
<circle cx="409.51" cy="401.96" r="0.62" fill="#9fcfd6" stroke="#4b8d97" stroke-width="0.55"/>
<circle cx="409.51" cy="414.21" r="0.62" fill="#9fcfd6" stroke="#4b8d97" stroke-width="0.55"/>
<circle cx="406.05" cy="419.39" r="0.62" fill="#9fcfd6" stroke="#4b8d97" stroke-width="0.55"/>
<circle cx="408.88" cy="412.80" r="0.62" fill="#9fcfd6" stroke="#4b8d97" stroke-width="0.55"/>
<circle cx="409.51" cy="418.72" r="0.62" fill="#9fcfd6" stroke="#4b8d97" stroke-width="0.55"/>
<circle cx="408.88" cy="406.06" r="0.62" fill="#9fcfd6" stroke="#4b8d97" stroke-width="0.55"/>
<circle cx="412.19" cy="416.91" r="0.62" fill="#9fcfd6" stroke="#4b8d97" stroke-width="0.55"/>
<circle cx="412.19" cy="402.55" r="0.62" fill="#9fcfd6" stroke="#4b8d97" stroke-width="0.55"/>
<circle cx="412.19" cy="388.72" r="0.62" fill="#9fcfd6" stroke="#4b8d97" stroke-width="0.55"/>
<circle cx="413.18" cy="400.04" r="0.62" fill="#9fcfd6" stroke="#4b8d97" stroke-width="0.55"/>
<circle cx="412.19" cy="393.30" r="0.62" fill="#9fcfd6" stroke="#4b8d97" stroke-width="0.55"/>
<circle cx="412.19" cy="407.14" r="0.62" fill="#9fcfd6" stroke="#4b8d97" stroke-width="0.55"/>
<circle cx="412.19" cy="419.53" r="0.62" fill="#9fcfd6" stroke="#4b8d97" stroke-width="0.55"/>
<circle cx="413.18" cy="418.80" r="0.62" fill="#9fcfd6" stroke="#4b8d97" stroke-width="0.55"/>
<circle cx="412.19" cy="398.84" r="0.62" fill="#9fcfd6" stroke="#4b8d97" stroke-width="0.55"/>
<circle cx="413.18" cy="419.27" r="0.62" fill="#9fcfd6" stroke="#4b8d97" stroke-width="0.55"/>
<circle cx="413.18" cy="413.49" r="0.62" fill="#9fcfd6" stroke="#4b8d97" stroke-width="0.55"/>
<circle cx="412.19" cy="402.61" r="0.62" fill="#9fcfd6" stroke="#4b8d97" stroke-width="0.55"/>
<circle cx="413.18" cy="413.73" r="0.62" fill="#9fcfd6" stroke="#4b8d97" stroke-width="0.55"/>
<circle cx="412.19" cy="420.18" r="0.62" fill="#9fcfd6" stroke="#4b8d97" stroke-width="0.55"/>
<circle cx="412.19" cy="420.21" r="0.62" fill="#9fcfd6" stroke="#4b8d97" stroke-width="0.55"/>
<circle cx="412.19" cy="399.76" r="0.62" fill="#9fcfd6" stroke="#4b8d97" stroke-width="0.55"/>
<circle cx="412.19" cy="410.25" r="0.62" fill="#9fcfd6" stroke="#4b8d97" stroke-width="0.55"/>
<circle cx="412.19" cy="401.70" r="0.62" fill="#9fcfd6" stroke="#4b8d97" stroke-width="0.55"/>
<circle cx="413.18" cy="420.57" r="0.62" fill="#9fcfd6" stroke="#4b8d97" stroke-width="0.55"/>
<circle cx="413.18" cy="417.47" r="0.62" fill="#9fcfd6" stroke="#4b8d97" stroke-width="0.55"/>
<circle cx="412.19" cy="403.12" r="0.62" fill="#9fcfd6" stroke="#4b8d97" stroke-width="0.55"/>
<circle cx="413.18" cy="417.81" r="0.62" fill="#9fcfd6" stroke="#4b8d97" stroke-width="0.55"/>
<circle cx="413.18" cy="389.60" r="0.62" fill="#9fcfd6" stroke="#4b8d97" stroke-width="0.55"/>
<circle cx="412.19" cy="404.65" r="0.62" fill="#9fcfd6" stroke="#4b8d97" stroke-width="0.55"/>
<circle cx="412.19" cy="409.52" r="0.62" fill="#9fcfd6" stroke="#4b8d97" stroke-width="0.55"/>
<circle cx="413.18" cy="402.58" r="0.62" fill="#9fcfd6" stroke="#4b8d97" stroke-width="0.55"/>
<circle cx="412.19" cy="414.40" r="0.62" fill="#9fcfd6" stroke="#4b8d97" stroke-width="0.55"/>
<circle cx="412.19" cy="410.16" r="0.62" fill="#9fcfd6" stroke="#4b8d97" stroke-width="0.55"/>
<circle cx="412.19" cy="404.26" r="0.62" fill="#9fcfd6" stroke="#4b8d97" stroke-width="0.55"/>
<circle cx="412.19" cy="413.99" r="0.62" fill="#9fcfd6" stroke="#4b8d97" stroke-width="0.55"/>
<circle cx="421.10" cy="404.08" r="0.62" fill="#9fcfd6" stroke="#4b8d97" stroke-width="0.55"/>
<circle cx="425.45" cy="408.98" r="0.62" fill="#9fcfd6" stroke="#4b8d97" stroke-width="0.55"/>
<circle cx="414.98" cy="415.50" r="0.62" fill="#9fcfd6" stroke="#4b8d97" stroke-width="0.55"/>
<circle cx="421.10" cy="400.96" r="0.62" fill="#9fcfd6" stroke="#4b8d97" stroke-width="0.55"/>
<circle cx="425.45" cy="404.53" r="0.62" fill="#9fcfd6" stroke="#4b8d97" stroke-width="0.55"/>
<circle cx="418.27" cy="415.40" r="0.62" fill="#9fcfd6" stroke="#4b8d97" stroke-width="0.55"/>
<circle cx="422.48" cy="408.02" r="0.62" fill="#9fcfd6" stroke="#4b8d97" stroke-width="0.55"/>
<circle cx="425.45" cy="417.51" r="0.62" fill="#9fcfd6" stroke="#4b8d97" stroke-width="0.55"/>
<circle cx="422.48" cy="417.59" r="0.62" fill="#9fcfd6" stroke="#4b8d97" stroke-width="0.55"/>
<circle cx="414.98" cy="410.40" r="0.62" fill="#9fcfd6" stroke="#4b8d97" stroke-width="0.55"/>
<circle cx="423.97" cy="409.40" r="0.62" fill="#9fcfd6" stroke="#4b8d97" stroke-width="0.55"/>
<circle cx="425.45" cy="401.14" r="0.62" fill="#9fcfd6" stroke="#4b8d97" stroke-width="0.55"/>
<circle cx="421.10" cy="411.72" r="0.62" fill="#9fcfd6" stroke="#4b8d97" stroke-width="0.55"/>
<circle cx="419.62" cy="414.53" r="0.62" fill="#9fcfd6" stroke="#4b8d97" stroke-width="0.55"/>
<circle cx="414.98" cy="415.25" r="0.62" fill="#9fcfd6" stroke="#4b8d97" stroke-width="0.55"/>
<circle cx="414.98" cy="419.02" r="0.62" fill="#9fcfd6" stroke="#4b8d97" stroke-width="0.55"/>
<circle cx="421.10" cy="414.60" r="0.62" fill="#9fcfd6" stroke="#4b8d97" stroke-width="0.55"/>
<circle cx="423.97" cy="417.13" r="0.62" fill="#9fcfd6" stroke="#4b8d97" stroke-width="0.55"/>
<circle cx="418.27" cy="410.60" r="0.62" fill="#9fcfd6" stroke="#4b8d97" stroke-width="0.55"/>
<circle cx="418.27" cy="415.84" r="0.62" fill="#9fcfd6" stroke="#4b8d97" stroke-width="0.55"/>
<circle cx="422.48" cy="408.76" r="0.62" fill="#9fcfd6" stroke="#4b8d97" stroke-width="0.55"/>
<circle cx="425.45" cy="410.80" r="0.62" fill="#9fcfd6" stroke="#4b8d97" stroke-width="0.55"/>
<circle cx="425.45" cy="402.71" r="0.62" fill="#9fcfd6" stroke="#4b8d97" stroke-width="0.55"/>
<circle cx="418.27" cy="408.83" r="0.62" fill="#9fcfd6" stroke="#4b8d97" stroke-width="0.55"/>
<circle cx="425.45" cy="417.13" r="0.62" fill="#9fcfd6" stroke="#4b8d97" stroke-width="0.55"/>
<circle cx="423.97" cy="417.20" r="0.62" fill="#9fcfd6" stroke="#4b8d97" stroke-width="0.55"/>
<circle cx="419.62" cy="414.51" r="0.62" fill="#9fcfd6" stroke="#4b8d97" stroke-width="0.55"/>
<circle cx="419.62" cy="403.24" r="0.62" fill="#9fcfd6" stroke="#4b8d97" stroke-width="0.55"/>
<circle cx="419.62" cy="416.88" r="0.62" fill="#9fcfd6" stroke="#4b8d97" stroke-width="0.55"/>
<circle cx="419.62" cy="420.64" r="0.62" fill="#9fcfd6" stroke="#4b8d97" stroke-width="0.55"/>
<circle cx="416.66" cy="413.99" r="0.62" fill="#9fcfd6" stroke="#4b8d97" stroke-width="0.55"/>
<circle cx="419.62" cy="420.43" r="0.62" fill="#9fcfd6" stroke="#4b8d97" stroke-width="0.55"/>
<circle cx="414.98" cy="412.80" r="0.62" fill="#9fcfd6" stroke="#4b8d97" stroke-width="0.55"/>
<circle cx="414.98" cy="414.05" r="0.62" fill="#9fcfd6" stroke="#4b8d97" stroke-width="0.55"/>
<circle cx="425.45" cy="412.11" r="0.62" fill="#9fcfd6" stroke="#4b8d97" stroke-width="0.55"/>
<circle cx="421.10" cy="412.91" r="0.62" fill="#9fcfd6" stroke="#4b8d97" stroke-width="0.55"/>
<circle cx="416.66" cy="416.12" r="0.62" fill="#9fcfd6" stroke="#4b8d97" stroke-width="0.55"/>
<circle cx="419.62" cy="416.39" r="0.62" fill="#9fcfd6" stroke="#4b8d97" stroke-width="0.55"/>
<circle cx="419.62" cy="419.69" r="0.62" fill="#9fcfd6" stroke="#4b8d97" stroke-width="0.55"/>
<circle cx="422.48" cy="419.97" r="0.62" fill="#9fcfd6" stroke="#4b8d97" stroke-width="0.55"/>
<circle cx="421.10" cy="409.36" r="0.62" fill="#9fcfd6" stroke="#4b8d97" stroke-width="0.55"/>
<circle cx="425.45" cy="415.22" r="0.62" fill="#9fcfd6" stroke="#4b8d97" stroke-width="0.55"/>
<circle cx="419.62" cy="416.90" r="0.62" fill="#9fcfd6" stroke="#4b8d97" stroke-width="0.55"/>
<circle cx="425.45" cy="415.08" r="0.62" fill="#9fcfd6" stroke="#4b8d97" stroke-width="0.55"/>
<circle cx="423.97" cy="419.85" r="0.62" fill="#9fcfd6" stroke="#4b8d97" stroke-width="0.55"/>
<circle cx="414.98" cy="414.14" r="0.62" fill="#9fcfd6" stroke="#4b8d97" stroke-width="0.55"/>
<circle cx="418.27" cy="411.56" r="0.62" fill="#9fcfd6" stroke="#4b8d97" stroke-width="0.55"/>
<circle cx="422.48" cy="419.71" r="0.62" fill="#9fcfd6" stroke="#4b8d97" stroke-width="0.55"/>
<circle cx="423.97" cy="413.00" r="0.62" fill="#9fcfd6" stroke="#4b8d97" stroke-width="0.55"/>
<circle cx="421.10" cy="418.13" r="0.62" fill="#9fcfd6" stroke="#4b8d97" stroke-width="0.55"/>
<circle cx="419.62" cy="411.23" r="0.62" fill="#9fcfd6" stroke="#4b8d97" stroke-width="0.55"/>
<circle cx="414.98" cy="398.58" r="0.62" fill="#9fcfd6" stroke="#4b8d97" stroke-width="0.55"/>
<circle cx="425.45" cy="417.32" r="0.62" fill="#9fcfd6" stroke="#4b8d97" stroke-width="0.55"/>
<circle cx="414.98" cy="414.38" r="0.62" fill="#9fcfd6" stroke="#4b8d97" stroke-width="0.55"/>
<circle cx="422.48" cy="417.77" r="0.62" fill="#9fcfd6" stroke="#4b8d97" stroke-width="0.55"/>
<circle cx="419.62" cy="414.24" r="0.62" fill="#9fcfd6" stroke="#4b8d97" stroke-width="0.55"/>
<circle cx="419.62" cy="413.99" r="0.62" fill="#9fcfd6" stroke="#4b8d97" stroke-width="0.55"/>
<circle cx="422.48" cy="410.09" r="0.62" fill="#9fcfd6" stroke="#4b8d97" stroke-width="0.55"/>
<circle cx="422.48" cy="413.35" r="0.62" fill="#9fcfd6" stroke="#4b8d97" stroke-width="0.55"/>
<circle cx="421.10" cy="407.18" r="0.62" fill="#9fcfd6" stroke="#4b8d97" stroke-width="0.55"/>
<circle cx="414.98" cy="416.76" r="0.62" fill="#9fcfd6" stroke="#4b8d97" stroke-width="0.55"/>
<circle cx="414.98" cy="419.22" r="0.62" fill="#9fcfd6" stroke="#4b8d97" stroke-width="0.55"/>
<circle cx="414.98" cy="420.60" r="0.62" fill="#9fcfd6" stroke="#4b8d97" stroke-width="0.55"/>
<circle cx="419.62" cy="416.67" r="0.62" fill="#9fcfd6" stroke="#4b8d97" stroke-width="0.55"/>
<circle cx="425.45" cy="420.03" r="0.62" fill="#9fcfd6" stroke="#4b8d97" stroke-width="0.55"/>
<circle cx="425.45" cy="408.83" r="0.62" fill="#9fcfd6" stroke="#4b8d97" stroke-width="0.55"/>
<circle cx="418.27" cy="419.86" r="0.62" fill="#9fcfd6" stroke="#4b8d97" stroke-width="0.55"/>
<circle cx="425.45" cy="415.23" r="0.62" fill="#9fcfd6" stroke="#4b8d97" stroke-width="0.55"/>
<circle cx="416.66" cy="415.58" r="0.62" fill="#9fcfd6" stroke="#4b8d97" stroke-width="0.55"/>
<circle cx="425.45" cy="411.56" r="0.62" fill="#9fcfd6" stroke="#4b8d97" stroke-width="0.55"/>
<circle cx="419.62" cy="420.35" r="0.62" fill="#9fcfd6" stroke="#4b8d97" stroke-width="0.55"/>
<circle cx="425.45" cy="420.12" r="0.62" fill="#9fcfd6" stroke="#4b8d97" stroke-width="0.55"/>
<circle cx="422.48" cy="404.82" r="0.62" fill="#9fcfd6" stroke="#4b8d97" stroke-width="0.55"/>
<circle cx="419.62" cy="414.40" r="0.62" fill="#9fcfd6" stroke="#4b8d97" stroke-width="0.55"/>
<circle cx="419.62" cy="413.61" r="0.62" fill="#9fcfd6" stroke="#4b8d97" stroke-width="0.55"/>
<circle cx="418.27" cy="414.22" r="0.62" fill="#9fcfd6" stroke="#4b8d97" stroke-width="0.55"/>
<circle cx="418.27" cy="414.31" r="0.62" fill="#9fcfd6" stroke="#4b8d97" stroke-width="0.55"/>
<circle cx="423.97" cy="411.00" r="0.62" fill="#9fcfd6" stroke="#4b8d97" stroke-width="0.55"/>
<circle cx="425.45" cy="418.01" r="0.62" fill="#9fcfd6" stroke="#4b8d97" stroke-width="0.55"/>
<circle cx="419.62" cy="407.07" r="0.62" fill="#9fcfd6" stroke="#4b8d97" stroke-width="0.55"/>
<circle cx="425.45" cy="407.25" r="0.62" fill="#9fcfd6" stroke="#4b8d97" stroke-width="0.55"/>
<circle cx="423.97" cy="409.85" r="0.62" fill="#9fcfd6" stroke="#4b8d97" stroke-width="0.55"/>
<circle cx="422.48" cy="413.01" r="0.62" fill="#9fcfd6" stroke="#4b8d97" stroke-width="0.55"/>
<circle cx="418.27" cy="417.26" r="0.62" fill="#9fcfd6" stroke="#4b8d97" stroke-width="0.55"/>
<circle cx="421.10" cy="398.97" r="0.62" fill="#9fcfd6" stroke="#4b8d97" stroke-width="0.55"/>
<circle cx="422.48" cy="408.74" r="0.62" fill="#9fcfd6" stroke="#4b8d97" stroke-width="0.55"/>
<circle cx="416.66" cy="415.63" r="0.62" fill="#9fcfd6" stroke="#4b8d97" stroke-width="0.55"/>
<circle cx="423.97" cy="396.26" r="0.62" fill="#9fcfd6" stroke="#4b8d97" stroke-width="0.55"/>
<circle cx="419.62" cy="414.69" r="0.62" fill="#9fcfd6" stroke="#4b8d97" stroke-width="0.55"/>
<circle cx="422.48" cy="411.51" r="0.62" fill="#9fcfd6" stroke="#4b8d97" stroke-width="0.55"/>
<circle cx="423.97" cy="419.88" r="0.62" fill="#9fcfd6" stroke="#4b8d97" stroke-width="0.55"/>
<circle cx="418.27" cy="416.02" r="0.62" fill="#9fcfd6" stroke="#4b8d97" stroke-width="0.55"/>
<circle cx="419.62" cy="416.67" r="0.62" fill="#9fcfd6" stroke="#4b8d97" stroke-width="0.55"/>
<circle cx="425.45" cy="414.28" r="0.62" fill="#9fcfd6" stroke="#4b8d97" stroke-width="0.55"/>
<circle cx="414.98" cy="401.94" r="0.62" fill="#9fcfd6" stroke="#4b8d97" stroke-width="0.55"/>
<circle cx="419.62" cy="413.38" r="0.62" fill="#9fcfd6" stroke="#4b8d97" stroke-width="0.55"/>
<circle cx="419.62" cy="405.28" r="0.62" fill="#9fcfd6" stroke="#4b8d97" stroke-width="0.55"/>
<circle cx="419.62" cy="417.25" r="0.62" fill="#9fcfd6" stroke="#4b8d97" stroke-width="0.55"/>
<circle cx="422.48" cy="405.93" r="0.62" fill="#9fcfd6" stroke="#4b8d97" stroke-width="0.55"/>
<circle cx="419.62" cy="420.73" r="0.62" fill="#9fcfd6" stroke="#4b8d97" stroke-width="0.55"/>
<circle cx="419.62" cy="406.69" r="0.62" fill="#9fcfd6" stroke="#4b8d97" stroke-width="0.55"/>
<circle cx="419.62" cy="415.97" r="0.62" fill="#9fcfd6" stroke="#4b8d97" stroke-width="0.55"/>
<circle cx="423.97" cy="420.47" r="0.62" fill="#9fcfd6" stroke="#4b8d97" stroke-width="0.55"/>
<circle cx="419.62" cy="417.61" r="0.62" fill="#9fcfd6" stroke="#4b8d97" stroke-width="0.55"/>
<circle cx="418.27" cy="398.87" r="0.62" fill="#9fcfd6" stroke="#4b8d97" stroke-width="0.55"/>
<circle cx="419.62" cy="410.43" r="0.62" fill="#9fcfd6" stroke="#4b8d97" stroke-width="0.55"/>
<circle cx="414.98" cy="418.99" r="0.62" fill="#9fcfd6" stroke="#4b8d97" stroke-width="0.55"/>
<circle cx="421.10" cy="410.37" r="0.62" fill="#9fcfd6" stroke="#4b8d97" stroke-width="0.55"/>
<circle cx="418.27" cy="412.56" r="0.62" fill="#9fcfd6" stroke="#4b8d97" stroke-width="0.55"/>
<circle cx="423.97" cy="416.42" r="0.62" fill="#9fcfd6" stroke="#4b8d97" stroke-width="0.55"/>
<circle cx="419.62" cy="418.42" r="0.62" fill="#9fcfd6" stroke="#4b8d97" stroke-width="0.55"/>
<circle cx="419.62" cy="393.45" r="0.62" fill="#9fcfd6" stroke="#4b8d97" stroke-width="0.55"/>
<circle cx="419.62" cy="415.67" r="0.62" fill="#9fcfd6" stroke="#4b8d97" stroke-width="0.55"/>
<circle cx="425.45" cy="411.67" r="0.62" fill="#9fcfd6" stroke="#4b8d97" stroke-width="0.55"/>
<circle cx="414.98" cy="408.64" r="0.62" fill="#9fcfd6" stroke="#4b8d97" stroke-width="0.55"/>
<circle cx="418.27" cy="415.91" r="0.62" fill="#9fcfd6" stroke="#4b8d97" stroke-width="0.55"/>
<circle cx="423.97" cy="407.89" r="0.62" fill="#9fcfd6" stroke="#4b8d97" stroke-width="0.55"/>
<circle cx="419.62" cy="419.61" r="0.62" fill="#9fcfd6" stroke="#4b8d97" stroke-width="0.55"/>
<circle cx="419.62" cy="412.41" r="0.62" fill="#9fcfd6" stroke="#4b8d97" stroke-width="0.55"/>
<circle cx="414.98" cy="411.51" r="0.62" fill="#9fcfd6" stroke="#4b8d97" stroke-width="0.55"/>
<circle cx="414.98" cy="411.45" r="0.62" fill="#9fcfd6" stroke="#4b8d97" stroke-width="0.55"/>
<circle cx="418.27" cy="406.15" r="0.62" fill="#9fcfd6" stroke="#4b8d97" stroke-width="0.55"/>
<circle cx="418.27" cy="405.71" r="0.62" fill="#9fcfd6" stroke="#4b8d97" stroke-width="0.55"/>
<circle cx="416.66" cy="418.03" r="0.62" fill="#9fcfd6" stroke="#4b8d97" stroke-width="0.55"/>
<circle cx="423.97" cy="418.28" r="0.62" fill="#9fcfd6" stroke="#4b8d97" stroke-width="0.55"/>
<circle cx="422.48" cy="419.92" r="0.62" fill="#9fcfd6" stroke="#4b8d97" stroke-width="0.55"/>
<circle cx="436.21" cy="412.60" r="0.62" fill="#9fcfd6" stroke="#4b8d97" stroke-width="0.55"/>
<circle cx="437.05" cy="418.93" r="0.62" fill="#9fcfd6" stroke="#4b8d97" stroke-width="0.55"/>
<circle cx="430.09" cy="416.93" r="0.62" fill="#9fcfd6" stroke="#4b8d97" stroke-width="0.55"/>
<circle cx="436.21" cy="417.73" r="0.62" fill="#9fcfd6" stroke="#4b8d97" stroke-width="0.55"/>
<circle cx="436.21" cy="406.37" r="0.62" fill="#9fcfd6" stroke="#4b8d97" stroke-width="0.55"/>
<circle cx="430.09" cy="417.47" r="0.62" fill="#9fcfd6" stroke="#4b8d97" stroke-width="0.55"/>
<circle cx="436.21" cy="416.98" r="0.62" fill="#9fcfd6" stroke="#4b8d97" stroke-width="0.55"/>
<circle cx="426.42" cy="420.01" r="0.62" fill="#9fcfd6" stroke="#4b8d97" stroke-width="0.55"/>
<circle cx="436.21" cy="418.44" r="0.62" fill="#9fcfd6" stroke="#4b8d97" stroke-width="0.55"/>
<circle cx="430.09" cy="418.09" r="0.62" fill="#9fcfd6" stroke="#4b8d97" stroke-width="0.55"/>
<circle cx="426.42" cy="419.27" r="0.62" fill="#9fcfd6" stroke="#4b8d97" stroke-width="0.55"/>
<circle cx="430.09" cy="411.22" r="0.62" fill="#9fcfd6" stroke="#4b8d97" stroke-width="0.55"/>
<circle cx="436.21" cy="419.94" r="0.62" fill="#9fcfd6" stroke="#4b8d97" stroke-width="0.55"/>
<circle cx="426.42" cy="419.69" r="0.62" fill="#9fcfd6" stroke="#4b8d97" stroke-width="0.55"/>
<circle cx="436.21" cy="419.99" r="0.62" fill="#9fcfd6" stroke="#4b8d97" stroke-width="0.55"/>
<circle cx="430.09" cy="419.36" r="0.62" fill="#9fcfd6" stroke="#4b8d97" stroke-width="0.55"/>
<circle cx="436.21" cy="410.35" r="0.62" fill="#9fcfd6" stroke="#4b8d97" stroke-width="0.55"/>
<circle cx="430.09" cy="415.08" r="0.62" fill="#9fcfd6" stroke="#4b8d97" stroke-width="0.55"/>
<circle cx="430.93" cy="419.67" r="0.62" fill="#9fcfd6" stroke="#4b8d97" stroke-width="0.55"/>
<circle cx="430.09" cy="417.42" r="0.62" fill="#9fcfd6" stroke="#4b8d97" stroke-width="0.55"/>
<circle cx="430.09" cy="416.69" r="0.62" fill="#9fcfd6" stroke="#4b8d97" stroke-width="0.55"/>
<circle cx="430.09" cy="414.73" r="0.62" fill="#9fcfd6" stroke="#4b8d97" stroke-width="0.55"/>
<circle cx="432.30" cy="420.24" r="0.62" fill="#9fcfd6" stroke="#4b8d97" stroke-width="0.55"/>
<circle cx="430.09" cy="410.36" r="0.62" fill="#9fcfd6" stroke="#4b8d97" stroke-width="0.55"/>
<circle cx="430.09" cy="411.84" r="0.62" fill="#9fcfd6" stroke="#4b8d97" stroke-width="0.55"/>
<circle cx="430.09" cy="415.20" r="0.62" fill="#9fcfd6" stroke="#4b8d97" stroke-width="0.55"/>
<circle cx="436.21" cy="407.02" r="0.62" fill="#9fcfd6" stroke="#4b8d97" stroke-width="0.55"/>
<circle cx="433.67" cy="414.94" r="0.62" fill="#9fcfd6" stroke="#4b8d97" stroke-width="0.55"/>
<circle cx="430.09" cy="411.60" r="0.62" fill="#9fcfd6" stroke="#4b8d97" stroke-width="0.55"/>
<circle cx="430.09" cy="414.33" r="0.62" fill="#9fcfd6" stroke="#4b8d97" stroke-width="0.55"/>
<circle cx="430.09" cy="415.46" r="0.62" fill="#9fcfd6" stroke="#4b8d97" stroke-width="0.55"/>
<circle cx="430.09" cy="408.51" r="0.62" fill="#9fcfd6" stroke="#4b8d97" stroke-width="0.55"/>
<circle cx="436.21" cy="418.27" r="0.62" fill="#9fcfd6" stroke="#4b8d97" stroke-width="0.55"/>
<circle cx="430.09" cy="414.87" r="0.62" fill="#9fcfd6" stroke="#4b8d97" stroke-width="0.55"/>
<circle cx="426.42" cy="420.03" r="0.62" fill="#9fcfd6" stroke="#4b8d97" stroke-width="0.55"/>
<circle cx="436.21" cy="416.60" r="0.62" fill="#9fcfd6" stroke="#4b8d97" stroke-width="0.55"/>
<circle cx="430.09" cy="416.84" r="0.62" fill="#9fcfd6" stroke="#4b8d97" stroke-width="0.55"/>
<circle cx="436.21" cy="415.27" r="0.62" fill="#9fcfd6" stroke="#4b8d97" stroke-width="0.55"/>
<circle cx="436.21" cy="411.55" r="0.62" fill="#9fcfd6" stroke="#4b8d97" stroke-width="0.55"/>
<circle cx="436.21" cy="413.95" r="0.62" fill="#9fcfd6" stroke="#4b8d97" stroke-width="0.55"/>
<circle cx="430.93" cy="418.84" r="0.62" fill="#9fcfd6" stroke="#4b8d97" stroke-width="0.55"/>
<circle cx="436.21" cy="404.91" r="0.62" fill="#9fcfd6" stroke="#4b8d97" stroke-width="0.55"/>
<circle cx="436.21" cy="420.00" r="0.62" fill="#9fcfd6" stroke="#4b8d97" stroke-width="0.55"/>
<circle cx="427.05" cy="420.50" r="0.62" fill="#9fcfd6" stroke="#4b8d97" stroke-width="0.55"/>
<circle cx="430.09" cy="401.81" r="0.62" fill="#9fcfd6" stroke="#4b8d97" stroke-width="0.55"/>
<circle cx="430.09" cy="415.64" r="0.62" fill="#9fcfd6" stroke="#4b8d97" stroke-width="0.55"/>
<circle cx="430.09" cy="407.61" r="0.62" fill="#9fcfd6" stroke="#4b8d97" stroke-width="0.55"/>
<circle cx="439.11" cy="400.71" r="0.62" fill="#9fcfd6" stroke="#4b8d97" stroke-width="0.55"/>
<circle cx="426.42" cy="410.51" r="0.62" fill="#9fcfd6" stroke="#4b8d97" stroke-width="0.55"/>
<circle cx="428.55" cy="413.00" r="0.62" fill="#9fcfd6" stroke="#4b8d97" stroke-width="0.55"/>
<circle cx="427.05" cy="414.32" r="0.62" fill="#9fcfd6" stroke="#4b8d97" stroke-width="0.55"/>
<circle cx="430.93" cy="413.76" r="0.62" fill="#9fcfd6" stroke="#4b8d97" stroke-width="0.55"/>
<circle cx="436.21" cy="418.02" r="0.62" fill="#9fcfd6" stroke="#4b8d97" stroke-width="0.55"/>
<circle cx="432.30" cy="417.03" r="0.62" fill="#9fcfd6" stroke="#4b8d97" stroke-width="0.55"/>
<circle cx="430.09" cy="418.68" r="0.62" fill="#9fcfd6" stroke="#4b8d97" stroke-width="0.55"/>
<circle cx="437.05" cy="418.57" r="0.62" fill="#9fcfd6" stroke="#4b8d97" stroke-width="0.55"/>
<circle cx="430.09" cy="416.42" r="0.62" fill="#9fcfd6" stroke="#4b8d97" stroke-width="0.55"/>
<circle cx="430.09" cy="415.99" r="0.62" fill="#9fcfd6" stroke="#4b8d97" stroke-width="0.55"/>
<circle cx="433.67" cy="412.83" r="0.62" fill="#9fcfd6" stroke="#4b8d97" stroke-width="0.55"/>
<circle cx="426.42" cy="418.91" r="0.62" fill="#9fcfd6" stroke="#4b8d97" stroke-width="0.55"/>
<circle cx="430.09" cy="410.58" r="0.62" fill="#9fcfd6" stroke="#4b8d97" stroke-width="0.55"/>
<circle cx="426.42" cy="420.39" r="0.62" fill="#9fcfd6" stroke="#4b8d97" stroke-width="0.55"/>
<circle cx="438.17" cy="414.43" r="0.62" fill="#9fcfd6" stroke="#4b8d97" stroke-width="0.55"/>
<circle cx="430.93" cy="412.67" r="0.62" fill="#9fcfd6" stroke="#4b8d97" stroke-width="0.55"/>
<circle cx="430.09" cy="414.81" r="0.62" fill="#9fcfd6" stroke="#4b8d97" stroke-width="0.55"/>
<circle cx="436.21" cy="418.92" r="0.62" fill="#9fcfd6" stroke="#4b8d97" stroke-width="0.55"/>
<circle cx="426.42" cy="408.95" r="0.62" fill="#9fcfd6" stroke="#4b8d97" stroke-width="0.55"/>
<circle cx="426.42" cy="419.70" r="0.62" fill="#9fcfd6" stroke="#4b8d97" stroke-width="0.55"/>
<circle cx="430.09" cy="417.11" r="0.62" fill="#9fcfd6" stroke="#4b8d97" stroke-width="0.55"/>
<circle cx="426.42" cy="416.67" r="0.62" fill="#9fcfd6" stroke="#4b8d97" stroke-width="0.55"/>
<circle cx="438.17" cy="413.92" r="0.62" fill="#9fcfd6" stroke="#4b8d97" stroke-width="0.55"/>
<circle cx="430.09" cy="420.08" r="0.62" fill="#9fcfd6" stroke="#4b8d97" stroke-width="0.55"/>
<circle cx="430.09" cy="407.45" r="0.62" fill="#9fcfd6" stroke="#4b8d97" stroke-width="0.55"/>
<circle cx="433.67" cy="408.31" r="0.62" fill="#9fcfd6" stroke="#4b8d97" stroke-width="0.55"/>
<circle cx="426.42" cy="409.77" r="0.62" fill="#9fcfd6" stroke="#4b8d97" stroke-width="0.55"/>
<circle cx="430.93" cy="410.98" r="0.62" fill="#9fcfd6" stroke="#4b8d97" stroke-width="0.55"/>
<circle cx="430.09" cy="411.91" r="0.62" fill="#9fcfd6" stroke="#4b8d97" stroke-width="0.55"/>
<circle cx="436.21" cy="417.56" r="0.62" fill="#9fcfd6" stroke="#4b8d97" stroke-width="0.55"/>
<circle cx="439.11" cy="413.18" r="0.62" fill="#9fcfd6" stroke="#4b8d97" stroke-width="0.55"/>
<circle cx="430.09" cy="417.98" r="0.62" fill="#9fcfd6" stroke="#4b8d97" stroke-width="0.55"/>
<circle cx="434.64" cy="405.13" r="0.62" fill="#9fcfd6" stroke="#4b8d97" stroke-width="0.55"/>
<circle cx="426.42" cy="418.82" r="0.62" fill="#9fcfd6" stroke="#4b8d97" stroke-width="0.55"/>
<circle cx="430.09" cy="416.01" r="0.62" fill="#9fcfd6" stroke="#4b8d97" stroke-width="0.55"/>
<circle cx="436.21" cy="414.75" r="0.62" fill="#9fcfd6" stroke="#4b8d97" stroke-width="0.55"/>
<circle cx="445.25" cy="398.65" r="0.62" fill="#9fcfd6" stroke="#4b8d97" stroke-width="0.55"/>
<circle cx="441.69" cy="405.37" r="0.62" fill="#9fcfd6" stroke="#4b8d97" stroke-width="0.55"/>
<circle cx="442.71" cy="410.69" r="0.62" fill="#9fcfd6" stroke="#4b8d97" stroke-width="0.55"/>
<circle cx="445.25" cy="406.63" r="0.62" fill="#9fcfd6" stroke="#4b8d97" stroke-width="0.55"/>
<circle cx="445.25" cy="420.84" r="0.62" fill="#9fcfd6" stroke="#4b8d97" stroke-width="0.55"/>
<circle cx="444.10" cy="415.90" r="0.62" fill="#9fcfd6" stroke="#4b8d97" stroke-width="0.55"/>
<circle cx="441.69" cy="408.40" r="0.62" fill="#9fcfd6" stroke="#4b8d97" stroke-width="0.55"/>
<circle cx="445.25" cy="415.57" r="0.62" fill="#9fcfd6" stroke="#4b8d97" stroke-width="0.55"/>
<circle cx="445.25" cy="419.74" r="0.62" fill="#9fcfd6" stroke="#4b8d97" stroke-width="0.55"/>
<circle cx="445.25" cy="410.76" r="0.62" fill="#9fcfd6" stroke="#4b8d97" stroke-width="0.55"/>
<circle cx="445.25" cy="411.42" r="0.62" fill="#9fcfd6" stroke="#4b8d97" stroke-width="0.55"/>
<circle cx="445.25" cy="406.07" r="0.62" fill="#9fcfd6" stroke="#4b8d97" stroke-width="0.55"/>
<circle cx="441.69" cy="415.89" r="0.62" fill="#9fcfd6" stroke="#4b8d97" stroke-width="0.55"/>
<circle cx="442.71" cy="418.92" r="0.62" fill="#9fcfd6" stroke="#4b8d97" stroke-width="0.55"/>
<circle cx="445.25" cy="420.40" r="0.62" fill="#9fcfd6" stroke="#4b8d97" stroke-width="0.55"/>
<circle cx="445.25" cy="418.66" r="0.62" fill="#9fcfd6" stroke="#4b8d97" stroke-width="0.55"/>
<circle cx="445.25" cy="419.53" r="0.62" fill="#9fcfd6" stroke="#4b8d97" stroke-width="0.55"/>
<circle cx="445.25" cy="418.88" r="0.62" fill="#9fcfd6" stroke="#4b8d97" stroke-width="0.55"/>
<circle cx="441.69" cy="419.71" r="0.62" fill="#9fcfd6" stroke="#4b8d97" stroke-width="0.55"/>
<circle cx="445.25" cy="419.39" r="0.62" fill="#9fcfd6" stroke="#4b8d97" stroke-width="0.55"/>
<circle cx="442.71" cy="417.07" r="0.62" fill="#9fcfd6" stroke="#4b8d97" stroke-width="0.55"/>
<circle cx="445.25" cy="418.37" r="0.62" fill="#9fcfd6" stroke="#4b8d97" stroke-width="0.55"/>
<circle cx="445.25" cy="416.45" r="0.62" fill="#9fcfd6" stroke="#4b8d97" stroke-width="0.55"/>
<circle cx="445.25" cy="414.48" r="0.62" fill="#9fcfd6" stroke="#4b8d97" stroke-width="0.55"/>
<circle cx="445.25" cy="412.12" r="0.62" fill="#9fcfd6" stroke="#4b8d97" stroke-width="0.55"/>
<circle cx="445.25" cy="418.52" r="0.62" fill="#9fcfd6" stroke="#4b8d97" stroke-width="0.55"/>
<circle cx="445.25" cy="420.49" r="0.62" fill="#9fcfd6" stroke="#4b8d97" stroke-width="0.55"/>
<circle cx="442.71" cy="420.28" r="0.62" fill="#9fcfd6" stroke="#4b8d97" stroke-width="0.55"/>
<circle cx="445.25" cy="419.89" r="0.62" fill="#9fcfd6" stroke="#4b8d97" stroke-width="0.55"/>
<circle cx="445.25" cy="412.73" r="0.62" fill="#9fcfd6" stroke="#4b8d97" stroke-width="0.55"/>
<circle cx="445.91" cy="414.32" r="0.62" fill="#9fcfd6" stroke="#4b8d97" stroke-width="0.55"/>
<circle cx="441.69" cy="411.12" r="0.62" fill="#9fcfd6" stroke="#4b8d97" stroke-width="0.55"/>
<circle cx="445.25" cy="412.10" r="0.62" fill="#9fcfd6" stroke="#4b8d97" stroke-width="0.55"/>
<circle cx="445.25" cy="418.85" r="0.62" fill="#9fcfd6" stroke="#4b8d97" stroke-width="0.55"/>
<circle cx="445.25" cy="419.55" r="0.62" fill="#9fcfd6" stroke="#4b8d97" stroke-width="0.55"/>
<circle cx="445.25" cy="420.85" r="0.62" fill="#9fcfd6" stroke="#4b8d97" stroke-width="0.55"/>
<circle cx="445.25" cy="406.23" r="0.62" fill="#9fcfd6" stroke="#4b8d97" stroke-width="0.55"/>
<circle cx="445.25" cy="417.59" r="0.62" fill="#9fcfd6" stroke="#4b8d97" stroke-width="0.55"/>
<circle cx="445.25" cy="413.19" r="0.62" fill="#9fcfd6" stroke="#4b8d97" stroke-width="0.55"/>
<circle cx="445.25" cy="403.14" r="0.62" fill="#9fcfd6" stroke="#4b8d97" stroke-width="0.55"/>
<circle cx="445.25" cy="405.69" r="0.62" fill="#9fcfd6" stroke="#4b8d97" stroke-width="0.55"/>
<circle cx="445.25" cy="413.49" r="0.62" fill="#9fcfd6" stroke="#4b8d97" stroke-width="0.55"/>
<circle cx="445.91" cy="412.18" r="0.62" fill="#9fcfd6" stroke="#4b8d97" stroke-width="0.55"/>
<circle cx="445.25" cy="405.33" r="0.62" fill="#9fcfd6" stroke="#4b8d97" stroke-width="0.55"/>
<circle cx="445.91" cy="412.69" r="0.62" fill="#9fcfd6" stroke="#4b8d97" stroke-width="0.55"/>
<circle cx="445.25" cy="409.03" r="0.62" fill="#9fcfd6" stroke="#4b8d97" stroke-width="0.55"/>
<circle cx="441.69" cy="403.24" r="0.62" fill="#9fcfd6" stroke="#4b8d97" stroke-width="0.55"/>
<circle cx="445.25" cy="416.79" r="0.62" fill="#9fcfd6" stroke="#4b8d97" stroke-width="0.55"/>
<circle cx="447.64" cy="416.40" r="0.62" fill="#9fcfd6" stroke="#4b8d97" stroke-width="0.55"/>
<circle cx="448.93" cy="404.15" r="0.62" fill="#9fcfd6" stroke="#4b8d97" stroke-width="0.55"/>
<circle cx="447.64" cy="419.49" r="0.62" fill="#9fcfd6" stroke="#4b8d97" stroke-width="0.55"/>
<circle cx="447.64" cy="405.42" r="0.62" fill="#9fcfd6" stroke="#4b8d97" stroke-width="0.55"/>
<circle cx="446.97" cy="382.03" r="0.62" fill="#9fcfd6" stroke="#4b8d97" stroke-width="0.55"/>
<circle cx="447.64" cy="420.33" r="0.62" fill="#9fcfd6" stroke="#4b8d97" stroke-width="0.55"/>
<circle cx="446.97" cy="420.02" r="0.62" fill="#9fcfd6" stroke="#4b8d97" stroke-width="0.55"/>
<circle cx="446.97" cy="412.73" r="0.62" fill="#9fcfd6" stroke="#4b8d97" stroke-width="0.55"/>
<circle cx="448.93" cy="405.67" r="0.62" fill="#9fcfd6" stroke="#4b8d97" stroke-width="0.55"/>
<circle cx="447.64" cy="389.59" r="0.62" fill="#9fcfd6" stroke="#4b8d97" stroke-width="0.55"/>
<circle cx="446.97" cy="407.28" r="0.62" fill="#9fcfd6" stroke="#4b8d97" stroke-width="0.55"/>
<circle cx="447.64" cy="413.62" r="0.62" fill="#9fcfd6" stroke="#4b8d97" stroke-width="0.55"/>
<circle cx="448.93" cy="379.13" r="0.62" fill="#9fcfd6" stroke="#4b8d97" stroke-width="0.55"/>
<circle cx="447.64" cy="411.94" r="0.62" fill="#9fcfd6" stroke="#4b8d97" stroke-width="0.55"/>
<circle cx="447.64" cy="401.16" r="0.62" fill="#9fcfd6" stroke="#4b8d97" stroke-width="0.55"/>
<circle cx="448.93" cy="389.06" r="0.62" fill="#9fcfd6" stroke="#4b8d97" stroke-width="0.55"/>
<circle cx="446.97" cy="413.33" r="0.62" fill="#9fcfd6" stroke="#4b8d97" stroke-width="0.55"/>
<circle cx="448.93" cy="406.71" r="0.62" fill="#9fcfd6" stroke="#4b8d97" stroke-width="0.55"/>
<circle cx="447.64" cy="417.87" r="0.62" fill="#9fcfd6" stroke="#4b8d97" stroke-width="0.55"/>
<circle cx="446.97" cy="399.20" r="0.62" fill="#9fcfd6" stroke="#4b8d97" stroke-width="0.55"/>
<circle cx="446.97" cy="415.98" r="0.62" fill="#9fcfd6" stroke="#4b8d97" stroke-width="0.55"/>
<circle cx="448.93" cy="391.94" r="0.62" fill="#9fcfd6" stroke="#4b8d97" stroke-width="0.55"/>
<circle cx="448.93" cy="406.73" r="0.62" fill="#9fcfd6" stroke="#4b8d97" stroke-width="0.55"/>
<circle cx="446.97" cy="416.14" r="0.62" fill="#9fcfd6" stroke="#4b8d97" stroke-width="0.55"/>
<circle cx="447.64" cy="417.51" r="0.62" fill="#9fcfd6" stroke="#4b8d97" stroke-width="0.55"/>
<circle cx="448.93" cy="409.93" r="0.62" fill="#9fcfd6" stroke="#4b8d97" stroke-width="0.55"/>
<circle cx="448.93" cy="396.10" r="0.62" fill="#9fcfd6" stroke="#4b8d97" stroke-width="0.55"/>
<circle cx="447.64" cy="397.52" r="0.62" fill="#9fcfd6" stroke="#4b8d97" stroke-width="0.55"/>
<circle cx="446.97" cy="400.81" r="0.62" fill="#9fcfd6" stroke="#4b8d97" stroke-width="0.55"/>
<circle cx="446.97" cy="408.33" r="0.62" fill="#9fcfd6" stroke="#4b8d97" stroke-width="0.55"/>
<circle cx="446.97" cy="418.50" r="0.62" fill="#9fcfd6" stroke="#4b8d97" stroke-width="0.55"/>
<circle cx="447.64" cy="400.61" r="0.62" fill="#9fcfd6" stroke="#4b8d97" stroke-width="0.55"/>
<circle cx="448.93" cy="399.80" r="0.62" fill="#9fcfd6" stroke="#4b8d97" stroke-width="0.55"/>
<circle cx="447.64" cy="397.55" r="0.62" fill="#9fcfd6" stroke="#4b8d97" stroke-width="0.55"/>
<circle cx="447.64" cy="398.88" r="0.62" fill="#9fcfd6" stroke="#4b8d97" stroke-width="0.55"/>
<circle cx="448.93" cy="394.10" r="0.62" fill="#9fcfd6" stroke="#4b8d97" stroke-width="0.55"/>
<circle cx="448.93" cy="411.40" r="0.62" fill="#9fcfd6" stroke="#4b8d97" stroke-width="0.55"/>
<circle cx="447.64" cy="403.41" r="0.62" fill="#9fcfd6" stroke="#4b8d97" stroke-width="0.55"/>
<circle cx="448.93" cy="418.09" r="0.62" fill="#9fcfd6" stroke="#4b8d97" stroke-width="0.55"/>
<circle cx="447.64" cy="417.77" r="0.62" fill="#9fcfd6" stroke="#4b8d97" stroke-width="0.55"/>
<circle cx="447.64" cy="420.25" r="0.62" fill="#9fcfd6" stroke="#4b8d97" stroke-width="0.55"/>
<circle cx="446.97" cy="400.26" r="0.62" fill="#9fcfd6" stroke="#4b8d97" stroke-width="0.55"/>
<circle cx="447.64" cy="405.59" r="0.62" fill="#9fcfd6" stroke="#4b8d97" stroke-width="0.55"/>
<circle cx="446.97" cy="400.97" r="0.62" fill="#9fcfd6" stroke="#4b8d97" stroke-width="0.55"/>
<circle cx="447.64" cy="399.26" r="0.62" fill="#9fcfd6" stroke="#4b8d97" stroke-width="0.55"/>
<circle cx="448.93" cy="416.15" r="0.62" fill="#9fcfd6" stroke="#4b8d97" stroke-width="0.55"/>
<circle cx="447.64" cy="403.72" r="0.62" fill="#9fcfd6" stroke="#4b8d97" stroke-width="0.55"/>
<circle cx="447.64" cy="413.71" r="0.62" fill="#9fcfd6" stroke="#4b8d97" stroke-width="0.55"/>
<circle cx="448.93" cy="400.57" r="0.62" fill="#9fcfd6" stroke="#4b8d97" stroke-width="0.55"/>
<circle cx="447.64" cy="401.18" r="0.62" fill="#9fcfd6" stroke="#4b8d97" stroke-width="0.55"/>
<circle cx="447.64" cy="406.18" r="0.62" fill="#9fcfd6" stroke="#4b8d97" stroke-width="0.55"/>
<circle cx="448.93" cy="400.07" r="0.62" fill="#9fcfd6" stroke="#4b8d97" stroke-width="0.55"/>
<circle cx="446.97" cy="414.64" r="0.62" fill="#9fcfd6" stroke="#4b8d97" stroke-width="0.55"/>
<circle cx="447.64" cy="413.73" r="0.62" fill="#9fcfd6" stroke="#4b8d97" stroke-width="0.55"/>
<circle cx="447.64" cy="410.96" r="0.62" fill="#9fcfd6" stroke="#4b8d97" stroke-width="0.55"/>
<circle cx="447.64" cy="418.88" r="0.62" fill="#9fcfd6" stroke="#4b8d97" stroke-width="0.55"/>
<circle cx="446.97" cy="397.65" r="0.62" fill="#9fcfd6" stroke="#4b8d97" stroke-width="0.55"/>
<circle cx="447.64" cy="409.50" r="0.62" fill="#9fcfd6" stroke="#4b8d97" stroke-width="0.55"/>
<circle cx="446.97" cy="411.26" r="0.62" fill="#9fcfd6" stroke="#4b8d97" stroke-width="0.55"/>
<circle cx="448.93" cy="409.49" r="0.62" fill="#9fcfd6" stroke="#4b8d97" stroke-width="0.55"/>
<circle cx="446.97" cy="419.65" r="0.62" fill="#9fcfd6" stroke="#4b8d97" stroke-width="0.55"/>
<circle cx="448.93" cy="420.83" r="0.62" fill="#9fcfd6" stroke="#4b8d97" stroke-width="0.55"/>
<circle cx="447.64" cy="413.03" r="0.62" fill="#9fcfd6" stroke="#4b8d97" stroke-width="0.55"/>
<circle cx="446.97" cy="393.25" r="0.62" fill="#9fcfd6" stroke="#4b8d97" stroke-width="0.55"/>
<circle cx="446.97" cy="411.10" r="0.62" fill="#9fcfd6" stroke="#4b8d97" stroke-width="0.55"/>
<circle cx="448.93" cy="414.76" r="0.62" fill="#9fcfd6" stroke="#4b8d97" stroke-width="0.55"/>
<circle cx="457.65" cy="416.52" r="0.62" fill="#9fcfd6" stroke="#4b8d97" stroke-width="0.55"/>
<circle cx="455.35" cy="414.64" r="0.62" fill="#9fcfd6" stroke="#4b8d97" stroke-width="0.55"/>
<circle cx="457.65" cy="407.71" r="0.62" fill="#9fcfd6" stroke="#4b8d97" stroke-width="0.55"/>
<circle cx="457.65" cy="410.47" r="0.62" fill="#9fcfd6" stroke="#4b8d97" stroke-width="0.55"/>
<circle cx="450.69" cy="418.15" r="0.62" fill="#9fcfd6" stroke="#4b8d97" stroke-width="0.55"/>
<circle cx="453.76" cy="403.60" r="0.62" fill="#9fcfd6" stroke="#4b8d97" stroke-width="0.55"/>
<circle cx="452.65" cy="415.26" r="0.62" fill="#9fcfd6" stroke="#4b8d97" stroke-width="0.55"/>
<circle cx="453.76" cy="418.60" r="0.62" fill="#9fcfd6" stroke="#4b8d97" stroke-width="0.55"/>
<circle cx="457.65" cy="415.85" r="0.62" fill="#9fcfd6" stroke="#4b8d97" stroke-width="0.55"/>
<circle cx="457.65" cy="415.96" r="0.62" fill="#9fcfd6" stroke="#4b8d97" stroke-width="0.55"/>
<circle cx="456.82" cy="412.77" r="0.62" fill="#9fcfd6" stroke="#4b8d97" stroke-width="0.55"/>
<circle cx="456.82" cy="416.44" r="0.62" fill="#9fcfd6" stroke="#4b8d97" stroke-width="0.55"/>
<circle cx="449.97" cy="419.84" r="0.62" fill="#9fcfd6" stroke="#4b8d97" stroke-width="0.55"/>
<circle cx="450.69" cy="415.96" r="0.62" fill="#9fcfd6" stroke="#4b8d97" stroke-width="0.55"/>
<circle cx="455.35" cy="411.44" r="0.62" fill="#9fcfd6" stroke="#4b8d97" stroke-width="0.55"/>
<circle cx="452.65" cy="417.03" r="0.62" fill="#9fcfd6" stroke="#4b8d97" stroke-width="0.55"/>
<circle cx="457.65" cy="416.73" r="0.62" fill="#9fcfd6" stroke="#4b8d97" stroke-width="0.55"/>
<circle cx="455.35" cy="411.11" r="0.62" fill="#9fcfd6" stroke="#4b8d97" stroke-width="0.55"/>
<circle cx="455.35" cy="410.65" r="0.62" fill="#9fcfd6" stroke="#4b8d97" stroke-width="0.55"/>
<circle cx="455.35" cy="419.32" r="0.62" fill="#9fcfd6" stroke="#4b8d97" stroke-width="0.55"/>
<circle cx="457.65" cy="408.54" r="0.62" fill="#9fcfd6" stroke="#4b8d97" stroke-width="0.55"/>
<circle cx="457.65" cy="409.94" r="0.62" fill="#9fcfd6" stroke="#4b8d97" stroke-width="0.55"/>
<circle cx="452.65" cy="413.61" r="0.62" fill="#9fcfd6" stroke="#4b8d97" stroke-width="0.55"/>
<circle cx="452.65" cy="412.14" r="0.62" fill="#9fcfd6" stroke="#4b8d97" stroke-width="0.55"/>
<circle cx="452.65" cy="411.11" r="0.62" fill="#9fcfd6" stroke="#4b8d97" stroke-width="0.55"/>
<circle cx="452.65" cy="411.57" r="0.62" fill="#9fcfd6" stroke="#4b8d97" stroke-width="0.55"/>
<circle cx="456.82" cy="407.51" r="0.62" fill="#9fcfd6" stroke="#4b8d97" stroke-width="0.55"/>
<circle cx="457.65" cy="411.05" r="0.62" fill="#9fcfd6" stroke="#4b8d97" stroke-width="0.55"/>
<circle cx="452.65" cy="412.33" r="0.62" fill="#9fcfd6" stroke="#4b8d97" stroke-width="0.55"/>
<circle cx="452.65" cy="407.77" r="0.62" fill="#9fcfd6" stroke="#4b8d97" stroke-width="0.55"/>
<circle cx="457.65" cy="411.27" r="0.62" fill="#9fcfd6" stroke="#4b8d97" stroke-width="0.55"/>
<circle cx="452.65" cy="417.60" r="0.62" fill="#9fcfd6" stroke="#4b8d97" stroke-width="0.55"/>
<circle cx="450.69" cy="417.74" r="0.62" fill="#9fcfd6" stroke="#4b8d97" stroke-width="0.55"/>
<circle cx="455.35" cy="417.91" r="0.62" fill="#9fcfd6" stroke="#4b8d97" stroke-width="0.55"/>
<circle cx="452.65" cy="418.49" r="0.62" fill="#9fcfd6" stroke="#4b8d97" stroke-width="0.55"/>
<circle cx="457.65" cy="418.06" r="0.62" fill="#9fcfd6" stroke="#4b8d97" stroke-width="0.55"/>
<circle cx="452.65" cy="402.48" r="0.62" fill="#9fcfd6" stroke="#4b8d97" stroke-width="0.55"/>
<circle cx="452.65" cy="418.62" r="0.62" fill="#9fcfd6" stroke="#4b8d97" stroke-width="0.55"/>
<circle cx="452.65" cy="413.69" r="0.62" fill="#9fcfd6" stroke="#4b8d97" stroke-width="0.55"/>
<circle cx="452.65" cy="420.58" r="0.62" fill="#9fcfd6" stroke="#4b8d97" stroke-width="0.55"/>
<circle cx="455.35" cy="418.64" r="0.62" fill="#9fcfd6" stroke="#4b8d97" stroke-width="0.55"/>
<circle cx="457.65" cy="418.15" r="0.62" fill="#9fcfd6" stroke="#4b8d97" stroke-width="0.55"/>
<circle cx="450.69" cy="415.62" r="0.62" fill="#9fcfd6" stroke="#4b8d97" stroke-width="0.55"/>
<circle cx="449.97" cy="417.64" r="0.62" fill="#9fcfd6" stroke="#4b8d97" stroke-width="0.55"/>
<circle cx="449.97" cy="408.96" r="0.62" fill="#9fcfd6" stroke="#4b8d97" stroke-width="0.55"/>
<circle cx="452.65" cy="414.39" r="0.62" fill="#9fcfd6" stroke="#4b8d97" stroke-width="0.55"/>
<circle cx="449.97" cy="416.24" r="0.62" fill="#9fcfd6" stroke="#4b8d97" stroke-width="0.55"/>
<circle cx="452.65" cy="406.15" r="0.62" fill="#9fcfd6" stroke="#4b8d97" stroke-width="0.55"/>
<circle cx="452.65" cy="401.54" r="0.62" fill="#9fcfd6" stroke="#4b8d97" stroke-width="0.55"/>
<circle cx="457.65" cy="412.86" r="0.62" fill="#9fcfd6" stroke="#4b8d97" stroke-width="0.55"/>
<circle cx="450.69" cy="412.13" r="0.62" fill="#9fcfd6" stroke="#4b8d97" stroke-width="0.55"/>
<circle cx="457.65" cy="411.10" r="0.62" fill="#9fcfd6" stroke="#4b8d97" stroke-width="0.55"/>
<circle cx="450.69" cy="414.65" r="0.62" fill="#9fcfd6" stroke="#4b8d97" stroke-width="0.55"/>
<circle cx="449.97" cy="416.39" r="0.62" fill="#9fcfd6" stroke="#4b8d97" stroke-width="0.55"/>
<circle cx="457.65" cy="418.05" r="0.62" fill="#9fcfd6" stroke="#4b8d97" stroke-width="0.55"/>
<circle cx="455.35" cy="402.73" r="0.62" fill="#9fcfd6" stroke="#4b8d97" stroke-width="0.55"/>
<circle cx="457.65" cy="407.19" r="0.62" fill="#9fcfd6" stroke="#4b8d97" stroke-width="0.55"/>
<circle cx="455.35" cy="405.36" r="0.62" fill="#9fcfd6" stroke="#4b8d97" stroke-width="0.55"/>
<circle cx="455.35" cy="418.21" r="0.62" fill="#9fcfd6" stroke="#4b8d97" stroke-width="0.55"/>
<circle cx="450.69" cy="411.66" r="0.62" fill="#9fcfd6" stroke="#4b8d97" stroke-width="0.55"/>
<circle cx="453.76" cy="419.11" r="0.62" fill="#9fcfd6" stroke="#4b8d97" stroke-width="0.55"/>
<circle cx="456.82" cy="416.47" r="0.62" fill="#9fcfd6" stroke="#4b8d97" stroke-width="0.55"/>
<circle cx="457.65" cy="409.94" r="0.62" fill="#9fcfd6" stroke="#4b8d97" stroke-width="0.55"/>
<circle cx="457.65" cy="416.62" r="0.62" fill="#9fcfd6" stroke="#4b8d97" stroke-width="0.55"/>
<circle cx="449.97" cy="418.08" r="0.62" fill="#9fcfd6" stroke="#4b8d97" stroke-width="0.55"/>
<circle cx="450.69" cy="413.32" r="0.62" fill="#9fcfd6" stroke="#4b8d97" stroke-width="0.55"/>
<circle cx="452.65" cy="418.88" r="0.62" fill="#9fcfd6" stroke="#4b8d97" stroke-width="0.55"/>
<circle cx="452.65" cy="414.12" r="0.62" fill="#9fcfd6" stroke="#4b8d97" stroke-width="0.55"/>
<circle cx="460.96" cy="419.35" r="0.62" fill="#9fcfd6" stroke="#4b8d97" stroke-width="0.55"/>
<circle cx="462.45" cy="420.54" r="0.62" fill="#9fcfd6" stroke="#4b8d97" stroke-width="0.55"/>
<circle cx="459.43" cy="413.71" r="0.62" fill="#9fcfd6" stroke="#4b8d97" stroke-width="0.55"/>
<circle cx="459.43" cy="418.96" r="0.62" fill="#9fcfd6" stroke="#4b8d97" stroke-width="0.55"/>
<circle cx="463.05" cy="415.29" r="0.62" fill="#9fcfd6" stroke="#4b8d97" stroke-width="0.55"/>
<circle cx="458.47" cy="411.83" r="0.62" fill="#9fcfd6" stroke="#4b8d97" stroke-width="0.55"/>
<circle cx="460.96" cy="420.14" r="0.62" fill="#9fcfd6" stroke="#4b8d97" stroke-width="0.55"/>
<circle cx="459.43" cy="414.85" r="0.62" fill="#9fcfd6" stroke="#4b8d97" stroke-width="0.55"/>
<circle cx="459.43" cy="409.22" r="0.62" fill="#9fcfd6" stroke="#4b8d97" stroke-width="0.55"/>
<circle cx="464.25" cy="416.21" r="0.62" fill="#9fcfd6" stroke="#4b8d97" stroke-width="0.55"/>
<circle cx="460.96" cy="410.64" r="0.62" fill="#9fcfd6" stroke="#4b8d97" stroke-width="0.55"/>
<circle cx="459.43" cy="419.10" r="0.62" fill="#9fcfd6" stroke="#4b8d97" stroke-width="0.55"/>
<circle cx="469.26" cy="417.89" r="0.62" fill="#9fcfd6" stroke="#4b8d97" stroke-width="0.55"/>
<circle cx="469.26" cy="416.00" r="0.62" fill="#9fcfd6" stroke="#4b8d97" stroke-width="0.55"/>
<circle cx="468.14" cy="418.84" r="0.62" fill="#9fcfd6" stroke="#4b8d97" stroke-width="0.55"/>
<circle cx="468.14" cy="413.90" r="0.62" fill="#9fcfd6" stroke="#4b8d97" stroke-width="0.55"/>
<circle cx="469.26" cy="418.85" r="0.62" fill="#9fcfd6" stroke="#4b8d97" stroke-width="0.55"/>
<circle cx="468.14" cy="418.43" r="0.62" fill="#9fcfd6" stroke="#4b8d97" stroke-width="0.55"/>
<circle cx="474.03" cy="417.87" r="0.62" fill="#9fcfd6" stroke="#4b8d97" stroke-width="0.55"/>
<circle cx="474.03" cy="399.70" r="0.62" fill="#9fcfd6" stroke="#4b8d97" stroke-width="0.55"/>
<circle cx="474.03" cy="407.37" r="0.62" fill="#9fcfd6" stroke="#4b8d97" stroke-width="0.55"/>
<circle cx="474.03" cy="419.06" r="0.62" fill="#9fcfd6" stroke="#4b8d97" stroke-width="0.55"/>
<circle cx="476.05" cy="419.46" r="0.62" fill="#9fcfd6" stroke="#4b8d97" stroke-width="0.55"/>
<circle cx="474.03" cy="417.09" r="0.62" fill="#9fcfd6" stroke="#4b8d97" stroke-width="0.55"/>
<circle cx="474.03" cy="397.95" r="0.62" fill="#9fcfd6" stroke="#4b8d97" stroke-width="0.55"/>
<circle cx="474.03" cy="411.89" r="0.62" fill="#9fcfd6" stroke="#4b8d97" stroke-width="0.55"/>
<circle cx="476.05" cy="400.26" r="0.62" fill="#9fcfd6" stroke="#4b8d97" stroke-width="0.55"/>
<circle cx="474.03" cy="409.13" r="0.62" fill="#9fcfd6" stroke="#4b8d97" stroke-width="0.55"/>
<circle cx="475.05" cy="417.21" r="0.62" fill="#9fcfd6" stroke="#4b8d97" stroke-width="0.55"/>
<circle cx="476.05" cy="419.11" r="0.62" fill="#9fcfd6" stroke="#4b8d97" stroke-width="0.55"/>
<circle cx="477.37" cy="396.98" r="0.62" fill="#9fcfd6" stroke="#4b8d97" stroke-width="0.55"/>
<circle cx="475.05" cy="390.91" r="0.62" fill="#9fcfd6" stroke="#4b8d97" stroke-width="0.55"/>
<circle cx="474.03" cy="413.01" r="0.62" fill="#9fcfd6" stroke="#4b8d97" stroke-width="0.55"/>
<circle cx="477.37" cy="413.61" r="0.62" fill="#9fcfd6" stroke="#4b8d97" stroke-width="0.55"/>
<circle cx="474.03" cy="398.27" r="0.62" fill="#9fcfd6" stroke="#4b8d97" stroke-width="0.55"/>
<circle cx="474.03" cy="397.40" r="0.62" fill="#9fcfd6" stroke="#4b8d97" stroke-width="0.55"/>
<circle cx="475.05" cy="411.94" r="0.62" fill="#9fcfd6" stroke="#4b8d97" stroke-width="0.55"/>
<circle cx="474.03" cy="399.80" r="0.62" fill="#9fcfd6" stroke="#4b8d97" stroke-width="0.55"/>
<circle cx="475.05" cy="405.12" r="0.62" fill="#9fcfd6" stroke="#4b8d97" stroke-width="0.55"/>
<circle cx="474.03" cy="418.44" r="0.62" fill="#9fcfd6" stroke="#4b8d97" stroke-width="0.55"/>
<circle cx="474.03" cy="410.22" r="0.62" fill="#9fcfd6" stroke="#4b8d97" stroke-width="0.55"/>
<circle cx="477.37" cy="400.77" r="0.62" fill="#9fcfd6" stroke="#4b8d97" stroke-width="0.55"/>
<circle cx="474.03" cy="407.20" r="0.62" fill="#9fcfd6" stroke="#4b8d97" stroke-width="0.55"/>
<circle cx="474.03" cy="419.46" r="0.62" fill="#9fcfd6" stroke="#4b8d97" stroke-width="0.55"/>
<circle cx="474.03" cy="408.97" r="0.62" fill="#9fcfd6" stroke="#4b8d97" stroke-width="0.55"/>
<circle cx="474.03" cy="408.01" r="0.62" fill="#9fcfd6" stroke="#4b8d97" stroke-width="0.55"/>
<circle cx="475.05" cy="416.62" r="0.62" fill="#9fcfd6" stroke="#4b8d97" stroke-width="0.55"/>
<circle cx="474.03" cy="410.88" r="0.62" fill="#9fcfd6" stroke="#4b8d97" stroke-width="0.55"/>
<circle cx="474.03" cy="416.54" r="0.62" fill="#9fcfd6" stroke="#4b8d97" stroke-width="0.55"/>
<circle cx="475.05" cy="413.04" r="0.62" fill="#9fcfd6" stroke="#4b8d97" stroke-width="0.55"/>
<circle cx="474.03" cy="407.76" r="0.62" fill="#9fcfd6" stroke="#4b8d97" stroke-width="0.55"/>
<circle cx="474.03" cy="410.43" r="0.62" fill="#9fcfd6" stroke="#4b8d97" stroke-width="0.55"/>
<circle cx="474.03" cy="417.35" r="0.62" fill="#9fcfd6" stroke="#4b8d97" stroke-width="0.55"/>
<circle cx="474.03" cy="406.09" r="0.62" fill="#9fcfd6" stroke="#4b8d97" stroke-width="0.55"/>
<circle cx="474.03" cy="418.10" r="0.62" fill="#9fcfd6" stroke="#4b8d97" stroke-width="0.55"/>
<circle cx="476.68" cy="411.78" r="0.62" fill="#9fcfd6" stroke="#4b8d97" stroke-width="0.55"/>
<circle cx="475.05" cy="409.92" r="0.62" fill="#9fcfd6" stroke="#4b8d97" stroke-width="0.55"/>
<circle cx="474.03" cy="402.35" r="0.62" fill="#9fcfd6" stroke="#4b8d97" stroke-width="0.55"/>
<circle cx="475.05" cy="407.16" r="0.62" fill="#9fcfd6" stroke="#4b8d97" stroke-width="0.55"/>
<circle cx="475.05" cy="408.70" r="0.62" fill="#9fcfd6" stroke="#4b8d97" stroke-width="0.55"/>
<circle cx="483.77" cy="412.59" r="0.62" fill="#9fcfd6" stroke="#4b8d97" stroke-width="0.55"/>
<circle cx="482.38" cy="410.24" r="0.62" fill="#9fcfd6" stroke="#4b8d97" stroke-width="0.55"/>
<circle cx="477.80" cy="413.31" r="0.62" fill="#9fcfd6" stroke="#4b8d97" stroke-width="0.55"/>
<circle cx="482.38" cy="410.57" r="0.62" fill="#9fcfd6" stroke="#4b8d97" stroke-width="0.55"/>
<circle cx="479.27" cy="410.62" r="0.62" fill="#9fcfd6" stroke="#4b8d97" stroke-width="0.55"/>
<circle cx="482.38" cy="414.71" r="0.62" fill="#9fcfd6" stroke="#4b8d97" stroke-width="0.55"/>
<circle cx="482.38" cy="413.00" r="0.62" fill="#9fcfd6" stroke="#4b8d97" stroke-width="0.55"/>
<circle cx="483.77" cy="416.53" r="0.62" fill="#9fcfd6" stroke="#4b8d97" stroke-width="0.55"/>
<circle cx="477.80" cy="409.28" r="0.62" fill="#9fcfd6" stroke="#4b8d97" stroke-width="0.55"/>
<circle cx="479.27" cy="419.59" r="0.62" fill="#9fcfd6" stroke="#4b8d97" stroke-width="0.55"/>
<circle cx="483.77" cy="408.67" r="0.62" fill="#9fcfd6" stroke="#4b8d97" stroke-width="0.55"/>
<circle cx="480.79" cy="412.67" r="0.62" fill="#9fcfd6" stroke="#4b8d97" stroke-width="0.55"/>
<circle cx="483.77" cy="416.30" r="0.62" fill="#9fcfd6" stroke="#4b8d97" stroke-width="0.55"/>
<circle cx="477.80" cy="414.16" r="0.62" fill="#9fcfd6" stroke="#4b8d97" stroke-width="0.55"/>
<circle cx="477.80" cy="417.96" r="0.62" fill="#9fcfd6" stroke="#4b8d97" stroke-width="0.55"/>
<circle cx="482.38" cy="419.40" r="0.62" fill="#9fcfd6" stroke="#4b8d97" stroke-width="0.55"/>
<circle cx="483.77" cy="418.49" r="0.62" fill="#9fcfd6" stroke="#4b8d97" stroke-width="0.55"/>
<circle cx="485.12" cy="416.26" r="0.62" fill="#9fcfd6" stroke="#4b8d97" stroke-width="0.55"/>
<circle cx="493.50" cy="415.40" r="0.62" fill="#9fcfd6" stroke="#4b8d97" stroke-width="0.55"/>
<circle cx="494.22" cy="406.67" r="0.62" fill="#9fcfd6" stroke="#4b8d97" stroke-width="0.55"/>
<circle cx="494.22" cy="414.35" r="0.62" fill="#9fcfd6" stroke="#4b8d97" stroke-width="0.55"/>
<circle cx="492.16" cy="420.59" r="0.62" fill="#9fcfd6" stroke="#4b8d97" stroke-width="0.55"/>
<circle cx="493.50" cy="412.92" r="0.62" fill="#9fcfd6" stroke="#4b8d97" stroke-width="0.55"/>
<circle cx="493.50" cy="407.87" r="0.62" fill="#9fcfd6" stroke="#4b8d97" stroke-width="0.55"/>
<circle cx="492.16" cy="402.88" r="0.62" fill="#9fcfd6" stroke="#4b8d97" stroke-width="0.55"/>
<circle cx="492.16" cy="416.74" r="0.62" fill="#9fcfd6" stroke="#4b8d97" stroke-width="0.55"/>
<circle cx="494.22" cy="418.22" r="0.62" fill="#9fcfd6" stroke="#4b8d97" stroke-width="0.55"/>
<circle cx="494.22" cy="415.78" r="0.62" fill="#9fcfd6" stroke="#4b8d97" stroke-width="0.55"/>
<circle cx="492.16" cy="419.50" r="0.62" fill="#9fcfd6" stroke="#4b8d97" stroke-width="0.55"/>
<circle cx="494.22" cy="416.39" r="0.62" fill="#9fcfd6" stroke="#4b8d97" stroke-width="0.55"/>
<circle cx="492.16" cy="417.51" r="0.62" fill="#9fcfd6" stroke="#4b8d97" stroke-width="0.55"/>
<circle cx="494.22" cy="409.68" r="0.62" fill="#9fcfd6" stroke="#4b8d97" stroke-width="0.55"/>
<circle cx="493.50" cy="418.84" r="0.62" fill="#9fcfd6" stroke="#4b8d97" stroke-width="0.55"/>
<circle cx="404.60" cy="343.79" r="0.62" fill="#9fcfd6" stroke="#4b8d97" stroke-width="0.55"/>
<circle cx="404.60" cy="358.61" r="0.62" fill="#9fcfd6" stroke="#4b8d97" stroke-width="0.55"/>
<circle cx="404.60" cy="361.08" r="0.62" fill="#9fcfd6" stroke="#4b8d97" stroke-width="0.55"/>
<circle cx="404.60" cy="362.73" r="0.62" fill="#9fcfd6" stroke="#4b8d97" stroke-width="0.55"/>
<circle cx="404.60" cy="364.38" r="0.62" fill="#9fcfd6" stroke="#4b8d97" stroke-width="0.55"/>
<circle cx="404.60" cy="366.85" r="0.62" fill="#9fcfd6" stroke="#4b8d97" stroke-width="0.55"/>
<circle cx="404.60" cy="370.14" r="0.62" fill="#9fcfd6" stroke="#4b8d97" stroke-width="0.55"/>
<circle cx="404.60" cy="373.44" r="0.62" fill="#9fcfd6" stroke="#4b8d97" stroke-width="0.55"/>
<circle cx="404.60" cy="376.73" r="0.62" fill="#9fcfd6" stroke="#4b8d97" stroke-width="0.55"/>
<circle cx="404.60" cy="381.67" r="0.62" fill="#9fcfd6" stroke="#4b8d97" stroke-width="0.55"/>
<circle cx="404.60" cy="386.61" r="0.62" fill="#9fcfd6" stroke="#4b8d97" stroke-width="0.55"/>
<circle cx="404.60" cy="391.55" r="0.62" fill="#9fcfd6" stroke="#4b8d97" stroke-width="0.55"/>
<circle cx="401.30" cy="356.97" r="0.62" fill="#9fcfd6" stroke="#4b8d97" stroke-width="0.55"/>
<circle cx="413.40" cy="342.97" r="0.62" fill="#9fcfd6" stroke="#4b8d97" stroke-width="0.55"/>
<circle cx="413.40" cy="348.40" r="0.62" fill="#9fcfd6" stroke="#4b8d97" stroke-width="0.55"/>
<circle cx="413.40" cy="354.50" r="0.62" fill="#9fcfd6" stroke="#4b8d97" stroke-width="0.55"/>
<circle cx="413.40" cy="359.44" r="0.62" fill="#9fcfd6" stroke="#4b8d97" stroke-width="0.55"/>
<circle cx="413.40" cy="367.67" r="0.62" fill="#9fcfd6" stroke="#4b8d97" stroke-width="0.55"/>
<circle cx="413.40" cy="368.50" r="0.62" fill="#9fcfd6" stroke="#4b8d97" stroke-width="0.55"/>
<circle cx="413.40" cy="378.38" r="0.62" fill="#9fcfd6" stroke="#4b8d97" stroke-width="0.55"/>
<circle cx="413.40" cy="383.32" r="0.62" fill="#9fcfd6" stroke="#4b8d97" stroke-width="0.55"/>
<circle cx="413.40" cy="389.91" r="0.62" fill="#9fcfd6" stroke="#4b8d97" stroke-width="0.55"/>
<circle cx="420.00" cy="380.02" r="0.62" fill="#9fcfd6" stroke="#4b8d97" stroke-width="0.55"/>
<circle cx="420.00" cy="391.55" r="0.62" fill="#9fcfd6" stroke="#4b8d97" stroke-width="0.55"/>
<circle cx="447.80" cy="353.67" r="0.62" fill="#9fcfd6" stroke="#4b8d97" stroke-width="0.55"/>
<circle cx="447.80" cy="358.61" r="0.62" fill="#9fcfd6" stroke="#4b8d97" stroke-width="0.55"/>
<circle cx="447.80" cy="375.08" r="0.62" fill="#9fcfd6" stroke="#4b8d97" stroke-width="0.55"/>
<circle cx="447.80" cy="376.73" r="0.62" fill="#9fcfd6" stroke="#4b8d97" stroke-width="0.55"/>
<circle cx="447.80" cy="378.38" r="0.62" fill="#9fcfd6" stroke="#4b8d97" stroke-width="0.55"/>
<circle cx="447.80" cy="380.02" r="0.62" fill="#9fcfd6" stroke="#4b8d97" stroke-width="0.55"/>
<circle cx="447.80" cy="381.67" r="0.62" fill="#9fcfd6" stroke="#4b8d97" stroke-width="0.55"/>
<circle cx="447.80" cy="384.97" r="0.62" fill="#9fcfd6" stroke="#4b8d97" stroke-width="0.55"/>
<circle cx="447.80" cy="388.26" r="0.62" fill="#9fcfd6" stroke="#4b8d97" stroke-width="0.55"/>
<circle cx="447.80" cy="389.91" r="0.62" fill="#9fcfd6" stroke="#4b8d97" stroke-width="0.55"/>
<circle cx="447.80" cy="393.20" r="0.62" fill="#9fcfd6" stroke="#4b8d97" stroke-width="0.55"/>
<circle cx="453.30" cy="384.97" r="0.62" fill="#9fcfd6" stroke="#4b8d97" stroke-width="0.55"/>
<circle cx="453.30" cy="393.20" r="0.62" fill="#9fcfd6" stroke="#4b8d97" stroke-width="0.55"/>
<circle cx="360.80" cy="361.91" r="0.62" fill="#9fcfd6" stroke="#4b8d97" stroke-width="0.55"/>
<circle cx="349.30" cy="366.03" r="0.62" fill="#9fcfd6" stroke="#4b8d97" stroke-width="0.55"/>
<circle cx="349.30" cy="368.50" r="0.62" fill="#9fcfd6" stroke="#4b8d97" stroke-width="0.55"/>
<circle cx="349.30" cy="373.44" r="0.62" fill="#9fcfd6" stroke="#4b8d97" stroke-width="0.55"/>
<circle cx="349.30" cy="378.38" r="0.62" fill="#9fcfd6" stroke="#4b8d97" stroke-width="0.55"/>
<circle cx="349.30" cy="381.67" r="0.62" fill="#9fcfd6" stroke="#4b8d97" stroke-width="0.55"/>
<circle cx="342.70" cy="378.38" r="0.62" fill="#9fcfd6" stroke="#4b8d97" stroke-width="0.55"/>
<circle cx="321.00" cy="367.67" r="0.62" fill="#9fcfd6" stroke="#4b8d97" stroke-width="0.55"/>
<circle cx="321.00" cy="370.14" r="0.62" fill="#9fcfd6" stroke="#4b8d97" stroke-width="0.55"/>
<circle cx="321.00" cy="373.44" r="0.62" fill="#9fcfd6" stroke="#4b8d97" stroke-width="0.55"/>
<circle cx="321.00" cy="376.73" r="0.62" fill="#9fcfd6" stroke="#4b8d97" stroke-width="0.55"/>
<circle cx="317.50" cy="371.79" r="0.62" fill="#9fcfd6" stroke="#4b8d97" stroke-width="0.55"/>
<circle cx="317.50" cy="375.08" r="0.62" fill="#9fcfd6" stroke="#4b8d97" stroke-width="0.55"/>
<circle cx="317.50" cy="378.38" r="0.62" fill="#9fcfd6" stroke="#4b8d97" stroke-width="0.55"/>
<circle cx="475.50" cy="391.55" r="0.62" fill="#9fcfd6" stroke="#4b8d97" stroke-width="0.55"/>
<circle cx="475.50" cy="396.50" r="0.62" fill="#9fcfd6" stroke="#4b8d97" stroke-width="0.55"/>
<circle cx="311.00" cy="378.38" r="0.62" fill="#9fcfd6" stroke="#4b8d97" stroke-width="0.55"/>
<circle cx="306.00" cy="393.20" r="0.62" fill="#9fcfd6" stroke="#4b8d97" stroke-width="0.55"/>
<circle cx="293.50" cy="384.97" r="0.62" fill="#9fcfd6" stroke="#4b8d97" stroke-width="0.55"/>
<circle cx="293.50" cy="391.55" r="0.62" fill="#9fcfd6" stroke="#4b8d97" stroke-width="0.55"/>
<text x="0.00" y="0.00" font-size="9.0" text-anchor="start" fill="#111" stroke-width="0.2" transform="translate(384.00,342.10) rotate(-45) scale(1,1.08)">AT1G62600</text>
<text x="0.00" y="0.00" font-size="9.1" text-anchor="start" fill="#111" stroke-width="0.2" transform="translate(417.10,336.50) rotate(-45) scale(1,1.08)">AT1G64310</text>
<text x="0.00" y="0.00" font-size="8.1" text-anchor="start" fill="#111" stroke-width="0.2" transform="translate(451.70,345.90) rotate(-45) scale(1,1.08)">CEL1</text>
<line x1="394.60" y1="335.00" x2="400.90" y2="341.30" stroke="#111" stroke-width="1.1"/>
<path d="M402.2,342.6 L398.5,341.2 L400.8,338.9 Z" fill="#111"/>
<rect x="43.0" y="484.0" width="192.60" height="171.80" fill="none" stroke="#ababab" stroke-width="1.0"/>
<line x1="39.30" y1="647.40" x2="42.30" y2="647.40" stroke="#6a6a6a" stroke-width="0.7"/>
<text x="0.00" y="0.00" font-size="7.4" text-anchor="end" fill="#111" stroke-width="0.13" transform="translate(37.00,650.00) scale(1,1.08)">3</text>
<line x1="39.30" y1="614.10" x2="42.30" y2="614.10" stroke="#6a6a6a" stroke-width="0.7"/>
<text x="0.00" y="0.00" font-size="7.4" text-anchor="end" fill="#111" stroke-width="0.13" transform="translate(37.00,616.70) scale(1,1.08)">4</text>
<line x1="39.30" y1="580.80" x2="42.30" y2="580.80" stroke="#6a6a6a" stroke-width="0.7"/>
<text x="0.00" y="0.00" font-size="7.4" text-anchor="end" fill="#111" stroke-width="0.13" transform="translate(37.00,583.40) scale(1,1.08)">5</text>
<line x1="39.30" y1="547.50" x2="42.30" y2="547.50" stroke="#6a6a6a" stroke-width="0.7"/>
<text x="0.00" y="0.00" font-size="7.4" text-anchor="end" fill="#111" stroke-width="0.13" transform="translate(37.00,550.10) scale(1,1.08)">6</text>
<line x1="39.30" y1="514.20" x2="42.30" y2="514.20" stroke="#6a6a6a" stroke-width="0.7"/>
<text x="0.00" y="0.00" font-size="7.4" text-anchor="end" fill="#111" stroke-width="0.13" transform="translate(37.00,516.80) scale(1,1.08)">7</text>
<line x1="53.50" y1="656.40" x2="53.50" y2="659.20" stroke="#6a6a6a" stroke-width="0.7"/>
<text x="0.00" y="0.00" font-size="7.4" text-anchor="middle" fill="#111" stroke-width="0.13" transform="translate(53.50,668.00) scale(1,1.08)">3</text>
<line x1="87.97" y1="656.40" x2="87.97" y2="659.20" stroke="#6a6a6a" stroke-width="0.7"/>
<text x="0.00" y="0.00" font-size="7.4" text-anchor="middle" fill="#111" stroke-width="0.13" transform="translate(87.97,668.00) scale(1,1.08)">4</text>
<line x1="122.44" y1="656.40" x2="122.44" y2="659.20" stroke="#6a6a6a" stroke-width="0.7"/>
<text x="0.00" y="0.00" font-size="7.4" text-anchor="middle" fill="#111" stroke-width="0.13" transform="translate(122.44,668.00) scale(1,1.08)">5</text>
<line x1="156.91" y1="656.40" x2="156.91" y2="659.20" stroke="#6a6a6a" stroke-width="0.7"/>
<text x="0.00" y="0.00" font-size="7.4" text-anchor="middle" fill="#111" stroke-width="0.13" transform="translate(156.91,668.00) scale(1,1.08)">6</text>
<line x1="191.38" y1="656.40" x2="191.38" y2="659.20" stroke="#6a6a6a" stroke-width="0.7"/>
<text x="0.00" y="0.00" font-size="7.4" text-anchor="middle" fill="#111" stroke-width="0.13" transform="translate(191.38,668.00) scale(1,1.08)">7</text>
<line x1="225.85" y1="656.40" x2="225.85" y2="659.20" stroke="#6a6a6a" stroke-width="0.7"/>
<text x="0.00" y="0.00" font-size="7.4" text-anchor="middle" fill="#111" stroke-width="0.13" transform="translate(225.85,668.00) scale(1,1.08)">8</text>
<text x="0.00" y="0.00" font-size="8.05" text-anchor="middle" fill="#111" stroke-width="0.2" transform="translate(137.00,682.40) scale(1,1.08)">-log<tspan font-size="4.67" dy="2.90" stroke-width="0.06">10</tspan><tspan dy="-2.90">(</tspan><tspan font-style="italic">P</tspan>-values) GWAS of PC1, fungi</text>
<text x="0.00" y="0.00" font-size="8.1" text-anchor="middle" fill="#111" stroke-width="0.2" transform="translate(25.50,571.00) rotate(-90) scale(1,1.08)">-log<tspan font-size="4.70" dy="2.92" stroke-width="0.06">10</tspan><tspan dy="-2.92">(</tspan><tspan font-style="italic">P</tspan>-values) PC1, combined</text>
<circle cx="50.30" cy="646.30" r="1.35" fill="#a8c5d2" stroke="#5a7686" stroke-width="0.35"/>
<circle cx="50.30" cy="644.98" r="1.35" fill="#a8c5d2" stroke="#5a7686" stroke-width="0.35"/>
<circle cx="50.30" cy="643.54" r="1.35" fill="#a8c5d2" stroke="#5a7686" stroke-width="0.35"/>
<circle cx="50.30" cy="642.04" r="1.35" fill="#a8c5d2" stroke="#5a7686" stroke-width="0.35"/>
<circle cx="50.30" cy="640.40" r="1.35" fill="#a8c5d2" stroke="#5a7686" stroke-width="0.35"/>
<circle cx="50.30" cy="638.96" r="1.35" fill="#a8c5d2" stroke="#5a7686" stroke-width="0.35"/>
<circle cx="50.30" cy="637.34" r="1.35" fill="#a8c5d2" stroke="#5a7686" stroke-width="0.35"/>
<circle cx="50.30" cy="636.61" r="1.35" fill="#a8c5d2" stroke="#5a7686" stroke-width="0.35"/>
<circle cx="50.30" cy="635.44" r="1.35" fill="#a8c5d2" stroke="#5a7686" stroke-width="0.35"/>
<circle cx="50.30" cy="633.80" r="1.35" fill="#a8c5d2" stroke="#5a7686" stroke-width="0.35"/>
<circle cx="50.30" cy="632.45" r="1.35" fill="#a8c5d2" stroke="#5a7686" stroke-width="0.35"/>
<circle cx="50.30" cy="630.85" r="1.35" fill="#a8c5d2" stroke="#5a7686" stroke-width="0.35"/>
<circle cx="50.30" cy="630.03" r="1.35" fill="#a8c5d2" stroke="#5a7686" stroke-width="0.35"/>
<circle cx="50.30" cy="628.87" r="1.35" fill="#a8c5d2" stroke="#5a7686" stroke-width="0.35"/>
<circle cx="50.30" cy="627.92" r="1.35" fill="#a8c5d2" stroke="#5a7686" stroke-width="0.35"/>
<circle cx="50.30" cy="626.67" r="1.35" fill="#a8c5d2" stroke="#5a7686" stroke-width="0.35"/>
<circle cx="50.30" cy="625.40" r="1.35" fill="#a8c5d2" stroke="#5a7686" stroke-width="0.35"/>
<circle cx="50.30" cy="624.69" r="1.35" fill="#a8c5d2" stroke="#5a7686" stroke-width="0.35"/>
<circle cx="50.30" cy="623.77" r="1.35" fill="#a8c5d2" stroke="#5a7686" stroke-width="0.35"/>
<circle cx="50.30" cy="622.79" r="1.35" fill="#a8c5d2" stroke="#5a7686" stroke-width="0.35"/>
<circle cx="50.30" cy="621.18" r="1.35" fill="#a8c5d2" stroke="#5a7686" stroke-width="0.35"/>
<circle cx="50.30" cy="619.71" r="1.35" fill="#a8c5d2" stroke="#5a7686" stroke-width="0.35"/>
<circle cx="50.30" cy="618.85" r="1.35" fill="#a8c5d2" stroke="#5a7686" stroke-width="0.35"/>
<circle cx="50.30" cy="617.35" r="1.35" fill="#a8c5d2" stroke="#5a7686" stroke-width="0.35"/>
<circle cx="50.30" cy="616.51" r="1.35" fill="#a8c5d2" stroke="#5a7686" stroke-width="0.35"/>
<circle cx="50.30" cy="615.20" r="1.35" fill="#a8c5d2" stroke="#5a7686" stroke-width="0.35"/>
<circle cx="50.30" cy="614.37" r="1.35" fill="#a8c5d2" stroke="#5a7686" stroke-width="0.35"/>
<circle cx="50.30" cy="613.67" r="1.35" fill="#a8c5d2" stroke="#5a7686" stroke-width="0.35"/>
<circle cx="50.30" cy="612.10" r="1.35" fill="#a8c5d2" stroke="#5a7686" stroke-width="0.35"/>
<circle cx="50.30" cy="611.19" r="1.35" fill="#a8c5d2" stroke="#5a7686" stroke-width="0.35"/>
<circle cx="50.30" cy="610.27" r="1.35" fill="#a8c5d2" stroke="#5a7686" stroke-width="0.35"/>
<circle cx="50.30" cy="601.30" r="1.35" fill="#a8c5d2" stroke="#5a7686" stroke-width="0.35"/>
<circle cx="53.00" cy="650.50" r="1.3" fill="#a8c5d2" stroke="#5a7686" stroke-width="0.35"/>
<circle cx="54.39" cy="650.50" r="1.3" fill="#a8c5d2" stroke="#5a7686" stroke-width="0.35"/>
<circle cx="55.25" cy="650.50" r="1.3" fill="#a8c5d2" stroke="#5a7686" stroke-width="0.35"/>
<circle cx="56.71" cy="650.50" r="1.3" fill="#a8c5d2" stroke="#5a7686" stroke-width="0.35"/>
<circle cx="57.80" cy="650.50" r="1.3" fill="#a8c5d2" stroke="#5a7686" stroke-width="0.35"/>
<circle cx="59.01" cy="650.50" r="1.3" fill="#a8c5d2" stroke="#5a7686" stroke-width="0.35"/>
<circle cx="59.79" cy="650.50" r="1.3" fill="#a8c5d2" stroke="#5a7686" stroke-width="0.35"/>
<circle cx="61.24" cy="650.50" r="1.3" fill="#a8c5d2" stroke="#5a7686" stroke-width="0.35"/>
<circle cx="62.46" cy="650.50" r="1.3" fill="#a8c5d2" stroke="#5a7686" stroke-width="0.35"/>
<circle cx="63.93" cy="650.50" r="1.3" fill="#a8c5d2" stroke="#5a7686" stroke-width="0.35"/>
<circle cx="65.33" cy="650.50" r="1.3" fill="#a8c5d2" stroke="#5a7686" stroke-width="0.35"/>
<circle cx="66.20" cy="650.50" r="1.3" fill="#a8c5d2" stroke="#5a7686" stroke-width="0.35"/>
<circle cx="67.13" cy="650.50" r="1.3" fill="#a8c5d2" stroke="#5a7686" stroke-width="0.35"/>
<circle cx="67.88" cy="650.50" r="1.3" fill="#a8c5d2" stroke="#5a7686" stroke-width="0.35"/>
<circle cx="68.61" cy="650.50" r="1.3" fill="#a8c5d2" stroke="#5a7686" stroke-width="0.35"/>
<circle cx="69.27" cy="650.50" r="1.3" fill="#a8c5d2" stroke="#5a7686" stroke-width="0.35"/>
<circle cx="70.14" cy="650.50" r="1.3" fill="#a8c5d2" stroke="#5a7686" stroke-width="0.35"/>
<circle cx="71.28" cy="650.50" r="1.3" fill="#a8c5d2" stroke="#5a7686" stroke-width="0.35"/>
<circle cx="71.88" cy="650.50" r="1.3" fill="#a8c5d2" stroke="#5a7686" stroke-width="0.35"/>
<circle cx="73.09" cy="650.50" r="1.3" fill="#a8c5d2" stroke="#5a7686" stroke-width="0.35"/>
<circle cx="74.00" cy="650.50" r="1.3" fill="#a8c5d2" stroke="#5a7686" stroke-width="0.35"/>
<circle cx="74.88" cy="650.50" r="1.3" fill="#a8c5d2" stroke="#5a7686" stroke-width="0.35"/>
<circle cx="76.21" cy="650.50" r="1.3" fill="#a8c5d2" stroke="#5a7686" stroke-width="0.35"/>
<circle cx="77.25" cy="650.50" r="1.3" fill="#a8c5d2" stroke="#5a7686" stroke-width="0.35"/>
<circle cx="78.13" cy="650.50" r="1.3" fill="#a8c5d2" stroke="#5a7686" stroke-width="0.35"/>
<circle cx="79.16" cy="650.50" r="1.3" fill="#a8c5d2" stroke="#5a7686" stroke-width="0.35"/>
<circle cx="80.40" cy="650.50" r="1.3" fill="#a8c5d2" stroke="#5a7686" stroke-width="0.35"/>
<circle cx="81.05" cy="650.50" r="1.3" fill="#a8c5d2" stroke="#5a7686" stroke-width="0.35"/>
<circle cx="82.53" cy="650.50" r="1.3" fill="#a8c5d2" stroke="#5a7686" stroke-width="0.35"/>
<circle cx="83.15" cy="650.50" r="1.3" fill="#a8c5d2" stroke="#5a7686" stroke-width="0.35"/>
<circle cx="84.42" cy="650.50" r="1.3" fill="#a8c5d2" stroke="#5a7686" stroke-width="0.35"/>
<circle cx="85.78" cy="650.50" r="1.3" fill="#a8c5d2" stroke="#5a7686" stroke-width="0.35"/>
<circle cx="86.40" cy="650.50" r="1.3" fill="#a8c5d2" stroke="#5a7686" stroke-width="0.35"/>
<circle cx="90.00" cy="650.50" r="1.3" fill="#a8c5d2" stroke="#5a7686" stroke-width="0.35"/>
<circle cx="122.40" cy="531.10" r="1.3" fill="#b0e87e" stroke="#7f9f69" stroke-width="0.45"/>
<circle cx="154.70" cy="529.40" r="1.3" fill="#b0e87e" stroke="#7f9f69" stroke-width="0.45"/>
<circle cx="140.30" cy="538.40" r="1.3" fill="#b0e87e" stroke="#7f9f69" stroke-width="0.45"/>
<circle cx="136.30" cy="543.50" r="1.3" fill="#b0e87e" stroke="#7f9f69" stroke-width="0.45"/>
<circle cx="116.60" cy="553.80" r="1.3" fill="#b0e87e" stroke="#7f9f69" stroke-width="0.45"/>
<circle cx="115.60" cy="554.80" r="1.3" fill="#b0e87e" stroke="#7f9f69" stroke-width="0.45"/>
<circle cx="161.50" cy="551.40" r="1.3" fill="#b0e87e" stroke="#7f9f69" stroke-width="0.45"/>
<circle cx="164.30" cy="560.60" r="1.3" fill="#b0e87e" stroke="#7f9f69" stroke-width="0.45"/>
<circle cx="73.50" cy="565.50" r="1.3" fill="#b0e87e" stroke="#7f9f69" stroke-width="0.45"/>
<circle cx="121.50" cy="563.40" r="1.3" fill="#b0e87e" stroke="#7f9f69" stroke-width="0.45"/>
<circle cx="129.00" cy="559.50" r="1.3" fill="#b0e87e" stroke="#7f9f69" stroke-width="0.45"/>
<circle cx="136.30" cy="563.20" r="1.3" fill="#b0e87e" stroke="#7f9f69" stroke-width="0.45"/>
<circle cx="137.40" cy="566.60" r="1.3" fill="#b0e87e" stroke="#7f9f69" stroke-width="0.45"/>
<circle cx="136.30" cy="571.30" r="1.3" fill="#b0e87e" stroke="#7f9f69" stroke-width="0.45"/>
<circle cx="144.80" cy="569.60" r="1.3" fill="#b0e87e" stroke="#7f9f69" stroke-width="0.45"/>
<circle cx="147.40" cy="566.20" r="1.3" fill="#b0e87e" stroke="#7f9f69" stroke-width="0.45"/>
<circle cx="151.50" cy="568.10" r="1.3" fill="#b0e87e" stroke="#7f9f69" stroke-width="0.45"/>
<circle cx="155.50" cy="562.70" r="1.3" fill="#b0e87e" stroke="#7f9f69" stroke-width="0.45"/>
<circle cx="157.20" cy="572.40" r="1.3" fill="#b0e87e" stroke="#7f9f69" stroke-width="0.45"/>
<circle cx="157.20" cy="576.60" r="1.3" fill="#b0e87e" stroke="#7f9f69" stroke-width="0.45"/>
<circle cx="159.40" cy="578.10" r="1.3" fill="#b0e87e" stroke="#7f9f69" stroke-width="0.45"/>
<circle cx="80.30" cy="573.40" r="1.3" fill="#b0e87e" stroke="#7f9f69" stroke-width="0.45"/>
<circle cx="84.10" cy="574.30" r="1.3" fill="#b0e87e" stroke="#7f9f69" stroke-width="0.45"/>
<circle cx="93.10" cy="576.40" r="1.3" fill="#b0e87e" stroke="#7f9f69" stroke-width="0.45"/>
<circle cx="111.30" cy="574.30" r="1.3" fill="#b0e87e" stroke="#7f9f69" stroke-width="0.45"/>
<circle cx="76.50" cy="580.50" r="1.3" fill="#b0e87e" stroke="#7f9f69" stroke-width="0.45"/>
<circle cx="130.10" cy="577.30" r="1.3" fill="#b0e87e" stroke="#7f9f69" stroke-width="0.45"/>
<circle cx="135.20" cy="578.10" r="1.3" fill="#b0e87e" stroke="#7f9f69" stroke-width="0.45"/>
<circle cx="136.50" cy="578.80" r="1.3" fill="#b0e87e" stroke="#7f9f69" stroke-width="0.45"/>
<circle cx="145.00" cy="579.20" r="1.3" fill="#b0e87e" stroke="#7f9f69" stroke-width="0.45"/>
<circle cx="116.60" cy="580.30" r="1.3" fill="#b0e87e" stroke="#7f9f69" stroke-width="0.45"/>
<circle cx="115.60" cy="582.00" r="1.3" fill="#b0e87e" stroke="#7f9f69" stroke-width="0.45"/>
<circle cx="109.60" cy="582.00" r="1.3" fill="#b0e87e" stroke="#7f9f69" stroke-width="0.45"/>
<circle cx="85.60" cy="584.10" r="1.3" fill="#b0e87e" stroke="#7f9f69" stroke-width="0.45"/>
<circle cx="77.10" cy="587.30" r="1.3" fill="#b0e87e" stroke="#7f9f69" stroke-width="0.45"/>
<circle cx="77.10" cy="589.40" r="1.3" fill="#b0e87e" stroke="#7f9f69" stroke-width="0.45"/>
<circle cx="81.40" cy="586.90" r="1.3" fill="#b0e87e" stroke="#7f9f69" stroke-width="0.45"/>
<circle cx="87.80" cy="589.40" r="1.3" fill="#b0e87e" stroke="#7f9f69" stroke-width="0.45"/>
<circle cx="92.00" cy="586.90" r="1.3" fill="#b0e87e" stroke="#7f9f69" stroke-width="0.45"/>
<circle cx="94.20" cy="586.90" r="1.3" fill="#b0e87e" stroke="#7f9f69" stroke-width="0.45"/>
<circle cx="98.00" cy="586.20" r="1.3" fill="#b0e87e" stroke="#7f9f69" stroke-width="0.45"/>
<circle cx="100.20" cy="585.20" r="1.3" fill="#b0e87e" stroke="#7f9f69" stroke-width="0.45"/>
<circle cx="103.20" cy="587.90" r="1.3" fill="#b0e87e" stroke="#7f9f69" stroke-width="0.45"/>
<circle cx="107.40" cy="584.10" r="1.3" fill="#b0e87e" stroke="#7f9f69" stroke-width="0.45"/>
<circle cx="112.40" cy="585.20" r="1.3" fill="#b0e87e" stroke="#7f9f69" stroke-width="0.45"/>
<circle cx="123.50" cy="585.60" r="1.3" fill="#b0e87e" stroke="#7f9f69" stroke-width="0.45"/>
<circle cx="127.30" cy="587.90" r="1.3" fill="#b0e87e" stroke="#7f9f69" stroke-width="0.45"/>
<circle cx="131.60" cy="584.70" r="1.3" fill="#b0e87e" stroke="#7f9f69" stroke-width="0.45"/>
<circle cx="136.50" cy="584.10" r="1.3" fill="#b0e87e" stroke="#7f9f69" stroke-width="0.45"/>
<circle cx="138.60" cy="586.20" r="1.3" fill="#b0e87e" stroke="#7f9f69" stroke-width="0.45"/>
<circle cx="140.10" cy="585.80" r="1.3" fill="#b0e87e" stroke="#7f9f69" stroke-width="0.45"/>
<circle cx="142.30" cy="583.70" r="1.3" fill="#b0e87e" stroke="#7f9f69" stroke-width="0.45"/>
<circle cx="159.60" cy="587.30" r="1.3" fill="#b0e87e" stroke="#7f9f69" stroke-width="0.45"/>
<circle cx="64.30" cy="594.10" r="1.3" fill="#b0e87e" stroke="#7f9f69" stroke-width="0.45"/>
<circle cx="71.80" cy="596.90" r="1.3" fill="#b0e87e" stroke="#7f9f69" stroke-width="0.45"/>
<circle cx="73.90" cy="596.30" r="1.3" fill="#b0e87e" stroke="#7f9f69" stroke-width="0.45"/>
<circle cx="77.10" cy="594.80" r="1.3" fill="#b0e87e" stroke="#7f9f69" stroke-width="0.45"/>
<circle cx="81.80" cy="593.30" r="1.3" fill="#b0e87e" stroke="#7f9f69" stroke-width="0.45"/>
<circle cx="94.20" cy="589.40" r="1.3" fill="#b0e87e" stroke="#7f9f69" stroke-width="0.45"/>
<circle cx="98.00" cy="590.90" r="1.3" fill="#b0e87e" stroke="#7f9f69" stroke-width="0.45"/>
<circle cx="100.60" cy="590.50" r="1.3" fill="#b0e87e" stroke="#7f9f69" stroke-width="0.45"/>
<circle cx="97.40" cy="595.40" r="1.3" fill="#b0e87e" stroke="#7f9f69" stroke-width="0.45"/>
<circle cx="110.90" cy="592.60" r="1.3" fill="#b0e87e" stroke="#7f9f69" stroke-width="0.45"/>
<circle cx="112.40" cy="593.70" r="1.3" fill="#b0e87e" stroke="#7f9f69" stroke-width="0.45"/>
<circle cx="113.40" cy="592.00" r="1.3" fill="#b0e87e" stroke="#7f9f69" stroke-width="0.45"/>
<circle cx="122.00" cy="591.60" r="1.3" fill="#b0e87e" stroke="#7f9f69" stroke-width="0.45"/>
<circle cx="123.00" cy="596.90" r="1.3" fill="#b0e87e" stroke="#7f9f69" stroke-width="0.45"/>
<circle cx="113.40" cy="596.00" r="1.3" fill="#b0e87e" stroke="#7f9f69" stroke-width="0.45"/>
<circle cx="117.30" cy="600.10" r="1.3" fill="#b0e87e" stroke="#7f9f69" stroke-width="0.45"/>
<circle cx="122.00" cy="600.10" r="1.3" fill="#b0e87e" stroke="#7f9f69" stroke-width="0.45"/>
<circle cx="102.70" cy="596.90" r="1.3" fill="#b0e87e" stroke="#7f9f69" stroke-width="0.45"/>
<circle cx="105.90" cy="601.20" r="1.3" fill="#b0e87e" stroke="#7f9f69" stroke-width="0.45"/>
<circle cx="103.80" cy="603.30" r="1.3" fill="#b0e87e" stroke="#7f9f69" stroke-width="0.45"/>
<circle cx="107.40" cy="602.30" r="1.3" fill="#b0e87e" stroke="#7f9f69" stroke-width="0.45"/>
<circle cx="140.10" cy="601.20" r="1.3" fill="#b0e87e" stroke="#7f9f69" stroke-width="0.45"/>
<circle cx="151.50" cy="599.10" r="1.3" fill="#b0e87e" stroke="#7f9f69" stroke-width="0.45"/>
<circle cx="145.00" cy="605.50" r="1.3" fill="#b0e87e" stroke="#7f9f69" stroke-width="0.45"/>
<circle cx="161.90" cy="606.30" r="1.3" fill="#b0e87e" stroke="#7f9f69" stroke-width="0.45"/>
<circle cx="127.30" cy="604.40" r="1.3" fill="#b0e87e" stroke="#7f9f69" stroke-width="0.45"/>
<circle cx="128.40" cy="607.60" r="1.3" fill="#b0e87e" stroke="#7f9f69" stroke-width="0.45"/>
<circle cx="115.60" cy="603.30" r="1.3" fill="#b0e87e" stroke="#7f9f69" stroke-width="0.45"/>
<circle cx="114.50" cy="605.00" r="1.3" fill="#b0e87e" stroke="#7f9f69" stroke-width="0.45"/>
<circle cx="123.70" cy="615.50" r="1.3" fill="#b0e87e" stroke="#7f9f69" stroke-width="0.45"/>
<circle cx="127.90" cy="617.20" r="1.3" fill="#b0e87e" stroke="#7f9f69" stroke-width="0.45"/>
<circle cx="121.40" cy="643.30" r="1.3" fill="#b0e87e" stroke="#7f9f69" stroke-width="0.45"/>
<circle cx="132.00" cy="584.90" r="1.3" fill="#b0e87e" stroke="#7f9f69" stroke-width="0.45"/>
<circle cx="137.60" cy="586.20" r="1.3" fill="#b0e87e" stroke="#7f9f69" stroke-width="0.45"/>
<circle cx="142.10" cy="583.60" r="1.3" fill="#b0e87e" stroke="#7f9f69" stroke-width="0.45"/>
<circle cx="159.80" cy="587.40" r="1.3" fill="#b0e87e" stroke="#7f9f69" stroke-width="0.45"/>
<circle cx="133.00" cy="620.00" r="1.3" fill="#b0e87e" stroke="#7f9f69" stroke-width="0.45"/>
<circle cx="118.00" cy="630.50" r="1.3" fill="#b0e87e" stroke="#7f9f69" stroke-width="0.45"/>
<circle cx="112.50" cy="624.00" r="1.3" fill="#b0e87e" stroke="#7f9f69" stroke-width="0.45"/>
<circle cx="108.00" cy="636.00" r="1.3" fill="#b0e87e" stroke="#7f9f69" stroke-width="0.45"/>
<circle cx="72.32" cy="628.39" r="1.3" fill="#b0e87e" stroke="#7f9f69" stroke-width="0.45"/>
<circle cx="66.70" cy="638.18" r="1.3" fill="#b0e87e" stroke="#7f9f69" stroke-width="0.45"/>
<circle cx="65.64" cy="613.01" r="1.3" fill="#b0e87e" stroke="#7f9f69" stroke-width="0.45"/>
<circle cx="71.95" cy="637.88" r="1.3" fill="#b0e87e" stroke="#7f9f69" stroke-width="0.45"/>
<circle cx="89.51" cy="640.00" r="1.3" fill="#b0e87e" stroke="#7f9f69" stroke-width="0.45"/>
<circle cx="54.56" cy="613.33" r="1.3" fill="#b0e87e" stroke="#7f9f69" stroke-width="0.45"/>
<circle cx="102.81" cy="634.57" r="1.3" fill="#b0e87e" stroke="#7f9f69" stroke-width="0.45"/>
<circle cx="69.53" cy="619.53" r="1.3" fill="#b0e87e" stroke="#7f9f69" stroke-width="0.45"/>
<circle cx="79.35" cy="605.83" r="1.3" fill="#b0e87e" stroke="#7f9f69" stroke-width="0.45"/>
<circle cx="61.09" cy="631.11" r="1.3" fill="#b0e87e" stroke="#7f9f69" stroke-width="0.45"/>
<circle cx="64.54" cy="638.55" r="1.3" fill="#b0e87e" stroke="#7f9f69" stroke-width="0.45"/>
<circle cx="66.46" cy="645.93" r="1.3" fill="#b0e87e" stroke="#7f9f69" stroke-width="0.45"/>
<circle cx="79.64" cy="640.41" r="1.3" fill="#b0e87e" stroke="#7f9f69" stroke-width="0.45"/>
<circle cx="56.40" cy="620.96" r="1.3" fill="#b0e87e" stroke="#7f9f69" stroke-width="0.45"/>
<circle cx="75.00" cy="640.67" r="1.3" fill="#b0e87e" stroke="#7f9f69" stroke-width="0.45"/>
<circle cx="58.80" cy="643.01" r="1.3" fill="#b0e87e" stroke="#7f9f69" stroke-width="0.45"/>
<circle cx="59.96" cy="636.34" r="1.3" fill="#b0e87e" stroke="#7f9f69" stroke-width="0.45"/>
<circle cx="81.93" cy="629.73" r="1.3" fill="#b0e87e" stroke="#7f9f69" stroke-width="0.45"/>
<circle cx="71.50" cy="633.22" r="1.3" fill="#b0e87e" stroke="#7f9f69" stroke-width="0.45"/>
<circle cx="63.88" cy="631.91" r="1.3" fill="#b0e87e" stroke="#7f9f69" stroke-width="0.45"/>
<circle cx="94.64" cy="630.73" r="1.3" fill="#b0e87e" stroke="#7f9f69" stroke-width="0.45"/>
<circle cx="77.11" cy="633.64" r="1.3" fill="#b0e87e" stroke="#7f9f69" stroke-width="0.45"/>
<circle cx="71.19" cy="641.65" r="1.3" fill="#b0e87e" stroke="#7f9f69" stroke-width="0.45"/>
<circle cx="66.37" cy="627.30" r="1.3" fill="#b0e87e" stroke="#7f9f69" stroke-width="0.45"/>
<circle cx="82.31" cy="634.42" r="1.3" fill="#b0e87e" stroke="#7f9f69" stroke-width="0.45"/>
<circle cx="58.91" cy="639.11" r="1.3" fill="#b0e87e" stroke="#7f9f69" stroke-width="0.45"/>
<circle cx="62.50" cy="609.07" r="1.3" fill="#b0e87e" stroke="#7f9f69" stroke-width="0.45"/>
<circle cx="62.20" cy="613.24" r="1.3" fill="#b0e87e" stroke="#7f9f69" stroke-width="0.45"/>
<circle cx="72.15" cy="617.26" r="1.3" fill="#b0e87e" stroke="#7f9f69" stroke-width="0.45"/>
<circle cx="58.93" cy="631.11" r="1.3" fill="#b0e87e" stroke="#7f9f69" stroke-width="0.45"/>
<circle cx="58.11" cy="618.03" r="1.3" fill="#b0e87e" stroke="#7f9f69" stroke-width="0.45"/>
<circle cx="82.41" cy="631.01" r="1.3" fill="#b0e87e" stroke="#7f9f69" stroke-width="0.45"/>
<circle cx="80.15" cy="642.14" r="1.3" fill="#b0e87e" stroke="#7f9f69" stroke-width="0.45"/>
<circle cx="65.09" cy="624.75" r="1.3" fill="#b0e87e" stroke="#7f9f69" stroke-width="0.45"/>
<circle cx="76.40" cy="617.15" r="1.3" fill="#b0e87e" stroke="#7f9f69" stroke-width="0.45"/>
<circle cx="75.09" cy="615.92" r="1.3" fill="#b0e87e" stroke="#7f9f69" stroke-width="0.45"/>
<circle cx="77.59" cy="609.80" r="1.3" fill="#b0e87e" stroke="#7f9f69" stroke-width="0.45"/>
<circle cx="79.42" cy="642.18" r="1.3" fill="#b0e87e" stroke="#7f9f69" stroke-width="0.45"/>
<circle cx="79.40" cy="604.74" r="1.3" fill="#b0e87e" stroke="#7f9f69" stroke-width="0.45"/>
<circle cx="66.06" cy="615.60" r="1.3" fill="#b0e87e" stroke="#7f9f69" stroke-width="0.45"/>
<circle cx="71.17" cy="614.31" r="1.3" fill="#b0e87e" stroke="#7f9f69" stroke-width="0.45"/>
<circle cx="65.13" cy="627.09" r="1.3" fill="#b0e87e" stroke="#7f9f69" stroke-width="0.45"/>
<circle cx="58.74" cy="619.19" r="1.3" fill="#b0e87e" stroke="#7f9f69" stroke-width="0.45"/>
<circle cx="66.22" cy="642.37" r="1.3" fill="#b0e87e" stroke="#7f9f69" stroke-width="0.45"/>
<circle cx="62.73" cy="633.53" r="1.3" fill="#b0e87e" stroke="#7f9f69" stroke-width="0.45"/>
<circle cx="58.31" cy="641.60" r="1.3" fill="#b0e87e" stroke="#7f9f69" stroke-width="0.45"/>
<circle cx="55.22" cy="640.27" r="1.3" fill="#b0e87e" stroke="#7f9f69" stroke-width="0.45"/>
<circle cx="59.57" cy="635.38" r="1.3" fill="#b0e87e" stroke="#7f9f69" stroke-width="0.45"/>
<circle cx="76.75" cy="638.43" r="1.3" fill="#b0e87e" stroke="#7f9f69" stroke-width="0.45"/>
<circle cx="75.27" cy="628.60" r="1.3" fill="#b0e87e" stroke="#7f9f69" stroke-width="0.45"/>
<circle cx="54.81" cy="645.82" r="1.3" fill="#b0e87e" stroke="#7f9f69" stroke-width="0.45"/>
<circle cx="57.98" cy="627.69" r="1.3" fill="#b0e87e" stroke="#7f9f69" stroke-width="0.45"/>
<circle cx="63.98" cy="630.80" r="1.3" fill="#b0e87e" stroke="#7f9f69" stroke-width="0.45"/>
<circle cx="61.17" cy="639.43" r="1.3" fill="#b0e87e" stroke="#7f9f69" stroke-width="0.45"/>
<circle cx="68.71" cy="620.32" r="1.3" fill="#b0e87e" stroke="#7f9f69" stroke-width="0.45"/>
<circle cx="63.19" cy="626.01" r="1.3" fill="#b0e87e" stroke="#7f9f69" stroke-width="0.45"/>
<circle cx="66.63" cy="631.97" r="1.3" fill="#b0e87e" stroke="#7f9f69" stroke-width="0.45"/>
<circle cx="76.14" cy="624.65" r="1.3" fill="#b0e87e" stroke="#7f9f69" stroke-width="0.45"/>
<circle cx="81.95" cy="637.53" r="1.3" fill="#b0e87e" stroke="#7f9f69" stroke-width="0.45"/>
<circle cx="54.90" cy="645.85" r="1.3" fill="#b0e87e" stroke="#7f9f69" stroke-width="0.45"/>
<circle cx="80.36" cy="634.77" r="1.3" fill="#b0e87e" stroke="#7f9f69" stroke-width="0.45"/>
<circle cx="84.12" cy="613.92" r="1.3" fill="#b0e87e" stroke="#7f9f69" stroke-width="0.45"/>
<circle cx="67.66" cy="639.35" r="1.3" fill="#b0e87e" stroke="#7f9f69" stroke-width="0.45"/>
<circle cx="74.10" cy="635.67" r="1.3" fill="#b0e87e" stroke="#7f9f69" stroke-width="0.45"/>
<circle cx="78.04" cy="631.22" r="1.3" fill="#b0e87e" stroke="#7f9f69" stroke-width="0.45"/>
<circle cx="78.24" cy="639.87" r="1.3" fill="#b0e87e" stroke="#7f9f69" stroke-width="0.45"/>
<circle cx="79.28" cy="593.63" r="1.3" fill="#b0e87e" stroke="#7f9f69" stroke-width="0.45"/>
<circle cx="59.53" cy="625.81" r="1.3" fill="#b0e87e" stroke="#7f9f69" stroke-width="0.45"/>
<circle cx="70.35" cy="630.77" r="1.3" fill="#b0e87e" stroke="#7f9f69" stroke-width="0.45"/>
<circle cx="61.85" cy="612.74" r="1.3" fill="#b0e87e" stroke="#7f9f69" stroke-width="0.45"/>
<circle cx="70.39" cy="637.32" r="1.3" fill="#b0e87e" stroke="#7f9f69" stroke-width="0.45"/>
<circle cx="57.28" cy="632.53" r="1.3" fill="#b0e87e" stroke="#7f9f69" stroke-width="0.45"/>
<circle cx="89.12" cy="597.00" r="1.3" fill="#b0e87e" stroke="#7f9f69" stroke-width="0.45"/>
<circle cx="72.45" cy="628.63" r="1.3" fill="#b0e87e" stroke="#7f9f69" stroke-width="0.45"/>
<circle cx="81.30" cy="626.79" r="1.3" fill="#b0e87e" stroke="#7f9f69" stroke-width="0.45"/>
<circle cx="55.33" cy="630.57" r="1.3" fill="#b0e87e" stroke="#7f9f69" stroke-width="0.45"/>
<circle cx="63.13" cy="631.25" r="1.3" fill="#b0e87e" stroke="#7f9f69" stroke-width="0.45"/>
<circle cx="73.28" cy="636.86" r="1.3" fill="#b0e87e" stroke="#7f9f69" stroke-width="0.45"/>
<circle cx="58.93" cy="643.18" r="1.3" fill="#b0e87e" stroke="#7f9f69" stroke-width="0.45"/>
<circle cx="98.50" cy="619.72" r="1.3" fill="#b0e87e" stroke="#7f9f69" stroke-width="0.45"/>
<circle cx="57.59" cy="644.29" r="1.3" fill="#b0e87e" stroke="#7f9f69" stroke-width="0.45"/>
<circle cx="78.52" cy="629.03" r="1.3" fill="#b0e87e" stroke="#7f9f69" stroke-width="0.45"/>
<circle cx="70.18" cy="625.01" r="1.3" fill="#b0e87e" stroke="#7f9f69" stroke-width="0.45"/>
<circle cx="69.70" cy="629.03" r="1.3" fill="#b0e87e" stroke="#7f9f69" stroke-width="0.45"/>
<circle cx="59.91" cy="629.85" r="1.3" fill="#b0e87e" stroke="#7f9f69" stroke-width="0.45"/>
<circle cx="90.19" cy="622.50" r="1.3" fill="#b0e87e" stroke="#7f9f69" stroke-width="0.45"/>
<circle cx="69.69" cy="635.35" r="1.3" fill="#b0e87e" stroke="#7f9f69" stroke-width="0.45"/>
<circle cx="63.91" cy="639.07" r="1.3" fill="#b0e87e" stroke="#7f9f69" stroke-width="0.45"/>
<circle cx="77.31" cy="636.83" r="1.3" fill="#b0e87e" stroke="#7f9f69" stroke-width="0.45"/>
<circle cx="69.83" cy="621.29" r="1.3" fill="#b0e87e" stroke="#7f9f69" stroke-width="0.45"/>
<circle cx="67.78" cy="636.36" r="1.3" fill="#b0e87e" stroke="#7f9f69" stroke-width="0.45"/>
<circle cx="62.11" cy="620.21" r="1.3" fill="#b0e87e" stroke="#7f9f69" stroke-width="0.45"/>
<circle cx="56.16" cy="640.00" r="1.3" fill="#b0e87e" stroke="#7f9f69" stroke-width="0.45"/>
<circle cx="59.91" cy="618.15" r="1.3" fill="#b0e87e" stroke="#7f9f69" stroke-width="0.45"/>
<circle cx="56.79" cy="636.45" r="1.3" fill="#b0e87e" stroke="#7f9f69" stroke-width="0.45"/>
<circle cx="64.44" cy="638.68" r="1.3" fill="#b0e87e" stroke="#7f9f69" stroke-width="0.45"/>
<circle cx="64.70" cy="638.12" r="1.3" fill="#b0e87e" stroke="#7f9f69" stroke-width="0.45"/>
<circle cx="63.72" cy="642.53" r="1.3" fill="#b0e87e" stroke="#7f9f69" stroke-width="0.45"/>
<circle cx="60.59" cy="642.07" r="1.3" fill="#b0e87e" stroke="#7f9f69" stroke-width="0.45"/>
<circle cx="56.23" cy="608.70" r="1.3" fill="#b0e87e" stroke="#7f9f69" stroke-width="0.45"/>
<circle cx="70.53" cy="635.82" r="1.3" fill="#b0e87e" stroke="#7f9f69" stroke-width="0.45"/>
<circle cx="102.93" cy="636.42" r="1.3" fill="#b0e87e" stroke="#7f9f69" stroke-width="0.45"/>
<circle cx="84.22" cy="634.89" r="1.3" fill="#b0e87e" stroke="#7f9f69" stroke-width="0.45"/>
<circle cx="70.85" cy="624.32" r="1.3" fill="#b0e87e" stroke="#7f9f69" stroke-width="0.45"/>
<circle cx="81.30" cy="634.95" r="1.3" fill="#b0e87e" stroke="#7f9f69" stroke-width="0.45"/>
<circle cx="69.20" cy="637.37" r="1.3" fill="#b0e87e" stroke="#7f9f69" stroke-width="0.45"/>
<circle cx="65.21" cy="644.29" r="1.3" fill="#b0e87e" stroke="#7f9f69" stroke-width="0.45"/>
<circle cx="77.51" cy="623.08" r="1.3" fill="#b0e87e" stroke="#7f9f69" stroke-width="0.45"/>
<circle cx="61.09" cy="620.14" r="1.3" fill="#b0e87e" stroke="#7f9f69" stroke-width="0.45"/>
<circle cx="58.65" cy="639.18" r="1.3" fill="#b0e87e" stroke="#7f9f69" stroke-width="0.45"/>
<circle cx="66.87" cy="634.34" r="1.3" fill="#b0e87e" stroke="#7f9f69" stroke-width="0.45"/>
<circle cx="72.33" cy="638.62" r="1.3" fill="#b0e87e" stroke="#7f9f69" stroke-width="0.45"/>
<circle cx="86.85" cy="640.29" r="1.3" fill="#b0e87e" stroke="#7f9f69" stroke-width="0.45"/>
<circle cx="83.94" cy="601.74" r="1.3" fill="#b0e87e" stroke="#7f9f69" stroke-width="0.45"/>
<circle cx="55.92" cy="636.52" r="1.3" fill="#b0e87e" stroke="#7f9f69" stroke-width="0.45"/>
<circle cx="73.69" cy="616.08" r="1.3" fill="#b0e87e" stroke="#7f9f69" stroke-width="0.45"/>
<circle cx="67.89" cy="633.00" r="1.3" fill="#b0e87e" stroke="#7f9f69" stroke-width="0.45"/>
<circle cx="68.44" cy="622.50" r="1.3" fill="#b0e87e" stroke="#7f9f69" stroke-width="0.45"/>
<circle cx="62.63" cy="636.94" r="1.3" fill="#b0e87e" stroke="#7f9f69" stroke-width="0.45"/>
<circle cx="76.55" cy="616.03" r="1.3" fill="#b0e87e" stroke="#7f9f69" stroke-width="0.45"/>
<circle cx="69.07" cy="625.08" r="1.3" fill="#b0e87e" stroke="#7f9f69" stroke-width="0.45"/>
<circle cx="84.61" cy="628.29" r="1.3" fill="#b0e87e" stroke="#7f9f69" stroke-width="0.45"/>
<circle cx="58.59" cy="643.28" r="1.3" fill="#b0e87e" stroke="#7f9f69" stroke-width="0.45"/>
<circle cx="96.25" cy="629.03" r="1.3" fill="#b0e87e" stroke="#7f9f69" stroke-width="0.45"/>
<circle cx="54.23" cy="645.73" r="1.3" fill="#b0e87e" stroke="#7f9f69" stroke-width="0.45"/>
<circle cx="76.32" cy="626.37" r="1.3" fill="#b0e87e" stroke="#7f9f69" stroke-width="0.45"/>
<circle cx="63.45" cy="644.00" r="1.3" fill="#b0e87e" stroke="#7f9f69" stroke-width="0.45"/>
<circle cx="65.03" cy="629.76" r="1.3" fill="#b0e87e" stroke="#7f9f69" stroke-width="0.45"/>
<circle cx="62.87" cy="638.30" r="1.3" fill="#b0e87e" stroke="#7f9f69" stroke-width="0.45"/>
<circle cx="56.29" cy="635.38" r="1.3" fill="#b0e87e" stroke="#7f9f69" stroke-width="0.45"/>
<circle cx="56.40" cy="625.45" r="1.3" fill="#b0e87e" stroke="#7f9f69" stroke-width="0.45"/>
<circle cx="71.85" cy="631.73" r="1.3" fill="#b0e87e" stroke="#7f9f69" stroke-width="0.45"/>
<circle cx="66.00" cy="618.78" r="1.3" fill="#b0e87e" stroke="#7f9f69" stroke-width="0.45"/>
<circle cx="63.95" cy="640.62" r="1.3" fill="#b0e87e" stroke="#7f9f69" stroke-width="0.45"/>
<circle cx="62.10" cy="617.45" r="1.3" fill="#b0e87e" stroke="#7f9f69" stroke-width="0.45"/>
<circle cx="61.38" cy="635.83" r="1.3" fill="#b0e87e" stroke="#7f9f69" stroke-width="0.45"/>
<circle cx="55.21" cy="638.80" r="1.3" fill="#b0e87e" stroke="#7f9f69" stroke-width="0.45"/>
<circle cx="73.60" cy="641.10" r="1.3" fill="#b0e87e" stroke="#7f9f69" stroke-width="0.45"/>
<circle cx="70.73" cy="638.55" r="1.3" fill="#b0e87e" stroke="#7f9f69" stroke-width="0.45"/>
<circle cx="56.66" cy="635.39" r="1.3" fill="#b0e87e" stroke="#7f9f69" stroke-width="0.45"/>
<circle cx="77.26" cy="602.06" r="1.3" fill="#b0e87e" stroke="#7f9f69" stroke-width="0.45"/>
<circle cx="105.24" cy="625.23" r="1.3" fill="#b0e87e" stroke="#7f9f69" stroke-width="0.45"/>
<circle cx="87.54" cy="629.12" r="1.3" fill="#b0e87e" stroke="#7f9f69" stroke-width="0.45"/>
<circle cx="79.24" cy="630.12" r="1.3" fill="#b0e87e" stroke="#7f9f69" stroke-width="0.45"/>
<circle cx="73.25" cy="643.67" r="1.3" fill="#b0e87e" stroke="#7f9f69" stroke-width="0.45"/>
<circle cx="94.10" cy="621.73" r="1.3" fill="#b0e87e" stroke="#7f9f69" stroke-width="0.45"/>
<circle cx="60.51" cy="643.35" r="1.3" fill="#b0e87e" stroke="#7f9f69" stroke-width="0.45"/>
<circle cx="73.97" cy="640.18" r="1.3" fill="#b0e87e" stroke="#7f9f69" stroke-width="0.45"/>
<circle cx="54.91" cy="627.51" r="1.3" fill="#b0e87e" stroke="#7f9f69" stroke-width="0.45"/>
<circle cx="59.62" cy="642.50" r="1.3" fill="#b0e87e" stroke="#7f9f69" stroke-width="0.45"/>
<circle cx="64.77" cy="624.93" r="1.3" fill="#b0e87e" stroke="#7f9f69" stroke-width="0.45"/>
<circle cx="62.71" cy="643.78" r="1.3" fill="#b0e87e" stroke="#7f9f69" stroke-width="0.45"/>
<circle cx="74.31" cy="624.63" r="1.3" fill="#b0e87e" stroke="#7f9f69" stroke-width="0.45"/>
<circle cx="87.43" cy="622.68" r="1.3" fill="#b0e87e" stroke="#7f9f69" stroke-width="0.45"/>
<circle cx="79.80" cy="638.97" r="1.3" fill="#b0e87e" stroke="#7f9f69" stroke-width="0.45"/>
<circle cx="72.31" cy="634.13" r="1.3" fill="#b0e87e" stroke="#7f9f69" stroke-width="0.45"/>
<circle cx="61.16" cy="605.49" r="1.3" fill="#b0e87e" stroke="#7f9f69" stroke-width="0.45"/>
<circle cx="90.93" cy="632.37" r="1.3" fill="#b0e87e" stroke="#7f9f69" stroke-width="0.45"/>
<circle cx="67.55" cy="635.41" r="1.3" fill="#b0e87e" stroke="#7f9f69" stroke-width="0.45"/>
<circle cx="59.56" cy="612.12" r="1.3" fill="#b0e87e" stroke="#7f9f69" stroke-width="0.45"/>
<circle cx="60.05" cy="640.26" r="1.3" fill="#b0e87e" stroke="#7f9f69" stroke-width="0.45"/>
<circle cx="73.07" cy="632.24" r="1.3" fill="#b0e87e" stroke="#7f9f69" stroke-width="0.45"/>
<circle cx="54.40" cy="639.64" r="1.3" fill="#b0e87e" stroke="#7f9f69" stroke-width="0.45"/>
<circle cx="67.38" cy="641.23" r="1.3" fill="#b0e87e" stroke="#7f9f69" stroke-width="0.45"/>
<circle cx="60.80" cy="639.27" r="1.3" fill="#b0e87e" stroke="#7f9f69" stroke-width="0.45"/>
<circle cx="67.70" cy="615.19" r="1.3" fill="#b0e87e" stroke="#7f9f69" stroke-width="0.45"/>
<circle cx="78.13" cy="622.96" r="1.3" fill="#b0e87e" stroke="#7f9f69" stroke-width="0.45"/>
<circle cx="74.12" cy="630.94" r="1.3" fill="#b0e87e" stroke="#7f9f69" stroke-width="0.45"/>
<circle cx="82.99" cy="600.34" r="1.3" fill="#b0e87e" stroke="#7f9f69" stroke-width="0.45"/>
<circle cx="59.12" cy="630.86" r="1.3" fill="#b0e87e" stroke="#7f9f69" stroke-width="0.45"/>
<circle cx="62.27" cy="639.66" r="1.3" fill="#b0e87e" stroke="#7f9f69" stroke-width="0.45"/>
<circle cx="62.02" cy="631.68" r="1.3" fill="#b0e87e" stroke="#7f9f69" stroke-width="0.45"/>
<circle cx="55.85" cy="639.24" r="1.3" fill="#b0e87e" stroke="#7f9f69" stroke-width="0.45"/>
<circle cx="58.76" cy="644.78" r="1.3" fill="#b0e87e" stroke="#7f9f69" stroke-width="0.45"/>
<circle cx="67.49" cy="629.19" r="1.3" fill="#b0e87e" stroke="#7f9f69" stroke-width="0.45"/>
<circle cx="81.21" cy="636.02" r="1.3" fill="#b0e87e" stroke="#7f9f69" stroke-width="0.45"/>
<circle cx="71.89" cy="636.55" r="1.3" fill="#b0e87e" stroke="#7f9f69" stroke-width="0.45"/>
<circle cx="81.51" cy="635.55" r="1.3" fill="#b0e87e" stroke="#7f9f69" stroke-width="0.45"/>
<circle cx="55.53" cy="637.87" r="1.3" fill="#b0e87e" stroke="#7f9f69" stroke-width="0.45"/>
<circle cx="69.64" cy="618.28" r="1.3" fill="#b0e87e" stroke="#7f9f69" stroke-width="0.45"/>
<circle cx="88.29" cy="632.54" r="1.3" fill="#b0e87e" stroke="#7f9f69" stroke-width="0.45"/>
<circle cx="72.97" cy="605.82" r="1.3" fill="#b0e87e" stroke="#7f9f69" stroke-width="0.45"/>
<circle cx="74.63" cy="632.19" r="1.3" fill="#b0e87e" stroke="#7f9f69" stroke-width="0.45"/>
<circle cx="77.68" cy="628.54" r="1.3" fill="#b0e87e" stroke="#7f9f69" stroke-width="0.45"/>
<circle cx="62.15" cy="638.82" r="1.3" fill="#b0e87e" stroke="#7f9f69" stroke-width="0.45"/>
<circle cx="60.12" cy="640.99" r="1.3" fill="#b0e87e" stroke="#7f9f69" stroke-width="0.45"/>
<circle cx="80.74" cy="636.40" r="1.3" fill="#b0e87e" stroke="#7f9f69" stroke-width="0.45"/>
<circle cx="69.41" cy="632.70" r="1.3" fill="#b0e87e" stroke="#7f9f69" stroke-width="0.45"/>
<circle cx="56.53" cy="633.64" r="1.3" fill="#b0e87e" stroke="#7f9f69" stroke-width="0.45"/>
<circle cx="75.67" cy="620.43" r="1.3" fill="#b0e87e" stroke="#7f9f69" stroke-width="0.45"/>
<circle cx="63.51" cy="631.50" r="1.3" fill="#b0e87e" stroke="#7f9f69" stroke-width="0.45"/>
<circle cx="75.81" cy="610.98" r="1.3" fill="#b0e87e" stroke="#7f9f69" stroke-width="0.45"/>
<circle cx="63.52" cy="637.24" r="1.3" fill="#b0e87e" stroke="#7f9f69" stroke-width="0.45"/>
<circle cx="59.92" cy="645.67" r="1.3" fill="#b0e87e" stroke="#7f9f69" stroke-width="0.45"/>
<circle cx="80.96" cy="619.92" r="1.3" fill="#b0e87e" stroke="#7f9f69" stroke-width="0.45"/>
<circle cx="65.75" cy="613.80" r="1.3" fill="#b0e87e" stroke="#7f9f69" stroke-width="0.45"/>
<circle cx="71.07" cy="608.84" r="1.3" fill="#b0e87e" stroke="#7f9f69" stroke-width="0.45"/>
<circle cx="60.45" cy="629.46" r="1.3" fill="#b0e87e" stroke="#7f9f69" stroke-width="0.45"/>
<circle cx="81.61" cy="642.60" r="1.3" fill="#b0e87e" stroke="#7f9f69" stroke-width="0.45"/>
<circle cx="68.05" cy="635.98" r="1.3" fill="#b0e87e" stroke="#7f9f69" stroke-width="0.45"/>
<circle cx="61.92" cy="628.21" r="1.3" fill="#b0e87e" stroke="#7f9f69" stroke-width="0.45"/>
<circle cx="60.22" cy="626.15" r="1.3" fill="#b0e87e" stroke="#7f9f69" stroke-width="0.45"/>
<circle cx="72.97" cy="603.09" r="1.3" fill="#b0e87e" stroke="#7f9f69" stroke-width="0.45"/>
<circle cx="66.52" cy="622.46" r="1.3" fill="#b0e87e" stroke="#7f9f69" stroke-width="0.45"/>
<circle cx="72.25" cy="622.82" r="1.3" fill="#b0e87e" stroke="#7f9f69" stroke-width="0.45"/>
<circle cx="70.94" cy="643.79" r="1.3" fill="#b0e87e" stroke="#7f9f69" stroke-width="0.45"/>
<circle cx="70.74" cy="633.58" r="1.3" fill="#b0e87e" stroke="#7f9f69" stroke-width="0.45"/>
<circle cx="56.17" cy="617.14" r="1.3" fill="#b0e87e" stroke="#7f9f69" stroke-width="0.45"/>
<circle cx="69.15" cy="635.75" r="1.3" fill="#b0e87e" stroke="#7f9f69" stroke-width="0.45"/>
<circle cx="85.31" cy="624.76" r="1.3" fill="#b0e87e" stroke="#7f9f69" stroke-width="0.45"/>
<circle cx="96.69" cy="624.48" r="1.3" fill="#b0e87e" stroke="#7f9f69" stroke-width="0.45"/>
<circle cx="72.03" cy="616.52" r="1.3" fill="#b0e87e" stroke="#7f9f69" stroke-width="0.45"/>
<circle cx="60.58" cy="622.60" r="1.3" fill="#b0e87e" stroke="#7f9f69" stroke-width="0.45"/>
<circle cx="55.44" cy="645.23" r="1.3" fill="#b0e87e" stroke="#7f9f69" stroke-width="0.45"/>
<circle cx="67.32" cy="617.62" r="1.3" fill="#b0e87e" stroke="#7f9f69" stroke-width="0.45"/>
<circle cx="78.29" cy="629.19" r="1.3" fill="#b0e87e" stroke="#7f9f69" stroke-width="0.45"/>
<circle cx="78.68" cy="623.33" r="1.3" fill="#b0e87e" stroke="#7f9f69" stroke-width="0.45"/>
<circle cx="58.52" cy="627.37" r="1.3" fill="#b0e87e" stroke="#7f9f69" stroke-width="0.45"/>
<circle cx="58.29" cy="630.69" r="1.3" fill="#b0e87e" stroke="#7f9f69" stroke-width="0.45"/>
<circle cx="85.94" cy="617.17" r="1.3" fill="#b0e87e" stroke="#7f9f69" stroke-width="0.45"/>
<circle cx="77.88" cy="621.14" r="1.3" fill="#b0e87e" stroke="#7f9f69" stroke-width="0.45"/>
<circle cx="78.86" cy="629.18" r="1.3" fill="#b0e87e" stroke="#7f9f69" stroke-width="0.45"/>
<circle cx="78.31" cy="621.98" r="1.3" fill="#b0e87e" stroke="#7f9f69" stroke-width="0.45"/>
<circle cx="76.82" cy="628.10" r="1.3" fill="#b0e87e" stroke="#7f9f69" stroke-width="0.45"/>
<circle cx="59.61" cy="630.90" r="1.3" fill="#b0e87e" stroke="#7f9f69" stroke-width="0.45"/>
<circle cx="67.21" cy="643.78" r="1.3" fill="#b0e87e" stroke="#7f9f69" stroke-width="0.45"/>
<circle cx="74.07" cy="625.96" r="1.3" fill="#b0e87e" stroke="#7f9f69" stroke-width="0.45"/>
<circle cx="59.61" cy="634.11" r="1.3" fill="#b0e87e" stroke="#7f9f69" stroke-width="0.45"/>
<circle cx="73.38" cy="618.50" r="1.3" fill="#b0e87e" stroke="#7f9f69" stroke-width="0.45"/>
<circle cx="76.26" cy="631.13" r="1.3" fill="#b0e87e" stroke="#7f9f69" stroke-width="0.45"/>
<circle cx="71.65" cy="636.18" r="1.3" fill="#b0e87e" stroke="#7f9f69" stroke-width="0.45"/>
<circle cx="83.13" cy="610.66" r="1.3" fill="#b0e87e" stroke="#7f9f69" stroke-width="0.45"/>
<circle cx="67.20" cy="610.71" r="1.3" fill="#b0e87e" stroke="#7f9f69" stroke-width="0.45"/>
<circle cx="65.12" cy="638.59" r="1.3" fill="#b0e87e" stroke="#7f9f69" stroke-width="0.45"/>
<circle cx="64.10" cy="638.09" r="1.3" fill="#b0e87e" stroke="#7f9f69" stroke-width="0.45"/>
<circle cx="81.73" cy="619.47" r="1.3" fill="#b0e87e" stroke="#7f9f69" stroke-width="0.45"/>
<circle cx="69.31" cy="611.83" r="1.3" fill="#b0e87e" stroke="#7f9f69" stroke-width="0.45"/>
<circle cx="100.26" cy="614.02" r="1.3" fill="#b0e87e" stroke="#7f9f69" stroke-width="0.45"/>
<circle cx="63.62" cy="644.14" r="1.3" fill="#b0e87e" stroke="#7f9f69" stroke-width="0.45"/>
<circle cx="67.12" cy="639.52" r="1.3" fill="#b0e87e" stroke="#7f9f69" stroke-width="0.45"/>
<circle cx="84.38" cy="630.43" r="1.3" fill="#b0e87e" stroke="#7f9f69" stroke-width="0.45"/>
<circle cx="72.36" cy="633.09" r="1.3" fill="#b0e87e" stroke="#7f9f69" stroke-width="0.45"/>
<circle cx="61.51" cy="638.08" r="1.3" fill="#b0e87e" stroke="#7f9f69" stroke-width="0.45"/>
<circle cx="76.30" cy="622.31" r="1.3" fill="#b0e87e" stroke="#7f9f69" stroke-width="0.45"/>
<circle cx="102.64" cy="634.78" r="1.3" fill="#b0e87e" stroke="#7f9f69" stroke-width="0.45"/>
<circle cx="56.22" cy="616.87" r="1.3" fill="#b0e87e" stroke="#7f9f69" stroke-width="0.45"/>
<circle cx="71.72" cy="629.89" r="1.3" fill="#b0e87e" stroke="#7f9f69" stroke-width="0.45"/>
<circle cx="57.88" cy="604.88" r="1.3" fill="#b0e87e" stroke="#7f9f69" stroke-width="0.45"/>
<circle cx="60.32" cy="623.73" r="1.3" fill="#b0e87e" stroke="#7f9f69" stroke-width="0.45"/>
<circle cx="60.76" cy="622.31" r="1.3" fill="#b0e87e" stroke="#7f9f69" stroke-width="0.45"/>
<circle cx="75.05" cy="611.70" r="1.3" fill="#b0e87e" stroke="#7f9f69" stroke-width="0.45"/>
<circle cx="74.73" cy="638.49" r="1.3" fill="#b0e87e" stroke="#7f9f69" stroke-width="0.45"/>
<circle cx="58.25" cy="639.72" r="1.3" fill="#b0e87e" stroke="#7f9f69" stroke-width="0.45"/>
<circle cx="73.60" cy="626.91" r="1.3" fill="#b0e87e" stroke="#7f9f69" stroke-width="0.45"/>
<circle cx="73.94" cy="634.37" r="1.3" fill="#b0e87e" stroke="#7f9f69" stroke-width="0.45"/>
<circle cx="70.45" cy="631.72" r="1.3" fill="#b0e87e" stroke="#7f9f69" stroke-width="0.45"/>
<circle cx="89.42" cy="640.39" r="1.3" fill="#b0e87e" stroke="#7f9f69" stroke-width="0.45"/>
<circle cx="69.82" cy="642.08" r="1.3" fill="#b0e87e" stroke="#7f9f69" stroke-width="0.45"/>
<circle cx="72.67" cy="631.17" r="1.3" fill="#b0e87e" stroke="#7f9f69" stroke-width="0.45"/>
<circle cx="65.16" cy="595.81" r="1.3" fill="#b0e87e" stroke="#7f9f69" stroke-width="0.45"/>
<circle cx="62.79" cy="644.04" r="1.3" fill="#b0e87e" stroke="#7f9f69" stroke-width="0.45"/>
<circle cx="84.45" cy="632.50" r="1.3" fill="#b0e87e" stroke="#7f9f69" stroke-width="0.45"/>
<circle cx="73.71" cy="634.34" r="1.3" fill="#b0e87e" stroke="#7f9f69" stroke-width="0.45"/>
<circle cx="79.64" cy="627.48" r="1.3" fill="#b0e87e" stroke="#7f9f69" stroke-width="0.45"/>
<circle cx="72.19" cy="625.56" r="1.3" fill="#b0e87e" stroke="#7f9f69" stroke-width="0.45"/>
<circle cx="89.23" cy="636.02" r="1.3" fill="#b0e87e" stroke="#7f9f69" stroke-width="0.45"/>
<circle cx="81.39" cy="612.21" r="1.3" fill="#b0e87e" stroke="#7f9f69" stroke-width="0.45"/>
<circle cx="63.30" cy="636.92" r="1.3" fill="#b0e87e" stroke="#7f9f69" stroke-width="0.45"/>
<circle cx="103.03" cy="604.35" r="1.3" fill="#b0e87e" stroke="#7f9f69" stroke-width="0.45"/>
<circle cx="58.68" cy="627.12" r="1.3" fill="#b0e87e" stroke="#7f9f69" stroke-width="0.45"/>
<circle cx="70.88" cy="639.09" r="1.3" fill="#b0e87e" stroke="#7f9f69" stroke-width="0.45"/>
<circle cx="63.19" cy="636.88" r="1.3" fill="#b0e87e" stroke="#7f9f69" stroke-width="0.45"/>
<circle cx="72.31" cy="631.84" r="1.3" fill="#b0e87e" stroke="#7f9f69" stroke-width="0.45"/>
<circle cx="64.47" cy="638.33" r="1.3" fill="#b0e87e" stroke="#7f9f69" stroke-width="0.45"/>
<circle cx="79.05" cy="599.40" r="1.3" fill="#b0e87e" stroke="#7f9f69" stroke-width="0.45"/>
<circle cx="64.14" cy="632.45" r="1.3" fill="#b0e87e" stroke="#7f9f69" stroke-width="0.45"/>
<circle cx="58.99" cy="644.25" r="1.3" fill="#b0e87e" stroke="#7f9f69" stroke-width="0.45"/>
<circle cx="68.89" cy="635.70" r="1.3" fill="#b0e87e" stroke="#7f9f69" stroke-width="0.45"/>
<circle cx="79.13" cy="622.23" r="1.3" fill="#b0e87e" stroke="#7f9f69" stroke-width="0.45"/>
<circle cx="109.99" cy="625.36" r="1.3" fill="#b0e87e" stroke="#7f9f69" stroke-width="0.45"/>
<circle cx="62.66" cy="639.36" r="1.3" fill="#b0e87e" stroke="#7f9f69" stroke-width="0.45"/>
<circle cx="68.22" cy="631.26" r="1.3" fill="#b0e87e" stroke="#7f9f69" stroke-width="0.45"/>
<circle cx="101.01" cy="618.60" r="1.3" fill="#b0e87e" stroke="#7f9f69" stroke-width="0.45"/>
<circle cx="68.87" cy="637.18" r="1.3" fill="#b0e87e" stroke="#7f9f69" stroke-width="0.45"/>
<circle cx="55.48" cy="636.29" r="1.3" fill="#b0e87e" stroke="#7f9f69" stroke-width="0.45"/>
<circle cx="54.92" cy="643.73" r="1.3" fill="#b0e87e" stroke="#7f9f69" stroke-width="0.45"/>
<circle cx="75.57" cy="630.61" r="1.3" fill="#b0e87e" stroke="#7f9f69" stroke-width="0.45"/>
<circle cx="56.06" cy="639.91" r="1.3" fill="#b0e87e" stroke="#7f9f69" stroke-width="0.45"/>
<circle cx="74.01" cy="639.35" r="1.3" fill="#b0e87e" stroke="#7f9f69" stroke-width="0.45"/>
<circle cx="71.42" cy="641.22" r="1.3" fill="#b0e87e" stroke="#7f9f69" stroke-width="0.45"/>
<circle cx="80.66" cy="608.07" r="1.3" fill="#b0e87e" stroke="#7f9f69" stroke-width="0.45"/>
<circle cx="86.29" cy="629.09" r="1.3" fill="#b0e87e" stroke="#7f9f69" stroke-width="0.45"/>
<circle cx="78.17" cy="608.90" r="1.3" fill="#b0e87e" stroke="#7f9f69" stroke-width="0.45"/>
<circle cx="86.22" cy="630.25" r="1.3" fill="#b0e87e" stroke="#7f9f69" stroke-width="0.45"/>
<circle cx="90.18" cy="615.37" r="1.3" fill="#b0e87e" stroke="#7f9f69" stroke-width="0.45"/>
<circle cx="91.07" cy="633.39" r="1.3" fill="#b0e87e" stroke="#7f9f69" stroke-width="0.45"/>
<circle cx="68.50" cy="625.89" r="1.3" fill="#b0e87e" stroke="#7f9f69" stroke-width="0.45"/>
<circle cx="60.21" cy="626.82" r="1.3" fill="#b0e87e" stroke="#7f9f69" stroke-width="0.45"/>
<circle cx="70.30" cy="636.67" r="1.3" fill="#b0e87e" stroke="#7f9f69" stroke-width="0.45"/>
<circle cx="70.02" cy="641.74" r="1.3" fill="#b0e87e" stroke="#7f9f69" stroke-width="0.45"/>
<circle cx="61.33" cy="616.17" r="1.3" fill="#b0e87e" stroke="#7f9f69" stroke-width="0.45"/>
<circle cx="68.03" cy="621.65" r="1.3" fill="#b0e87e" stroke="#7f9f69" stroke-width="0.45"/>
<circle cx="64.91" cy="635.28" r="1.3" fill="#b0e87e" stroke="#7f9f69" stroke-width="0.45"/>
<circle cx="70.05" cy="626.88" r="1.3" fill="#b0e87e" stroke="#7f9f69" stroke-width="0.45"/>
<circle cx="59.17" cy="637.36" r="1.3" fill="#b0e87e" stroke="#7f9f69" stroke-width="0.45"/>
<circle cx="55.90" cy="622.93" r="1.3" fill="#b0e87e" stroke="#7f9f69" stroke-width="0.45"/>
<circle cx="91.33" cy="630.00" r="1.3" fill="#b0e87e" stroke="#7f9f69" stroke-width="0.45"/>
<circle cx="58.26" cy="641.54" r="1.3" fill="#b0e87e" stroke="#7f9f69" stroke-width="0.45"/>
<circle cx="78.64" cy="620.77" r="1.3" fill="#b0e87e" stroke="#7f9f69" stroke-width="0.45"/>
<circle cx="65.35" cy="633.67" r="1.3" fill="#b0e87e" stroke="#7f9f69" stroke-width="0.45"/>
<circle cx="59.96" cy="640.41" r="1.3" fill="#b0e87e" stroke="#7f9f69" stroke-width="0.45"/>
<circle cx="60.61" cy="641.39" r="1.3" fill="#b0e87e" stroke="#7f9f69" stroke-width="0.45"/>
<circle cx="80.09" cy="607.89" r="1.3" fill="#b0e87e" stroke="#7f9f69" stroke-width="0.45"/>
<circle cx="81.10" cy="626.30" r="1.3" fill="#b0e87e" stroke="#7f9f69" stroke-width="0.45"/>
<circle cx="79.38" cy="622.73" r="1.3" fill="#b0e87e" stroke="#7f9f69" stroke-width="0.45"/>
<circle cx="54.53" cy="645.14" r="1.3" fill="#b0e87e" stroke="#7f9f69" stroke-width="0.45"/>
<circle cx="98.55" cy="634.40" r="1.3" fill="#b0e87e" stroke="#7f9f69" stroke-width="0.45"/>
<circle cx="62.28" cy="634.91" r="1.3" fill="#b0e87e" stroke="#7f9f69" stroke-width="0.45"/>
<circle cx="67.43" cy="641.85" r="1.3" fill="#b0e87e" stroke="#7f9f69" stroke-width="0.45"/>
<circle cx="59.24" cy="639.52" r="1.3" fill="#b0e87e" stroke="#7f9f69" stroke-width="0.45"/>
<circle cx="75.84" cy="626.51" r="1.3" fill="#b0e87e" stroke="#7f9f69" stroke-width="0.45"/>
<circle cx="69.65" cy="625.81" r="1.3" fill="#b0e87e" stroke="#7f9f69" stroke-width="0.45"/>
<circle cx="79.71" cy="629.37" r="1.3" fill="#b0e87e" stroke="#7f9f69" stroke-width="0.45"/>
<circle cx="64.19" cy="632.93" r="1.3" fill="#b0e87e" stroke="#7f9f69" stroke-width="0.45"/>
<circle cx="97.45" cy="628.12" r="1.3" fill="#b0e87e" stroke="#7f9f69" stroke-width="0.45"/>
<circle cx="65.48" cy="626.49" r="1.3" fill="#b0e87e" stroke="#7f9f69" stroke-width="0.45"/>
<circle cx="63.05" cy="632.90" r="1.3" fill="#b0e87e" stroke="#7f9f69" stroke-width="0.45"/>
<circle cx="55.31" cy="628.58" r="1.3" fill="#b0e87e" stroke="#7f9f69" stroke-width="0.45"/>
<circle cx="56.86" cy="619.87" r="1.3" fill="#b0e87e" stroke="#7f9f69" stroke-width="0.45"/>
<circle cx="64.09" cy="640.77" r="1.3" fill="#b0e87e" stroke="#7f9f69" stroke-width="0.45"/>
<circle cx="59.17" cy="637.71" r="1.3" fill="#b0e87e" stroke="#7f9f69" stroke-width="0.45"/>
<circle cx="69.46" cy="626.02" r="1.3" fill="#b0e87e" stroke="#7f9f69" stroke-width="0.45"/>
<circle cx="74.24" cy="638.16" r="1.3" fill="#b0e87e" stroke="#7f9f69" stroke-width="0.45"/>
<circle cx="56.80" cy="631.83" r="1.3" fill="#b0e87e" stroke="#7f9f69" stroke-width="0.45"/>
<circle cx="58.63" cy="639.05" r="1.3" fill="#b0e87e" stroke="#7f9f69" stroke-width="0.45"/>
<circle cx="58.59" cy="626.27" r="1.3" fill="#b0e87e" stroke="#7f9f69" stroke-width="0.45"/>
<circle cx="70.36" cy="639.27" r="1.3" fill="#b0e87e" stroke="#7f9f69" stroke-width="0.45"/>
<circle cx="88.47" cy="623.01" r="1.3" fill="#b0e87e" stroke="#7f9f69" stroke-width="0.45"/>
<circle cx="63.88" cy="644.39" r="1.3" fill="#b0e87e" stroke="#7f9f69" stroke-width="0.45"/>
<circle cx="54.91" cy="641.87" r="1.3" fill="#b0e87e" stroke="#7f9f69" stroke-width="0.45"/>
<circle cx="56.65" cy="637.30" r="1.3" fill="#b0e87e" stroke="#7f9f69" stroke-width="0.45"/>
<circle cx="99.82" cy="620.02" r="1.3" fill="#b0e87e" stroke="#7f9f69" stroke-width="0.45"/>
<circle cx="82.46" cy="626.26" r="1.3" fill="#b0e87e" stroke="#7f9f69" stroke-width="0.45"/>
<circle cx="62.60" cy="641.15" r="1.3" fill="#b0e87e" stroke="#7f9f69" stroke-width="0.45"/>
<circle cx="75.58" cy="638.87" r="1.3" fill="#b0e87e" stroke="#7f9f69" stroke-width="0.45"/>
<circle cx="106.94" cy="622.08" r="1.3" fill="#b0e87e" stroke="#7f9f69" stroke-width="0.45"/>
<circle cx="60.49" cy="622.62" r="1.3" fill="#b0e87e" stroke="#7f9f69" stroke-width="0.45"/>
<circle cx="75.78" cy="620.93" r="1.3" fill="#b0e87e" stroke="#7f9f69" stroke-width="0.45"/>
<circle cx="71.47" cy="613.01" r="1.3" fill="#b0e87e" stroke="#7f9f69" stroke-width="0.45"/>
<circle cx="58.58" cy="639.89" r="1.3" fill="#b0e87e" stroke="#7f9f69" stroke-width="0.45"/>
<circle cx="76.06" cy="634.20" r="1.3" fill="#b0e87e" stroke="#7f9f69" stroke-width="0.45"/>
<circle cx="75.96" cy="634.27" r="1.3" fill="#b0e87e" stroke="#7f9f69" stroke-width="0.45"/>
<circle cx="54.77" cy="632.09" r="1.3" fill="#b0e87e" stroke="#7f9f69" stroke-width="0.45"/>
<circle cx="55.70" cy="621.36" r="1.3" fill="#b0e87e" stroke="#7f9f69" stroke-width="0.45"/>
<circle cx="63.52" cy="616.59" r="1.3" fill="#b0e87e" stroke="#7f9f69" stroke-width="0.45"/>
<circle cx="111.44" cy="605.29" r="1.3" fill="#b0e87e" stroke="#7f9f69" stroke-width="0.45"/>
<circle cx="58.62" cy="638.61" r="1.3" fill="#b0e87e" stroke="#7f9f69" stroke-width="0.45"/>
<circle cx="84.01" cy="619.80" r="1.3" fill="#b0e87e" stroke="#7f9f69" stroke-width="0.45"/>
<circle cx="57.28" cy="637.36" r="1.3" fill="#b0e87e" stroke="#7f9f69" stroke-width="0.45"/>
<circle cx="54.42" cy="629.19" r="1.3" fill="#b0e87e" stroke="#7f9f69" stroke-width="0.45"/>
<circle cx="56.13" cy="636.43" r="1.3" fill="#b0e87e" stroke="#7f9f69" stroke-width="0.45"/>
<circle cx="68.50" cy="621.71" r="1.3" fill="#b0e87e" stroke="#7f9f69" stroke-width="0.45"/>
<circle cx="96.16" cy="628.60" r="1.3" fill="#b0e87e" stroke="#7f9f69" stroke-width="0.45"/>
<circle cx="57.92" cy="628.73" r="1.3" fill="#b0e87e" stroke="#7f9f69" stroke-width="0.45"/>
<circle cx="68.69" cy="629.80" r="1.3" fill="#b0e87e" stroke="#7f9f69" stroke-width="0.45"/>
<circle cx="64.91" cy="642.09" r="1.3" fill="#b0e87e" stroke="#7f9f69" stroke-width="0.45"/>
<circle cx="55.66" cy="616.86" r="1.3" fill="#b0e87e" stroke="#7f9f69" stroke-width="0.45"/>
<circle cx="70.98" cy="635.14" r="1.3" fill="#b0e87e" stroke="#7f9f69" stroke-width="0.45"/>
<circle cx="65.62" cy="626.23" r="1.3" fill="#b0e87e" stroke="#7f9f69" stroke-width="0.45"/>
<circle cx="62.66" cy="628.90" r="1.3" fill="#b0e87e" stroke="#7f9f69" stroke-width="0.45"/>
<circle cx="86.79" cy="637.56" r="1.3" fill="#b0e87e" stroke="#7f9f69" stroke-width="0.45"/>
<circle cx="57.66" cy="635.26" r="1.3" fill="#b0e87e" stroke="#7f9f69" stroke-width="0.45"/>
<circle cx="90.77" cy="635.04" r="1.3" fill="#b0e87e" stroke="#7f9f69" stroke-width="0.45"/>
<circle cx="57.39" cy="640.95" r="1.3" fill="#b0e87e" stroke="#7f9f69" stroke-width="0.45"/>
<circle cx="64.53" cy="644.30" r="1.3" fill="#b0e87e" stroke="#7f9f69" stroke-width="0.45"/>
<circle cx="94.14" cy="636.91" r="1.3" fill="#b0e87e" stroke="#7f9f69" stroke-width="0.45"/>
<circle cx="68.50" cy="620.81" r="1.3" fill="#b0e87e" stroke="#7f9f69" stroke-width="0.45"/>
<circle cx="63.35" cy="634.94" r="1.3" fill="#b0e87e" stroke="#7f9f69" stroke-width="0.45"/>
<circle cx="84.37" cy="637.77" r="1.3" fill="#b0e87e" stroke="#7f9f69" stroke-width="0.45"/>
<circle cx="55.20" cy="624.45" r="1.3" fill="#b0e87e" stroke="#7f9f69" stroke-width="0.45"/>
<circle cx="65.89" cy="616.61" r="1.3" fill="#b0e87e" stroke="#7f9f69" stroke-width="0.45"/>
<circle cx="82.77" cy="623.76" r="1.3" fill="#b0e87e" stroke="#7f9f69" stroke-width="0.45"/>
<circle cx="57.07" cy="640.03" r="1.3" fill="#b0e87e" stroke="#7f9f69" stroke-width="0.45"/>
<circle cx="60.49" cy="637.53" r="1.3" fill="#b0e87e" stroke="#7f9f69" stroke-width="0.45"/>
<circle cx="89.30" cy="642.09" r="1.3" fill="#b0e87e" stroke="#7f9f69" stroke-width="0.45"/>
<circle cx="75.64" cy="634.41" r="1.3" fill="#b0e87e" stroke="#7f9f69" stroke-width="0.45"/>
<circle cx="79.04" cy="642.90" r="1.3" fill="#b0e87e" stroke="#7f9f69" stroke-width="0.45"/>
<circle cx="64.10" cy="613.82" r="1.3" fill="#b0e87e" stroke="#7f9f69" stroke-width="0.45"/>
<circle cx="68.69" cy="620.43" r="1.3" fill="#b0e87e" stroke="#7f9f69" stroke-width="0.45"/>
<circle cx="71.18" cy="625.82" r="1.3" fill="#b0e87e" stroke="#7f9f69" stroke-width="0.45"/>
<circle cx="100.91" cy="606.02" r="1.3" fill="#b0e87e" stroke="#7f9f69" stroke-width="0.45"/>
<circle cx="71.44" cy="638.97" r="1.3" fill="#b0e87e" stroke="#7f9f69" stroke-width="0.45"/>
<circle cx="60.28" cy="640.03" r="1.3" fill="#b0e87e" stroke="#7f9f69" stroke-width="0.45"/>
<circle cx="76.07" cy="643.38" r="1.3" fill="#b0e87e" stroke="#7f9f69" stroke-width="0.45"/>
<circle cx="56.92" cy="628.17" r="1.3" fill="#b0e87e" stroke="#7f9f69" stroke-width="0.45"/>
<circle cx="96.18" cy="623.82" r="1.3" fill="#b0e87e" stroke="#7f9f69" stroke-width="0.45"/>
<circle cx="58.51" cy="627.33" r="1.3" fill="#b0e87e" stroke="#7f9f69" stroke-width="0.45"/>
<circle cx="58.20" cy="643.28" r="1.3" fill="#b0e87e" stroke="#7f9f69" stroke-width="0.45"/>
<circle cx="57.71" cy="617.01" r="1.3" fill="#b0e87e" stroke="#7f9f69" stroke-width="0.45"/>
<circle cx="68.54" cy="612.99" r="1.3" fill="#b0e87e" stroke="#7f9f69" stroke-width="0.45"/>
<circle cx="86.04" cy="625.00" r="1.3" fill="#b0e87e" stroke="#7f9f69" stroke-width="0.45"/>
<circle cx="70.47" cy="617.97" r="1.3" fill="#b0e87e" stroke="#7f9f69" stroke-width="0.45"/>
<circle cx="59.27" cy="626.67" r="1.3" fill="#b0e87e" stroke="#7f9f69" stroke-width="0.45"/>
<circle cx="61.53" cy="632.00" r="1.3" fill="#b0e87e" stroke="#7f9f69" stroke-width="0.45"/>
<circle cx="55.83" cy="634.05" r="1.3" fill="#b0e87e" stroke="#7f9f69" stroke-width="0.45"/>
<circle cx="64.79" cy="631.25" r="1.3" fill="#b0e87e" stroke="#7f9f69" stroke-width="0.45"/>
<circle cx="69.65" cy="634.80" r="1.3" fill="#b0e87e" stroke="#7f9f69" stroke-width="0.45"/>
<circle cx="54.76" cy="644.24" r="1.3" fill="#b0e87e" stroke="#7f9f69" stroke-width="0.45"/>
<circle cx="62.88" cy="642.48" r="1.3" fill="#b0e87e" stroke="#7f9f69" stroke-width="0.45"/>
<circle cx="103.67" cy="616.00" r="1.3" fill="#b0e87e" stroke="#7f9f69" stroke-width="0.45"/>
<circle cx="75.83" cy="608.76" r="1.3" fill="#b0e87e" stroke="#7f9f69" stroke-width="0.45"/>
<circle cx="55.60" cy="644.62" r="1.3" fill="#b0e87e" stroke="#7f9f69" stroke-width="0.45"/>
<circle cx="82.10" cy="622.73" r="1.3" fill="#b0e87e" stroke="#7f9f69" stroke-width="0.45"/>
<circle cx="61.64" cy="624.56" r="1.3" fill="#b0e87e" stroke="#7f9f69" stroke-width="0.45"/>
<circle cx="74.17" cy="630.77" r="1.3" fill="#b0e87e" stroke="#7f9f69" stroke-width="0.45"/>
<circle cx="74.14" cy="631.05" r="1.3" fill="#b0e87e" stroke="#7f9f69" stroke-width="0.45"/>
<circle cx="56.40" cy="630.31" r="1.3" fill="#b0e87e" stroke="#7f9f69" stroke-width="0.45"/>
<circle cx="77.35" cy="634.58" r="1.3" fill="#b0e87e" stroke="#7f9f69" stroke-width="0.45"/>
<circle cx="68.31" cy="624.67" r="1.3" fill="#b0e87e" stroke="#7f9f69" stroke-width="0.45"/>
<circle cx="56.81" cy="627.40" r="1.3" fill="#b0e87e" stroke="#7f9f69" stroke-width="0.45"/>
<circle cx="117.30" cy="621.20" r="1.3" fill="#b0e87e" stroke="#7f9f69" stroke-width="0.45"/>
<circle cx="123.50" cy="615.60" r="1.3" fill="#b0e87e" stroke="#7f9f69" stroke-width="0.45"/>
<circle cx="127.80" cy="617.20" r="1.3" fill="#b0e87e" stroke="#7f9f69" stroke-width="0.45"/>
<circle cx="124.90" cy="622.10" r="1.3" fill="#b0e87e" stroke="#7f9f69" stroke-width="0.45"/>
<circle cx="128.40" cy="621.20" r="1.3" fill="#b0e87e" stroke="#7f9f69" stroke-width="0.45"/>
<circle cx="114.40" cy="637.80" r="1.3" fill="#b0e87e" stroke="#7f9f69" stroke-width="0.45"/>
<circle cx="121.40" cy="643.10" r="1.3" fill="#b0e87e" stroke="#7f9f69" stroke-width="0.45"/>
<circle cx="105.60" cy="643.60" r="1.3" fill="#b0e87e" stroke="#7f9f69" stroke-width="0.45"/>
<circle cx="101.60" cy="637.50" r="1.3" fill="#b0e87e" stroke="#7f9f69" stroke-width="0.45"/>
<circle cx="210.30" cy="490.20" r="1.35" fill="#dd2418"/>
<circle cx="202.00" cy="496.50" r="1.35" fill="#dd2418"/>
<circle cx="203.40" cy="496.60" r="1.35" fill="#dd2418"/>
<circle cx="201.50" cy="503.60" r="1.35" fill="#dd2418"/>
<circle cx="228.50" cy="501.60" r="1.35" fill="#dd2418"/>
<circle cx="160.30" cy="509.60" r="1.35" fill="#dd2418"/>
<circle cx="159.00" cy="512.90" r="1.35" fill="#dd2418"/>
<circle cx="173.40" cy="516.50" r="1.35" fill="#dd2418"/>
<circle cx="189.60" cy="527.60" r="1.35" fill="#dd2418"/>
<text x="0.00" y="0.00" font-size="7.4" text-anchor="start" fill="#111" stroke-width="0.13" transform="translate(168.20,490.80) scale(1,1.08)">AT1G20750</text>
<text x="0.00" y="0.00" font-size="7.4" text-anchor="end" fill="#111" stroke-width="0.13" transform="translate(198.90,498.40) scale(1,1.08)">AT2G16380</text>
<text x="0.00" y="0.00" font-size="7.4" text-anchor="start" fill="#111" stroke-width="0.13" font-style="italic" transform="translate(205.60,498.40) scale(1,1.08)">PME26</text>
<text x="0.00" y="0.00" font-size="7.4" text-anchor="start" fill="#111" stroke-width="0.13" transform="translate(193.80,517.30) scale(1,1.08)">AT5G39770</text>
<line x1="223.90" y1="510.60" x2="227.20" y2="505.20" stroke="#111" stroke-width="0.8"/>
<path d="M228.2,503.6 L228.0,507.2 L225.4,505.6 Z" fill="#111"/>
<line x1="289.90" y1="508.20" x2="289.90" y2="643.40" stroke="#c4c4c4" stroke-width="1.2"/>
<line x1="284.80" y1="643.40" x2="289.60" y2="643.40" stroke="#6a6a6a" stroke-width="0.7"/>
<text x="0.00" y="0.00" font-size="6.9" text-anchor="middle" fill="#111" stroke-width="0.13" transform="translate(279.50,646.00) scale(1,1.08)">3</text>
<line x1="284.80" y1="616.36" x2="289.60" y2="616.36" stroke="#6a6a6a" stroke-width="0.7"/>
<text x="0.00" y="0.00" font-size="6.9" text-anchor="middle" fill="#111" stroke-width="0.13" transform="translate(279.50,618.96) scale(1,1.08)">4</text>
<line x1="284.80" y1="589.32" x2="289.60" y2="589.32" stroke="#6a6a6a" stroke-width="0.7"/>
<text x="0.00" y="0.00" font-size="6.9" text-anchor="middle" fill="#111" stroke-width="0.13" transform="translate(279.50,591.92) scale(1,1.08)">5</text>
<line x1="284.80" y1="562.28" x2="289.60" y2="562.28" stroke="#6a6a6a" stroke-width="0.7"/>
<text x="0.00" y="0.00" font-size="6.9" text-anchor="middle" fill="#111" stroke-width="0.13" transform="translate(279.50,564.88) scale(1,1.08)">6</text>
<line x1="284.80" y1="535.24" x2="289.60" y2="535.24" stroke="#6a6a6a" stroke-width="0.7"/>
<text x="0.00" y="0.00" font-size="6.9" text-anchor="middle" fill="#111" stroke-width="0.13" transform="translate(279.50,537.84) scale(1,1.08)">7</text>
<line x1="284.80" y1="508.20" x2="289.60" y2="508.20" stroke="#6a6a6a" stroke-width="0.7"/>
<text x="0.00" y="0.00" font-size="6.9" text-anchor="middle" fill="#111" stroke-width="0.13" transform="translate(279.50,510.80) scale(1,1.08)">8</text>
<line x1="297.40" y1="649.90" x2="474.25" y2="649.90" stroke="#6a6a6a" stroke-width="0.8"/>
<line x1="297.40" y1="649.90" x2="297.40" y2="654.40" stroke="#6a6a6a" stroke-width="0.7"/>
<line x1="309.19" y1="649.90" x2="309.19" y2="654.40" stroke="#6a6a6a" stroke-width="0.7"/>
<line x1="320.98" y1="649.90" x2="320.98" y2="654.40" stroke="#6a6a6a" stroke-width="0.7"/>
<line x1="332.77" y1="649.90" x2="332.77" y2="654.40" stroke="#6a6a6a" stroke-width="0.7"/>
<line x1="344.56" y1="649.90" x2="344.56" y2="654.40" stroke="#6a6a6a" stroke-width="0.7"/>
<line x1="356.35" y1="649.90" x2="356.35" y2="654.40" stroke="#6a6a6a" stroke-width="0.7"/>
<line x1="368.14" y1="649.90" x2="368.14" y2="654.40" stroke="#6a6a6a" stroke-width="0.7"/>
<line x1="379.93" y1="649.90" x2="379.93" y2="654.40" stroke="#6a6a6a" stroke-width="0.7"/>
<line x1="391.72" y1="649.90" x2="391.72" y2="654.40" stroke="#6a6a6a" stroke-width="0.7"/>
<line x1="403.51" y1="649.90" x2="403.51" y2="654.40" stroke="#6a6a6a" stroke-width="0.7"/>
<line x1="415.30" y1="649.90" x2="415.30" y2="654.40" stroke="#6a6a6a" stroke-width="0.7"/>
<line x1="427.09" y1="649.90" x2="427.09" y2="654.40" stroke="#6a6a6a" stroke-width="0.7"/>
<line x1="438.88" y1="649.90" x2="438.88" y2="654.40" stroke="#6a6a6a" stroke-width="0.7"/>
<line x1="450.67" y1="649.90" x2="450.67" y2="654.40" stroke="#6a6a6a" stroke-width="0.7"/>
<line x1="462.46" y1="649.90" x2="462.46" y2="654.40" stroke="#6a6a6a" stroke-width="0.7"/>
<line x1="474.25" y1="649.90" x2="474.25" y2="654.40" stroke="#6a6a6a" stroke-width="0.7"/>
<text x="0.00" y="0.00" font-size="7.1" text-anchor="middle" fill="#111" stroke-width="0.13" transform="translate(297.90,668.20) scale(1,1.08)">7.082</text>
<text x="0.00" y="0.00" font-size="7.1" text-anchor="middle" fill="#111" stroke-width="0.13" transform="translate(343.50,668.20) scale(1,1.08)">7.086</text>
<text x="0.00" y="0.00" font-size="7.1" text-anchor="middle" fill="#111" stroke-width="0.13" transform="translate(391.20,668.20) scale(1,1.08)">7.09</text>
<text x="0.00" y="0.00" font-size="7.1" text-anchor="middle" fill="#111" stroke-width="0.13" transform="translate(438.00,668.20) scale(1,1.08)">7.094</text>
<text x="0.00" y="0.00" font-size="8.1" text-anchor="middle" fill="#111" stroke-width="0.2" transform="translate(385.40,681.00) scale(1,1.08)">Chr 2 (Mb)</text>
<text x="0.00" y="0.00" font-size="8.1" text-anchor="middle" fill="#111" stroke-width="0.2" transform="translate(267.50,571.00) rotate(-90) scale(1,1.08)">-log<tspan font-size="4.70" dy="2.92" stroke-width="0.06">10</tspan><tspan dy="-2.92">(</tspan><tspan font-style="italic">P</tspan>-values) PC1, combined</text>
<circle cx="311.10" cy="544.00" r="1.45" fill="#111"/>
<circle cx="342.40" cy="544.00" r="1.45" fill="#111"/>
<circle cx="373.70" cy="544.00" r="1.45" fill="#111"/>
<circle cx="405.30" cy="544.00" r="1.45" fill="#111"/>
<circle cx="436.40" cy="544.00" r="1.45" fill="#111"/>
<circle cx="467.90" cy="544.00" r="1.45" fill="#111"/>
<rect x="294.3" y="600.1" width="33.20" height="2.9" fill="#e2720e" stroke="#a8560a" stroke-width="0.4"/>
<rect x="341.4" y="600.1" width="40.40" height="2.9" fill="#e2720e" stroke="#a8560a" stroke-width="0.4"/>
<rect x="448.2" y="600.1" width="11.40" height="2.9" fill="#e2720e" stroke="#a8560a" stroke-width="0.4"/>
<circle cx="299.90" cy="612.00" r="2.35" fill="#92d0da" stroke="#6fb0bb" stroke-width="0.4"/>
<circle cx="308.00" cy="635.90" r="2.35" fill="#92d0da" stroke="#6fb0bb" stroke-width="0.4"/>
<circle cx="311.10" cy="635.90" r="2.35" fill="#92d0da" stroke="#6fb0bb" stroke-width="0.4"/>
<circle cx="313.80" cy="635.90" r="2.35" fill="#92d0da" stroke="#6fb0bb" stroke-width="0.4"/>
<circle cx="342.90" cy="645.00" r="2.35" fill="#92d0da" stroke="#6fb0bb" stroke-width="0.4"/>
<circle cx="374.40" cy="629.50" r="2.35" fill="#92d0da" stroke="#6fb0bb" stroke-width="0.4"/>
<circle cx="343.40" cy="560.70" r="2.35" fill="#92d0da" stroke="#6fb0bb" stroke-width="0.4"/>
<circle cx="366.90" cy="596.80" r="2.35" fill="#92d0da" stroke="#6fb0bb" stroke-width="0.4"/>
<circle cx="377.20" cy="586.00" r="2.35" fill="#92d0da" stroke="#6fb0bb" stroke-width="0.4"/>
<circle cx="383.60" cy="521.30" r="2.35" fill="#92d0da" stroke="#6fb0bb" stroke-width="0.4"/>
<circle cx="383.60" cy="549.10" r="2.35" fill="#92d0da" stroke="#6fb0bb" stroke-width="0.4"/>
<circle cx="386.90" cy="550.60" r="2.35" fill="#92d0da" stroke="#6fb0bb" stroke-width="0.4"/>
<circle cx="394.40" cy="549.10" r="2.35" fill="#92d0da" stroke="#6fb0bb" stroke-width="0.4"/>
<circle cx="399.70" cy="559.20" r="2.35" fill="#92d0da" stroke="#6fb0bb" stroke-width="0.4"/>
<circle cx="387.60" cy="579.40" r="2.35" fill="#92d0da" stroke="#6fb0bb" stroke-width="0.4"/>
<circle cx="425.00" cy="599.60" r="2.35" fill="#92d0da" stroke="#6fb0bb" stroke-width="0.4"/>
<circle cx="463.90" cy="599.60" r="2.35" fill="#92d0da" stroke="#6fb0bb" stroke-width="0.4"/>
<circle cx="466.40" cy="599.60" r="2.35" fill="#92d0da" stroke="#6fb0bb" stroke-width="0.4"/>
<text x="0.00" y="0.00" font-size="8.5" text-anchor="start" fill="#111" stroke-width="0.2" transform="translate(299.80,598.30) rotate(-45) scale(1,1.08)">THY&#8722;1</text>
<text x="0.00" y="0.00" font-size="8.65" text-anchor="start" fill="#111" stroke-width="0.2" transform="translate(347.90,599.10) rotate(-45) scale(1,1.08)">AT2G16380</text>
<text x="0.00" y="0.00" font-size="7.8" text-anchor="start" fill="#111" stroke-width="0.2" transform="translate(450.90,598.30) rotate(-45) scale(1,1.08)">CIF1</text>
</svg></body></html>
